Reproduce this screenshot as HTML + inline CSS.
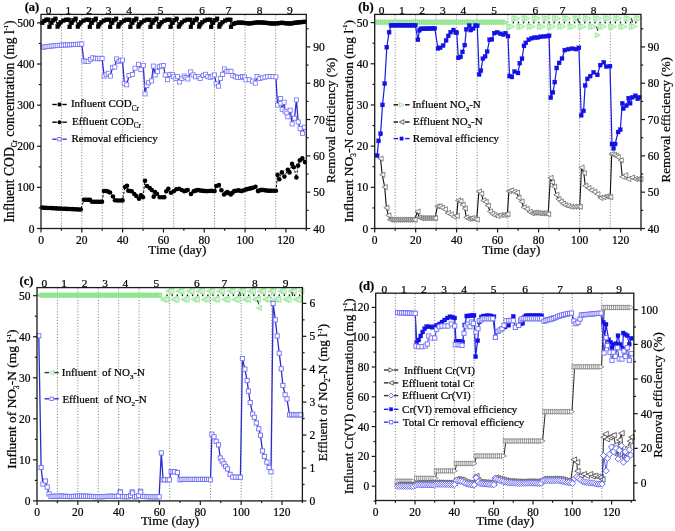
<!DOCTYPE html>
<html><head><meta charset="utf-8"><style>
html,body{margin:0;padding:0;background:#fff;}
svg{display:block;}
text{filter:grayscale(1);stroke:#000;stroke-width:0.22px;}
</style></head><body>
<svg width="675" height="531" viewBox="0 0 675 531" font-family="'Liberation Serif', serif">
<rect width="675" height="531" fill="#fff"/>
<line x1="61.41" y1="15.4" x2="61.41" y2="227.5" stroke="#6a6a6a" stroke-width="0.9" stroke-dasharray="1,1.85"/>
<line x1="81.82" y1="15.4" x2="81.82" y2="227.5" stroke="#6a6a6a" stroke-width="0.9" stroke-dasharray="1,1.85"/>
<line x1="102.22" y1="15.4" x2="102.22" y2="227.5" stroke="#6a6a6a" stroke-width="0.9" stroke-dasharray="1,1.85"/>
<line x1="122.63" y1="15.4" x2="122.63" y2="227.5" stroke="#6a6a6a" stroke-width="0.9" stroke-dasharray="1,1.85"/>
<line x1="143.04" y1="15.4" x2="143.04" y2="227.5" stroke="#6a6a6a" stroke-width="0.9" stroke-dasharray="1,1.85"/>
<line x1="173.65" y1="15.4" x2="173.65" y2="227.5" stroke="#6a6a6a" stroke-width="0.9" stroke-dasharray="1,1.85"/>
<line x1="214.47" y1="15.4" x2="214.47" y2="227.5" stroke="#6a6a6a" stroke-width="0.9" stroke-dasharray="1,1.85"/>
<line x1="245.08" y1="15.4" x2="245.08" y2="227.5" stroke="#6a6a6a" stroke-width="0.9" stroke-dasharray="1,1.85"/>
<line x1="275.69" y1="15.4" x2="275.69" y2="227.5" stroke="#6a6a6a" stroke-width="0.9" stroke-dasharray="1,1.85"/>
<polyline points="42.2,22.9 44.2,21 46.3,19.8 48.4,19.8 49.5,26.9 51.5,22.9 53.2,20.2 55.5,18.8 57.7,26.7 59,24.2 60.8,22.2 63.5,20.7 66.1,19.8 68.8,19.8 69.7,26.9 71.7,22.9 73.4,20.2 75.7,18.8 77.9,26.7 79.2,24.2 81,22.2 83.7,20.7 86.3,19.8 89,19.8 89.9,26.9 91.9,22.9 93.6,20.2 95.9,18.8 98.1,26.7 99.4,24.2 101.2,22.2 103.9,20.7 106.5,19.8 109.2,19.8 110.1,26.9 112.1,22.9 113.8,20.2 116.1,18.8 118.3,26.7 119.6,24.2 121.4,22.2 124.1,20.7 126.7,19.8 129.4,19.8 130.3,26.9 132.3,22.9 134,20.2 136.3,18.8 138.5,26.7 139.8,24.2 141.6,22.2 144.3,20.7 146.9,19.8 149.6,19.8 150.5,26.9 152.5,22.9 154.2,20.2 156.5,18.8 158.7,26.7 160,24.2 161.8,22.2 164.5,20.7 167.1,19.8 169.8,19.8 170.7,26.9 172.7,22.9 174.4,20.2 176.7,18.8 178.9,26.7 180.2,24.2 182,22.2 184.7,20.7 187.3,19.8 190,19.8 190.9,26.9 192.9,22.9 194.6,20.2 196.9,18.8 199.1,26.7 200.4,24.2 202.2,22.2 204.9,20.7 207.5,19.8 210.2,19.8 211.1,26.9 213.1,22.9 214.8,20.2 217.1,18.8 219.3,26.7 220.6,24.2 222.4,22.2 225.1,20.7 227.7,19.8 230.4,19.8 231,26.9 233.4,23.94 235.44,23.06 237.48,22.85 239.52,22.65 241.56,22.72 243.6,22.89 245.64,23.05 247.68,23.21 249.72,23.38 251.76,23.18 253.8,22.93 255.84,22.67 257.88,22.42 259.92,22.52 261.96,22.65 264,22.77 266.04,22.9 268.08,23.08 270.12,23.26 272.16,23.44 274.2,23.58 276.24,23.38 278.28,23.17 280.32,22.97 282.36,22.84 284.4,23.04 286.44,23.24 288.48,23.45 290.52,23.52 292.56,23.22 294.6,22.91 296.64,22.6 298.68,22.34 300.72,22.17 302.76,21.99 304.8,21.82" fill="none" stroke="#000" stroke-width="1.0" stroke-linejoin="round" />
<rect x="40.25" y="20.95" width="3.9" height="3.9" fill="#000" stroke="#000" stroke-width="0.3"/>
<rect x="42.25" y="19.05" width="3.9" height="3.9" fill="#000" stroke="#000" stroke-width="0.3"/>
<rect x="44.35" y="17.85" width="3.9" height="3.9" fill="#000" stroke="#000" stroke-width="0.3"/>
<rect x="46.45" y="17.85" width="3.9" height="3.9" fill="#000" stroke="#000" stroke-width="0.3"/>
<rect x="47.55" y="24.95" width="3.9" height="3.9" fill="#000" stroke="#000" stroke-width="0.3"/>
<rect x="49.55" y="20.95" width="3.9" height="3.9" fill="#000" stroke="#000" stroke-width="0.3"/>
<rect x="51.25" y="18.25" width="3.9" height="3.9" fill="#000" stroke="#000" stroke-width="0.3"/>
<rect x="53.55" y="16.85" width="3.9" height="3.9" fill="#000" stroke="#000" stroke-width="0.3"/>
<rect x="55.75" y="24.75" width="3.9" height="3.9" fill="#000" stroke="#000" stroke-width="0.3"/>
<rect x="57.05" y="22.25" width="3.9" height="3.9" fill="#000" stroke="#000" stroke-width="0.3"/>
<rect x="58.85" y="20.25" width="3.9" height="3.9" fill="#000" stroke="#000" stroke-width="0.3"/>
<rect x="61.55" y="18.75" width="3.9" height="3.9" fill="#000" stroke="#000" stroke-width="0.3"/>
<rect x="64.15" y="17.85" width="3.9" height="3.9" fill="#000" stroke="#000" stroke-width="0.3"/>
<rect x="66.85" y="17.85" width="3.9" height="3.9" fill="#000" stroke="#000" stroke-width="0.3"/>
<rect x="67.75" y="24.95" width="3.9" height="3.9" fill="#000" stroke="#000" stroke-width="0.3"/>
<rect x="69.75" y="20.95" width="3.9" height="3.9" fill="#000" stroke="#000" stroke-width="0.3"/>
<rect x="71.45" y="18.25" width="3.9" height="3.9" fill="#000" stroke="#000" stroke-width="0.3"/>
<rect x="73.75" y="16.85" width="3.9" height="3.9" fill="#000" stroke="#000" stroke-width="0.3"/>
<rect x="75.95" y="24.75" width="3.9" height="3.9" fill="#000" stroke="#000" stroke-width="0.3"/>
<rect x="77.25" y="22.25" width="3.9" height="3.9" fill="#000" stroke="#000" stroke-width="0.3"/>
<rect x="79.05" y="20.25" width="3.9" height="3.9" fill="#000" stroke="#000" stroke-width="0.3"/>
<rect x="81.75" y="18.75" width="3.9" height="3.9" fill="#000" stroke="#000" stroke-width="0.3"/>
<rect x="84.35" y="17.85" width="3.9" height="3.9" fill="#000" stroke="#000" stroke-width="0.3"/>
<rect x="87.05" y="17.85" width="3.9" height="3.9" fill="#000" stroke="#000" stroke-width="0.3"/>
<rect x="87.95" y="24.95" width="3.9" height="3.9" fill="#000" stroke="#000" stroke-width="0.3"/>
<rect x="89.95" y="20.95" width="3.9" height="3.9" fill="#000" stroke="#000" stroke-width="0.3"/>
<rect x="91.65" y="18.25" width="3.9" height="3.9" fill="#000" stroke="#000" stroke-width="0.3"/>
<rect x="93.95" y="16.85" width="3.9" height="3.9" fill="#000" stroke="#000" stroke-width="0.3"/>
<rect x="96.15" y="24.75" width="3.9" height="3.9" fill="#000" stroke="#000" stroke-width="0.3"/>
<rect x="97.45" y="22.25" width="3.9" height="3.9" fill="#000" stroke="#000" stroke-width="0.3"/>
<rect x="99.25" y="20.25" width="3.9" height="3.9" fill="#000" stroke="#000" stroke-width="0.3"/>
<rect x="101.95" y="18.75" width="3.9" height="3.9" fill="#000" stroke="#000" stroke-width="0.3"/>
<rect x="104.55" y="17.85" width="3.9" height="3.9" fill="#000" stroke="#000" stroke-width="0.3"/>
<rect x="107.25" y="17.85" width="3.9" height="3.9" fill="#000" stroke="#000" stroke-width="0.3"/>
<rect x="108.15" y="24.95" width="3.9" height="3.9" fill="#000" stroke="#000" stroke-width="0.3"/>
<rect x="110.15" y="20.95" width="3.9" height="3.9" fill="#000" stroke="#000" stroke-width="0.3"/>
<rect x="111.85" y="18.25" width="3.9" height="3.9" fill="#000" stroke="#000" stroke-width="0.3"/>
<rect x="114.15" y="16.85" width="3.9" height="3.9" fill="#000" stroke="#000" stroke-width="0.3"/>
<rect x="116.35" y="24.75" width="3.9" height="3.9" fill="#000" stroke="#000" stroke-width="0.3"/>
<rect x="117.65" y="22.25" width="3.9" height="3.9" fill="#000" stroke="#000" stroke-width="0.3"/>
<rect x="119.45" y="20.25" width="3.9" height="3.9" fill="#000" stroke="#000" stroke-width="0.3"/>
<rect x="122.15" y="18.75" width="3.9" height="3.9" fill="#000" stroke="#000" stroke-width="0.3"/>
<rect x="124.75" y="17.85" width="3.9" height="3.9" fill="#000" stroke="#000" stroke-width="0.3"/>
<rect x="127.45" y="17.85" width="3.9" height="3.9" fill="#000" stroke="#000" stroke-width="0.3"/>
<rect x="128.35" y="24.95" width="3.9" height="3.9" fill="#000" stroke="#000" stroke-width="0.3"/>
<rect x="130.35" y="20.95" width="3.9" height="3.9" fill="#000" stroke="#000" stroke-width="0.3"/>
<rect x="132.05" y="18.25" width="3.9" height="3.9" fill="#000" stroke="#000" stroke-width="0.3"/>
<rect x="134.35" y="16.85" width="3.9" height="3.9" fill="#000" stroke="#000" stroke-width="0.3"/>
<rect x="136.55" y="24.75" width="3.9" height="3.9" fill="#000" stroke="#000" stroke-width="0.3"/>
<rect x="137.85" y="22.25" width="3.9" height="3.9" fill="#000" stroke="#000" stroke-width="0.3"/>
<rect x="139.65" y="20.25" width="3.9" height="3.9" fill="#000" stroke="#000" stroke-width="0.3"/>
<rect x="142.35" y="18.75" width="3.9" height="3.9" fill="#000" stroke="#000" stroke-width="0.3"/>
<rect x="144.95" y="17.85" width="3.9" height="3.9" fill="#000" stroke="#000" stroke-width="0.3"/>
<rect x="147.65" y="17.85" width="3.9" height="3.9" fill="#000" stroke="#000" stroke-width="0.3"/>
<rect x="148.55" y="24.95" width="3.9" height="3.9" fill="#000" stroke="#000" stroke-width="0.3"/>
<rect x="150.55" y="20.95" width="3.9" height="3.9" fill="#000" stroke="#000" stroke-width="0.3"/>
<rect x="152.25" y="18.25" width="3.9" height="3.9" fill="#000" stroke="#000" stroke-width="0.3"/>
<rect x="154.55" y="16.85" width="3.9" height="3.9" fill="#000" stroke="#000" stroke-width="0.3"/>
<rect x="156.75" y="24.75" width="3.9" height="3.9" fill="#000" stroke="#000" stroke-width="0.3"/>
<rect x="158.05" y="22.25" width="3.9" height="3.9" fill="#000" stroke="#000" stroke-width="0.3"/>
<rect x="159.85" y="20.25" width="3.9" height="3.9" fill="#000" stroke="#000" stroke-width="0.3"/>
<rect x="162.55" y="18.75" width="3.9" height="3.9" fill="#000" stroke="#000" stroke-width="0.3"/>
<rect x="165.15" y="17.85" width="3.9" height="3.9" fill="#000" stroke="#000" stroke-width="0.3"/>
<rect x="167.85" y="17.85" width="3.9" height="3.9" fill="#000" stroke="#000" stroke-width="0.3"/>
<rect x="168.75" y="24.95" width="3.9" height="3.9" fill="#000" stroke="#000" stroke-width="0.3"/>
<rect x="170.75" y="20.95" width="3.9" height="3.9" fill="#000" stroke="#000" stroke-width="0.3"/>
<rect x="172.45" y="18.25" width="3.9" height="3.9" fill="#000" stroke="#000" stroke-width="0.3"/>
<rect x="174.75" y="16.85" width="3.9" height="3.9" fill="#000" stroke="#000" stroke-width="0.3"/>
<rect x="176.95" y="24.75" width="3.9" height="3.9" fill="#000" stroke="#000" stroke-width="0.3"/>
<rect x="178.25" y="22.25" width="3.9" height="3.9" fill="#000" stroke="#000" stroke-width="0.3"/>
<rect x="180.05" y="20.25" width="3.9" height="3.9" fill="#000" stroke="#000" stroke-width="0.3"/>
<rect x="182.75" y="18.75" width="3.9" height="3.9" fill="#000" stroke="#000" stroke-width="0.3"/>
<rect x="185.35" y="17.85" width="3.9" height="3.9" fill="#000" stroke="#000" stroke-width="0.3"/>
<rect x="188.05" y="17.85" width="3.9" height="3.9" fill="#000" stroke="#000" stroke-width="0.3"/>
<rect x="188.95" y="24.95" width="3.9" height="3.9" fill="#000" stroke="#000" stroke-width="0.3"/>
<rect x="190.95" y="20.95" width="3.9" height="3.9" fill="#000" stroke="#000" stroke-width="0.3"/>
<rect x="192.65" y="18.25" width="3.9" height="3.9" fill="#000" stroke="#000" stroke-width="0.3"/>
<rect x="194.95" y="16.85" width="3.9" height="3.9" fill="#000" stroke="#000" stroke-width="0.3"/>
<rect x="197.15" y="24.75" width="3.9" height="3.9" fill="#000" stroke="#000" stroke-width="0.3"/>
<rect x="198.45" y="22.25" width="3.9" height="3.9" fill="#000" stroke="#000" stroke-width="0.3"/>
<rect x="200.25" y="20.25" width="3.9" height="3.9" fill="#000" stroke="#000" stroke-width="0.3"/>
<rect x="202.95" y="18.75" width="3.9" height="3.9" fill="#000" stroke="#000" stroke-width="0.3"/>
<rect x="205.55" y="17.85" width="3.9" height="3.9" fill="#000" stroke="#000" stroke-width="0.3"/>
<rect x="208.25" y="17.85" width="3.9" height="3.9" fill="#000" stroke="#000" stroke-width="0.3"/>
<rect x="209.15" y="24.95" width="3.9" height="3.9" fill="#000" stroke="#000" stroke-width="0.3"/>
<rect x="211.15" y="20.95" width="3.9" height="3.9" fill="#000" stroke="#000" stroke-width="0.3"/>
<rect x="212.85" y="18.25" width="3.9" height="3.9" fill="#000" stroke="#000" stroke-width="0.3"/>
<rect x="215.15" y="16.85" width="3.9" height="3.9" fill="#000" stroke="#000" stroke-width="0.3"/>
<rect x="217.35" y="24.75" width="3.9" height="3.9" fill="#000" stroke="#000" stroke-width="0.3"/>
<rect x="218.65" y="22.25" width="3.9" height="3.9" fill="#000" stroke="#000" stroke-width="0.3"/>
<rect x="220.45" y="20.25" width="3.9" height="3.9" fill="#000" stroke="#000" stroke-width="0.3"/>
<rect x="223.15" y="18.75" width="3.9" height="3.9" fill="#000" stroke="#000" stroke-width="0.3"/>
<rect x="225.75" y="17.85" width="3.9" height="3.9" fill="#000" stroke="#000" stroke-width="0.3"/>
<rect x="228.45" y="17.85" width="3.9" height="3.9" fill="#000" stroke="#000" stroke-width="0.3"/>
<rect x="229.05" y="24.95" width="3.9" height="3.9" fill="#000" stroke="#000" stroke-width="0.3"/>
<rect x="231.45" y="21.99" width="3.9" height="3.9" fill="#000" stroke="#000" stroke-width="0.3"/>
<rect x="233.49" y="21.11" width="3.9" height="3.9" fill="#000" stroke="#000" stroke-width="0.3"/>
<rect x="235.53" y="20.9" width="3.9" height="3.9" fill="#000" stroke="#000" stroke-width="0.3"/>
<rect x="237.57" y="20.7" width="3.9" height="3.9" fill="#000" stroke="#000" stroke-width="0.3"/>
<rect x="239.61" y="20.77" width="3.9" height="3.9" fill="#000" stroke="#000" stroke-width="0.3"/>
<rect x="241.65" y="20.94" width="3.9" height="3.9" fill="#000" stroke="#000" stroke-width="0.3"/>
<rect x="243.69" y="21.1" width="3.9" height="3.9" fill="#000" stroke="#000" stroke-width="0.3"/>
<rect x="245.73" y="21.26" width="3.9" height="3.9" fill="#000" stroke="#000" stroke-width="0.3"/>
<rect x="247.77" y="21.43" width="3.9" height="3.9" fill="#000" stroke="#000" stroke-width="0.3"/>
<rect x="249.81" y="21.23" width="3.9" height="3.9" fill="#000" stroke="#000" stroke-width="0.3"/>
<rect x="251.85" y="20.98" width="3.9" height="3.9" fill="#000" stroke="#000" stroke-width="0.3"/>
<rect x="253.89" y="20.72" width="3.9" height="3.9" fill="#000" stroke="#000" stroke-width="0.3"/>
<rect x="255.93" y="20.47" width="3.9" height="3.9" fill="#000" stroke="#000" stroke-width="0.3"/>
<rect x="257.97" y="20.57" width="3.9" height="3.9" fill="#000" stroke="#000" stroke-width="0.3"/>
<rect x="260.01" y="20.7" width="3.9" height="3.9" fill="#000" stroke="#000" stroke-width="0.3"/>
<rect x="262.05" y="20.82" width="3.9" height="3.9" fill="#000" stroke="#000" stroke-width="0.3"/>
<rect x="264.09" y="20.95" width="3.9" height="3.9" fill="#000" stroke="#000" stroke-width="0.3"/>
<rect x="266.13" y="21.13" width="3.9" height="3.9" fill="#000" stroke="#000" stroke-width="0.3"/>
<rect x="268.17" y="21.31" width="3.9" height="3.9" fill="#000" stroke="#000" stroke-width="0.3"/>
<rect x="270.21" y="21.49" width="3.9" height="3.9" fill="#000" stroke="#000" stroke-width="0.3"/>
<rect x="272.25" y="21.63" width="3.9" height="3.9" fill="#000" stroke="#000" stroke-width="0.3"/>
<rect x="274.29" y="21.43" width="3.9" height="3.9" fill="#000" stroke="#000" stroke-width="0.3"/>
<rect x="276.33" y="21.22" width="3.9" height="3.9" fill="#000" stroke="#000" stroke-width="0.3"/>
<rect x="278.37" y="21.02" width="3.9" height="3.9" fill="#000" stroke="#000" stroke-width="0.3"/>
<rect x="280.41" y="20.89" width="3.9" height="3.9" fill="#000" stroke="#000" stroke-width="0.3"/>
<rect x="282.45" y="21.09" width="3.9" height="3.9" fill="#000" stroke="#000" stroke-width="0.3"/>
<rect x="284.49" y="21.29" width="3.9" height="3.9" fill="#000" stroke="#000" stroke-width="0.3"/>
<rect x="286.53" y="21.5" width="3.9" height="3.9" fill="#000" stroke="#000" stroke-width="0.3"/>
<rect x="288.57" y="21.57" width="3.9" height="3.9" fill="#000" stroke="#000" stroke-width="0.3"/>
<rect x="290.61" y="21.27" width="3.9" height="3.9" fill="#000" stroke="#000" stroke-width="0.3"/>
<rect x="292.65" y="20.96" width="3.9" height="3.9" fill="#000" stroke="#000" stroke-width="0.3"/>
<rect x="294.69" y="20.65" width="3.9" height="3.9" fill="#000" stroke="#000" stroke-width="0.3"/>
<rect x="296.73" y="20.39" width="3.9" height="3.9" fill="#000" stroke="#000" stroke-width="0.3"/>
<rect x="298.77" y="20.22" width="3.9" height="3.9" fill="#000" stroke="#000" stroke-width="0.3"/>
<rect x="300.81" y="20.04" width="3.9" height="3.9" fill="#000" stroke="#000" stroke-width="0.3"/>
<rect x="302.85" y="19.87" width="3.9" height="3.9" fill="#000" stroke="#000" stroke-width="0.3"/>
<polyline points="43,47.2 45.04,46.91 47.08,46.62 49.12,46.33 51.16,46.08 53.2,45.88 55.24,45.68 57.28,45.47 59.32,45.27 61.36,45.15 63.4,45.06 65.44,44.98 67.48,44.9 69.52,44.82 71.56,44.7 73.6,44.57 75.64,44.43 77.68,44.3 79.72,44.17 81.76,44.04 83.8,61 86,61.2 88.2,61.4 90.5,59.5 92.8,57.8 95.3,58.3 97.6,58.8 99.8,58.3 102.1,58.4 104.1,76.1 106.2,74.7 108.3,73.2 110.4,76.1 112.4,67.5 114.8,67 116.6,59 119,61.3 120.8,60.4 122.5,60.1 124.3,83.3 126.7,84.8 129,75.6 132.6,74.4 135,68.2 138.5,64.3 140.9,69.6 143.3,65.5 145,93.9 146.8,85.6 148.6,82.7 151.6,80.9 153.3,66.1 155.1,75 157.5,71.4 159.3,66.7 161.4,66 163.4,65.5 165.2,75 167.6,79.7 169.9,74.4 172.3,74.4 173.6,76.7 175.9,78.4 177.7,76.7 179.5,82 181.9,78.4 184.2,76.1 186,77.5 187.8,79 190.7,71.9 193.1,74.9 195.5,76.7 198.4,76.7 200.2,78.4 203.2,75.5 205.6,74.3 207.9,76.7 210.3,77.3 212.3,76.2 214.4,74.9 216.2,83.8 218.6,86.1 220.4,78.4 222.7,74.3 224.5,69 226.9,71.3 229,71.3 231,71.3 232.8,75.5 235.2,76.7 237.6,77.3 240.5,77.3 242.5,76.6 244.6,77.1 245.9,79.8 249.2,79.8 252.5,81.1 255.2,83.1 257.1,76.5 259.8,78.5 262.4,77.8 265,77.1 267.7,76.5 270.3,76.5 273,76.5 275.9,76.9 277.5,105.1 280.4,98.5 280.8,103.2 282.2,109.3 284.1,102.2 285.1,111.2 286.9,113.1 287.9,116.8 290.2,110.2 292.1,123.9 294.5,118.2 296.4,99.9 298.2,122 300.1,128.6 302.5,133.3 304.4,127.2" fill="none" stroke="#2b2bd0" stroke-width="1.3" stroke-linejoin="round" />
<rect x="40.95" y="45.15" width="4.1" height="4.1" fill="#fff" stroke="#6f6ff5" stroke-width="0.8"/>
<rect x="42.99" y="44.86" width="4.1" height="4.1" fill="#fff" stroke="#6f6ff5" stroke-width="0.8"/>
<rect x="45.03" y="44.57" width="4.1" height="4.1" fill="#fff" stroke="#6f6ff5" stroke-width="0.8"/>
<rect x="47.07" y="44.28" width="4.1" height="4.1" fill="#fff" stroke="#6f6ff5" stroke-width="0.8"/>
<rect x="49.11" y="44.03" width="4.1" height="4.1" fill="#fff" stroke="#6f6ff5" stroke-width="0.8"/>
<rect x="51.15" y="43.83" width="4.1" height="4.1" fill="#fff" stroke="#6f6ff5" stroke-width="0.8"/>
<rect x="53.19" y="43.63" width="4.1" height="4.1" fill="#fff" stroke="#6f6ff5" stroke-width="0.8"/>
<rect x="55.23" y="43.42" width="4.1" height="4.1" fill="#fff" stroke="#6f6ff5" stroke-width="0.8"/>
<rect x="57.27" y="43.22" width="4.1" height="4.1" fill="#fff" stroke="#6f6ff5" stroke-width="0.8"/>
<rect x="59.31" y="43.1" width="4.1" height="4.1" fill="#fff" stroke="#6f6ff5" stroke-width="0.8"/>
<rect x="61.35" y="43.01" width="4.1" height="4.1" fill="#fff" stroke="#6f6ff5" stroke-width="0.8"/>
<rect x="63.39" y="42.93" width="4.1" height="4.1" fill="#fff" stroke="#6f6ff5" stroke-width="0.8"/>
<rect x="65.43" y="42.85" width="4.1" height="4.1" fill="#fff" stroke="#6f6ff5" stroke-width="0.8"/>
<rect x="67.47" y="42.77" width="4.1" height="4.1" fill="#fff" stroke="#6f6ff5" stroke-width="0.8"/>
<rect x="69.51" y="42.65" width="4.1" height="4.1" fill="#fff" stroke="#6f6ff5" stroke-width="0.8"/>
<rect x="71.55" y="42.52" width="4.1" height="4.1" fill="#fff" stroke="#6f6ff5" stroke-width="0.8"/>
<rect x="73.59" y="42.38" width="4.1" height="4.1" fill="#fff" stroke="#6f6ff5" stroke-width="0.8"/>
<rect x="75.63" y="42.25" width="4.1" height="4.1" fill="#fff" stroke="#6f6ff5" stroke-width="0.8"/>
<rect x="77.67" y="42.12" width="4.1" height="4.1" fill="#fff" stroke="#6f6ff5" stroke-width="0.8"/>
<rect x="79.71" y="41.99" width="4.1" height="4.1" fill="#fff" stroke="#6f6ff5" stroke-width="0.8"/>
<rect x="81.75" y="58.95" width="4.1" height="4.1" fill="#fff" stroke="#6f6ff5" stroke-width="0.8"/>
<rect x="83.95" y="59.15" width="4.1" height="4.1" fill="#fff" stroke="#6f6ff5" stroke-width="0.8"/>
<rect x="86.15" y="59.35" width="4.1" height="4.1" fill="#fff" stroke="#6f6ff5" stroke-width="0.8"/>
<rect x="88.45" y="57.45" width="4.1" height="4.1" fill="#fff" stroke="#6f6ff5" stroke-width="0.8"/>
<rect x="90.75" y="55.75" width="4.1" height="4.1" fill="#fff" stroke="#6f6ff5" stroke-width="0.8"/>
<rect x="93.25" y="56.25" width="4.1" height="4.1" fill="#fff" stroke="#6f6ff5" stroke-width="0.8"/>
<rect x="95.55" y="56.75" width="4.1" height="4.1" fill="#fff" stroke="#6f6ff5" stroke-width="0.8"/>
<rect x="97.75" y="56.25" width="4.1" height="4.1" fill="#fff" stroke="#6f6ff5" stroke-width="0.8"/>
<rect x="100.05" y="56.35" width="4.1" height="4.1" fill="#fff" stroke="#6f6ff5" stroke-width="0.8"/>
<rect x="102.05" y="74.05" width="4.1" height="4.1" fill="#fff" stroke="#6f6ff5" stroke-width="0.8"/>
<rect x="104.15" y="72.65" width="4.1" height="4.1" fill="#fff" stroke="#6f6ff5" stroke-width="0.8"/>
<rect x="106.25" y="71.15" width="4.1" height="4.1" fill="#fff" stroke="#6f6ff5" stroke-width="0.8"/>
<rect x="108.35" y="74.05" width="4.1" height="4.1" fill="#fff" stroke="#6f6ff5" stroke-width="0.8"/>
<rect x="110.35" y="65.45" width="4.1" height="4.1" fill="#fff" stroke="#6f6ff5" stroke-width="0.8"/>
<rect x="112.75" y="64.95" width="4.1" height="4.1" fill="#fff" stroke="#6f6ff5" stroke-width="0.8"/>
<rect x="114.55" y="56.95" width="4.1" height="4.1" fill="#fff" stroke="#6f6ff5" stroke-width="0.8"/>
<rect x="116.95" y="59.25" width="4.1" height="4.1" fill="#fff" stroke="#6f6ff5" stroke-width="0.8"/>
<rect x="118.75" y="58.35" width="4.1" height="4.1" fill="#fff" stroke="#6f6ff5" stroke-width="0.8"/>
<rect x="120.45" y="58.05" width="4.1" height="4.1" fill="#fff" stroke="#6f6ff5" stroke-width="0.8"/>
<rect x="122.25" y="81.25" width="4.1" height="4.1" fill="#fff" stroke="#6f6ff5" stroke-width="0.8"/>
<rect x="124.65" y="82.75" width="4.1" height="4.1" fill="#fff" stroke="#6f6ff5" stroke-width="0.8"/>
<rect x="126.95" y="73.55" width="4.1" height="4.1" fill="#fff" stroke="#6f6ff5" stroke-width="0.8"/>
<rect x="130.55" y="72.35" width="4.1" height="4.1" fill="#fff" stroke="#6f6ff5" stroke-width="0.8"/>
<rect x="132.95" y="66.15" width="4.1" height="4.1" fill="#fff" stroke="#6f6ff5" stroke-width="0.8"/>
<rect x="136.45" y="62.25" width="4.1" height="4.1" fill="#fff" stroke="#6f6ff5" stroke-width="0.8"/>
<rect x="138.85" y="67.55" width="4.1" height="4.1" fill="#fff" stroke="#6f6ff5" stroke-width="0.8"/>
<rect x="141.25" y="63.45" width="4.1" height="4.1" fill="#fff" stroke="#6f6ff5" stroke-width="0.8"/>
<rect x="142.95" y="91.85" width="4.1" height="4.1" fill="#fff" stroke="#6f6ff5" stroke-width="0.8"/>
<rect x="144.75" y="83.55" width="4.1" height="4.1" fill="#fff" stroke="#6f6ff5" stroke-width="0.8"/>
<rect x="146.55" y="80.65" width="4.1" height="4.1" fill="#fff" stroke="#6f6ff5" stroke-width="0.8"/>
<rect x="149.55" y="78.85" width="4.1" height="4.1" fill="#fff" stroke="#6f6ff5" stroke-width="0.8"/>
<rect x="151.25" y="64.05" width="4.1" height="4.1" fill="#fff" stroke="#6f6ff5" stroke-width="0.8"/>
<rect x="153.05" y="72.95" width="4.1" height="4.1" fill="#fff" stroke="#6f6ff5" stroke-width="0.8"/>
<rect x="155.45" y="69.35" width="4.1" height="4.1" fill="#fff" stroke="#6f6ff5" stroke-width="0.8"/>
<rect x="157.25" y="64.65" width="4.1" height="4.1" fill="#fff" stroke="#6f6ff5" stroke-width="0.8"/>
<rect x="159.35" y="63.95" width="4.1" height="4.1" fill="#fff" stroke="#6f6ff5" stroke-width="0.8"/>
<rect x="161.35" y="63.45" width="4.1" height="4.1" fill="#fff" stroke="#6f6ff5" stroke-width="0.8"/>
<rect x="163.15" y="72.95" width="4.1" height="4.1" fill="#fff" stroke="#6f6ff5" stroke-width="0.8"/>
<rect x="165.55" y="77.65" width="4.1" height="4.1" fill="#fff" stroke="#6f6ff5" stroke-width="0.8"/>
<rect x="167.85" y="72.35" width="4.1" height="4.1" fill="#fff" stroke="#6f6ff5" stroke-width="0.8"/>
<rect x="170.25" y="72.35" width="4.1" height="4.1" fill="#fff" stroke="#6f6ff5" stroke-width="0.8"/>
<rect x="171.55" y="74.65" width="4.1" height="4.1" fill="#fff" stroke="#6f6ff5" stroke-width="0.8"/>
<rect x="173.85" y="76.35" width="4.1" height="4.1" fill="#fff" stroke="#6f6ff5" stroke-width="0.8"/>
<rect x="175.65" y="74.65" width="4.1" height="4.1" fill="#fff" stroke="#6f6ff5" stroke-width="0.8"/>
<rect x="177.45" y="79.95" width="4.1" height="4.1" fill="#fff" stroke="#6f6ff5" stroke-width="0.8"/>
<rect x="179.85" y="76.35" width="4.1" height="4.1" fill="#fff" stroke="#6f6ff5" stroke-width="0.8"/>
<rect x="182.15" y="74.05" width="4.1" height="4.1" fill="#fff" stroke="#6f6ff5" stroke-width="0.8"/>
<rect x="183.95" y="75.45" width="4.1" height="4.1" fill="#fff" stroke="#6f6ff5" stroke-width="0.8"/>
<rect x="185.75" y="76.95" width="4.1" height="4.1" fill="#fff" stroke="#6f6ff5" stroke-width="0.8"/>
<rect x="188.65" y="69.85" width="4.1" height="4.1" fill="#fff" stroke="#6f6ff5" stroke-width="0.8"/>
<rect x="191.05" y="72.85" width="4.1" height="4.1" fill="#fff" stroke="#6f6ff5" stroke-width="0.8"/>
<rect x="193.45" y="74.65" width="4.1" height="4.1" fill="#fff" stroke="#6f6ff5" stroke-width="0.8"/>
<rect x="196.35" y="74.65" width="4.1" height="4.1" fill="#fff" stroke="#6f6ff5" stroke-width="0.8"/>
<rect x="198.15" y="76.35" width="4.1" height="4.1" fill="#fff" stroke="#6f6ff5" stroke-width="0.8"/>
<rect x="201.15" y="73.45" width="4.1" height="4.1" fill="#fff" stroke="#6f6ff5" stroke-width="0.8"/>
<rect x="203.55" y="72.25" width="4.1" height="4.1" fill="#fff" stroke="#6f6ff5" stroke-width="0.8"/>
<rect x="205.85" y="74.65" width="4.1" height="4.1" fill="#fff" stroke="#6f6ff5" stroke-width="0.8"/>
<rect x="208.25" y="75.25" width="4.1" height="4.1" fill="#fff" stroke="#6f6ff5" stroke-width="0.8"/>
<rect x="210.25" y="74.15" width="4.1" height="4.1" fill="#fff" stroke="#6f6ff5" stroke-width="0.8"/>
<rect x="212.35" y="72.85" width="4.1" height="4.1" fill="#fff" stroke="#6f6ff5" stroke-width="0.8"/>
<rect x="214.15" y="81.75" width="4.1" height="4.1" fill="#fff" stroke="#6f6ff5" stroke-width="0.8"/>
<rect x="216.55" y="84.05" width="4.1" height="4.1" fill="#fff" stroke="#6f6ff5" stroke-width="0.8"/>
<rect x="218.35" y="76.35" width="4.1" height="4.1" fill="#fff" stroke="#6f6ff5" stroke-width="0.8"/>
<rect x="220.65" y="72.25" width="4.1" height="4.1" fill="#fff" stroke="#6f6ff5" stroke-width="0.8"/>
<rect x="222.45" y="66.95" width="4.1" height="4.1" fill="#fff" stroke="#6f6ff5" stroke-width="0.8"/>
<rect x="224.85" y="69.25" width="4.1" height="4.1" fill="#fff" stroke="#6f6ff5" stroke-width="0.8"/>
<rect x="226.95" y="69.25" width="4.1" height="4.1" fill="#fff" stroke="#6f6ff5" stroke-width="0.8"/>
<rect x="228.95" y="69.25" width="4.1" height="4.1" fill="#fff" stroke="#6f6ff5" stroke-width="0.8"/>
<rect x="230.75" y="73.45" width="4.1" height="4.1" fill="#fff" stroke="#6f6ff5" stroke-width="0.8"/>
<rect x="233.15" y="74.65" width="4.1" height="4.1" fill="#fff" stroke="#6f6ff5" stroke-width="0.8"/>
<rect x="235.55" y="75.25" width="4.1" height="4.1" fill="#fff" stroke="#6f6ff5" stroke-width="0.8"/>
<rect x="238.45" y="75.25" width="4.1" height="4.1" fill="#fff" stroke="#6f6ff5" stroke-width="0.8"/>
<rect x="240.45" y="74.55" width="4.1" height="4.1" fill="#fff" stroke="#6f6ff5" stroke-width="0.8"/>
<rect x="242.55" y="75.05" width="4.1" height="4.1" fill="#fff" stroke="#6f6ff5" stroke-width="0.8"/>
<rect x="243.85" y="77.75" width="4.1" height="4.1" fill="#fff" stroke="#6f6ff5" stroke-width="0.8"/>
<rect x="247.15" y="77.75" width="4.1" height="4.1" fill="#fff" stroke="#6f6ff5" stroke-width="0.8"/>
<rect x="250.45" y="79.05" width="4.1" height="4.1" fill="#fff" stroke="#6f6ff5" stroke-width="0.8"/>
<rect x="253.15" y="81.05" width="4.1" height="4.1" fill="#fff" stroke="#6f6ff5" stroke-width="0.8"/>
<rect x="255.05" y="74.45" width="4.1" height="4.1" fill="#fff" stroke="#6f6ff5" stroke-width="0.8"/>
<rect x="257.75" y="76.45" width="4.1" height="4.1" fill="#fff" stroke="#6f6ff5" stroke-width="0.8"/>
<rect x="260.35" y="75.75" width="4.1" height="4.1" fill="#fff" stroke="#6f6ff5" stroke-width="0.8"/>
<rect x="262.95" y="75.05" width="4.1" height="4.1" fill="#fff" stroke="#6f6ff5" stroke-width="0.8"/>
<rect x="265.65" y="74.45" width="4.1" height="4.1" fill="#fff" stroke="#6f6ff5" stroke-width="0.8"/>
<rect x="268.25" y="74.45" width="4.1" height="4.1" fill="#fff" stroke="#6f6ff5" stroke-width="0.8"/>
<rect x="270.95" y="74.45" width="4.1" height="4.1" fill="#fff" stroke="#6f6ff5" stroke-width="0.8"/>
<rect x="273.85" y="74.85" width="4.1" height="4.1" fill="#fff" stroke="#6f6ff5" stroke-width="0.8"/>
<rect x="275.45" y="103.05" width="4.1" height="4.1" fill="#fff" stroke="#6f6ff5" stroke-width="0.8"/>
<rect x="278.35" y="96.45" width="4.1" height="4.1" fill="#fff" stroke="#6f6ff5" stroke-width="0.8"/>
<rect x="278.75" y="101.15" width="4.1" height="4.1" fill="#fff" stroke="#6f6ff5" stroke-width="0.8"/>
<rect x="280.15" y="107.25" width="4.1" height="4.1" fill="#fff" stroke="#6f6ff5" stroke-width="0.8"/>
<rect x="282.05" y="100.15" width="4.1" height="4.1" fill="#fff" stroke="#6f6ff5" stroke-width="0.8"/>
<rect x="283.05" y="109.15" width="4.1" height="4.1" fill="#fff" stroke="#6f6ff5" stroke-width="0.8"/>
<rect x="284.85" y="111.05" width="4.1" height="4.1" fill="#fff" stroke="#6f6ff5" stroke-width="0.8"/>
<rect x="285.85" y="114.75" width="4.1" height="4.1" fill="#fff" stroke="#6f6ff5" stroke-width="0.8"/>
<rect x="288.15" y="108.15" width="4.1" height="4.1" fill="#fff" stroke="#6f6ff5" stroke-width="0.8"/>
<rect x="290.05" y="121.85" width="4.1" height="4.1" fill="#fff" stroke="#6f6ff5" stroke-width="0.8"/>
<rect x="292.45" y="116.15" width="4.1" height="4.1" fill="#fff" stroke="#6f6ff5" stroke-width="0.8"/>
<rect x="294.35" y="97.85" width="4.1" height="4.1" fill="#fff" stroke="#6f6ff5" stroke-width="0.8"/>
<rect x="296.15" y="119.95" width="4.1" height="4.1" fill="#fff" stroke="#6f6ff5" stroke-width="0.8"/>
<rect x="298.05" y="126.55" width="4.1" height="4.1" fill="#fff" stroke="#6f6ff5" stroke-width="0.8"/>
<rect x="300.45" y="131.25" width="4.1" height="4.1" fill="#fff" stroke="#6f6ff5" stroke-width="0.8"/>
<rect x="302.35" y="125.15" width="4.1" height="4.1" fill="#fff" stroke="#6f6ff5" stroke-width="0.8"/>
<polyline points="42,207.6 44.04,207.71 46.08,207.83 48.12,207.94 50.16,208.05 52.2,208.17 54.24,208.28 56.28,208.39 58.32,208.51 60.36,208.62 62.4,208.71 64.44,208.8 66.48,208.89 68.52,208.98 70.56,209.07 72.6,209.16 74.64,209.25 76.68,209.34 78.72,209.43 80.76,209.52 84,199.7 86,199.77 88,199.83 90,199.9 92,201.7 94,201.7 96,201.7 98,201.7 100,201.7 102,201.7 104,191 106,191 108,191.5 110,192.5 113,196.5 115,200.2 117.5,200.5 120,200.5 122.5,200.4 125,187 127,185.7 128.3,190.7 130,191 131.7,191.3 134.3,194 136.3,196 139,198.7 141,195.3 143,197.3 145,180.7 147,186 149.7,188 151.7,190 153.7,196.7 155,192 157,194 159.7,197.3 162.3,197.3 164.3,197.3 166.3,191.3 168.3,188.7 171,192.7 173.7,191.3 176.3,189.3 179,188.7 181.7,190 184.3,191.3 186,190.65 187.7,190 191,194 193.7,191.3 195.7,190.65 197.7,190 199.7,190.35 201.7,190.7 203.43,190.83 205.17,190.97 206.9,191.1 209.05,190.95 211.2,190.8 212.9,190.95 214.6,191.1 216.3,186 218.9,185.1 221.4,190.3 224,194.5 225.7,193.25 227.4,192 229.1,193.25 230.8,194.5 232.5,192.8 234.2,191.1 236.3,190.7 238.4,190.3 240.1,190.7 241.8,191.1 243.95,190.25 246.1,189.4 247.8,189 249.5,188.6 251.2,188.15 252.9,187.7 255.5,186.8 258,191.1 259.7,190.4 261.4,189.7 263.1,190 264.8,190.3 266.55,190.55 268.3,190.8 270,190.8 271.7,190.8 273.8,190.8 275.9,190.8 277.6,174.9 279.3,179.2 281.9,172.4 284.4,176.6 287.8,169.8 289.5,172.4 292.1,163.9 293.8,167.3 296.4,177.5 298.1,165.6 299.8,160.4 302.3,158.4 304.9,162.1" fill="none" stroke="#000" stroke-width="1.0" stroke-linejoin="round" stroke-dasharray="2.5,1.5"/>
<circle cx="42" cy="207.6" r="2.3" fill="#000" stroke="none" stroke-width="0"/>
<circle cx="44.04" cy="207.71" r="2.3" fill="#000" stroke="none" stroke-width="0"/>
<circle cx="46.08" cy="207.83" r="2.3" fill="#000" stroke="none" stroke-width="0"/>
<circle cx="48.12" cy="207.94" r="2.3" fill="#000" stroke="none" stroke-width="0"/>
<circle cx="50.16" cy="208.05" r="2.3" fill="#000" stroke="none" stroke-width="0"/>
<circle cx="52.2" cy="208.17" r="2.3" fill="#000" stroke="none" stroke-width="0"/>
<circle cx="54.24" cy="208.28" r="2.3" fill="#000" stroke="none" stroke-width="0"/>
<circle cx="56.28" cy="208.39" r="2.3" fill="#000" stroke="none" stroke-width="0"/>
<circle cx="58.32" cy="208.51" r="2.3" fill="#000" stroke="none" stroke-width="0"/>
<circle cx="60.36" cy="208.62" r="2.3" fill="#000" stroke="none" stroke-width="0"/>
<circle cx="62.4" cy="208.71" r="2.3" fill="#000" stroke="none" stroke-width="0"/>
<circle cx="64.44" cy="208.8" r="2.3" fill="#000" stroke="none" stroke-width="0"/>
<circle cx="66.48" cy="208.89" r="2.3" fill="#000" stroke="none" stroke-width="0"/>
<circle cx="68.52" cy="208.98" r="2.3" fill="#000" stroke="none" stroke-width="0"/>
<circle cx="70.56" cy="209.07" r="2.3" fill="#000" stroke="none" stroke-width="0"/>
<circle cx="72.6" cy="209.16" r="2.3" fill="#000" stroke="none" stroke-width="0"/>
<circle cx="74.64" cy="209.25" r="2.3" fill="#000" stroke="none" stroke-width="0"/>
<circle cx="76.68" cy="209.34" r="2.3" fill="#000" stroke="none" stroke-width="0"/>
<circle cx="78.72" cy="209.43" r="2.3" fill="#000" stroke="none" stroke-width="0"/>
<circle cx="80.76" cy="209.52" r="2.3" fill="#000" stroke="none" stroke-width="0"/>
<circle cx="84" cy="199.7" r="2.3" fill="#000" stroke="none" stroke-width="0"/>
<circle cx="86" cy="199.77" r="2.3" fill="#000" stroke="none" stroke-width="0"/>
<circle cx="88" cy="199.83" r="2.3" fill="#000" stroke="none" stroke-width="0"/>
<circle cx="90" cy="199.9" r="2.3" fill="#000" stroke="none" stroke-width="0"/>
<circle cx="92" cy="201.7" r="2.3" fill="#000" stroke="none" stroke-width="0"/>
<circle cx="94" cy="201.7" r="2.3" fill="#000" stroke="none" stroke-width="0"/>
<circle cx="96" cy="201.7" r="2.3" fill="#000" stroke="none" stroke-width="0"/>
<circle cx="98" cy="201.7" r="2.3" fill="#000" stroke="none" stroke-width="0"/>
<circle cx="100" cy="201.7" r="2.3" fill="#000" stroke="none" stroke-width="0"/>
<circle cx="102" cy="201.7" r="2.3" fill="#000" stroke="none" stroke-width="0"/>
<circle cx="104" cy="191" r="2.3" fill="#000" stroke="none" stroke-width="0"/>
<circle cx="106" cy="191" r="2.3" fill="#000" stroke="none" stroke-width="0"/>
<circle cx="108" cy="191.5" r="2.3" fill="#000" stroke="none" stroke-width="0"/>
<circle cx="110" cy="192.5" r="2.3" fill="#000" stroke="none" stroke-width="0"/>
<circle cx="113" cy="196.5" r="2.3" fill="#000" stroke="none" stroke-width="0"/>
<circle cx="115" cy="200.2" r="2.3" fill="#000" stroke="none" stroke-width="0"/>
<circle cx="117.5" cy="200.5" r="2.3" fill="#000" stroke="none" stroke-width="0"/>
<circle cx="120" cy="200.5" r="2.3" fill="#000" stroke="none" stroke-width="0"/>
<circle cx="122.5" cy="200.4" r="2.3" fill="#000" stroke="none" stroke-width="0"/>
<circle cx="125" cy="187" r="2.3" fill="#000" stroke="none" stroke-width="0"/>
<circle cx="127" cy="185.7" r="2.3" fill="#000" stroke="none" stroke-width="0"/>
<circle cx="128.3" cy="190.7" r="2.3" fill="#000" stroke="none" stroke-width="0"/>
<circle cx="130" cy="191" r="2.3" fill="#000" stroke="none" stroke-width="0"/>
<circle cx="131.7" cy="191.3" r="2.3" fill="#000" stroke="none" stroke-width="0"/>
<circle cx="134.3" cy="194" r="2.3" fill="#000" stroke="none" stroke-width="0"/>
<circle cx="136.3" cy="196" r="2.3" fill="#000" stroke="none" stroke-width="0"/>
<circle cx="139" cy="198.7" r="2.3" fill="#000" stroke="none" stroke-width="0"/>
<circle cx="141" cy="195.3" r="2.3" fill="#000" stroke="none" stroke-width="0"/>
<circle cx="143" cy="197.3" r="2.3" fill="#000" stroke="none" stroke-width="0"/>
<circle cx="145" cy="180.7" r="2.3" fill="#000" stroke="none" stroke-width="0"/>
<circle cx="147" cy="186" r="2.3" fill="#000" stroke="none" stroke-width="0"/>
<circle cx="149.7" cy="188" r="2.3" fill="#000" stroke="none" stroke-width="0"/>
<circle cx="151.7" cy="190" r="2.3" fill="#000" stroke="none" stroke-width="0"/>
<circle cx="153.7" cy="196.7" r="2.3" fill="#000" stroke="none" stroke-width="0"/>
<circle cx="155" cy="192" r="2.3" fill="#000" stroke="none" stroke-width="0"/>
<circle cx="157" cy="194" r="2.3" fill="#000" stroke="none" stroke-width="0"/>
<circle cx="159.7" cy="197.3" r="2.3" fill="#000" stroke="none" stroke-width="0"/>
<circle cx="162.3" cy="197.3" r="2.3" fill="#000" stroke="none" stroke-width="0"/>
<circle cx="164.3" cy="197.3" r="2.3" fill="#000" stroke="none" stroke-width="0"/>
<circle cx="166.3" cy="191.3" r="2.3" fill="#000" stroke="none" stroke-width="0"/>
<circle cx="168.3" cy="188.7" r="2.3" fill="#000" stroke="none" stroke-width="0"/>
<circle cx="171" cy="192.7" r="2.3" fill="#000" stroke="none" stroke-width="0"/>
<circle cx="173.7" cy="191.3" r="2.3" fill="#000" stroke="none" stroke-width="0"/>
<circle cx="176.3" cy="189.3" r="2.3" fill="#000" stroke="none" stroke-width="0"/>
<circle cx="179" cy="188.7" r="2.3" fill="#000" stroke="none" stroke-width="0"/>
<circle cx="181.7" cy="190" r="2.3" fill="#000" stroke="none" stroke-width="0"/>
<circle cx="184.3" cy="191.3" r="2.3" fill="#000" stroke="none" stroke-width="0"/>
<circle cx="186" cy="190.65" r="2.3" fill="#000" stroke="none" stroke-width="0"/>
<circle cx="187.7" cy="190" r="2.3" fill="#000" stroke="none" stroke-width="0"/>
<circle cx="191" cy="194" r="2.3" fill="#000" stroke="none" stroke-width="0"/>
<circle cx="193.7" cy="191.3" r="2.3" fill="#000" stroke="none" stroke-width="0"/>
<circle cx="195.7" cy="190.65" r="2.3" fill="#000" stroke="none" stroke-width="0"/>
<circle cx="197.7" cy="190" r="2.3" fill="#000" stroke="none" stroke-width="0"/>
<circle cx="199.7" cy="190.35" r="2.3" fill="#000" stroke="none" stroke-width="0"/>
<circle cx="201.7" cy="190.7" r="2.3" fill="#000" stroke="none" stroke-width="0"/>
<circle cx="203.43" cy="190.83" r="2.3" fill="#000" stroke="none" stroke-width="0"/>
<circle cx="205.17" cy="190.97" r="2.3" fill="#000" stroke="none" stroke-width="0"/>
<circle cx="206.9" cy="191.1" r="2.3" fill="#000" stroke="none" stroke-width="0"/>
<circle cx="209.05" cy="190.95" r="2.3" fill="#000" stroke="none" stroke-width="0"/>
<circle cx="211.2" cy="190.8" r="2.3" fill="#000" stroke="none" stroke-width="0"/>
<circle cx="212.9" cy="190.95" r="2.3" fill="#000" stroke="none" stroke-width="0"/>
<circle cx="214.6" cy="191.1" r="2.3" fill="#000" stroke="none" stroke-width="0"/>
<circle cx="216.3" cy="186" r="2.3" fill="#000" stroke="none" stroke-width="0"/>
<circle cx="218.9" cy="185.1" r="2.3" fill="#000" stroke="none" stroke-width="0"/>
<circle cx="221.4" cy="190.3" r="2.3" fill="#000" stroke="none" stroke-width="0"/>
<circle cx="224" cy="194.5" r="2.3" fill="#000" stroke="none" stroke-width="0"/>
<circle cx="225.7" cy="193.25" r="2.3" fill="#000" stroke="none" stroke-width="0"/>
<circle cx="227.4" cy="192" r="2.3" fill="#000" stroke="none" stroke-width="0"/>
<circle cx="229.1" cy="193.25" r="2.3" fill="#000" stroke="none" stroke-width="0"/>
<circle cx="230.8" cy="194.5" r="2.3" fill="#000" stroke="none" stroke-width="0"/>
<circle cx="232.5" cy="192.8" r="2.3" fill="#000" stroke="none" stroke-width="0"/>
<circle cx="234.2" cy="191.1" r="2.3" fill="#000" stroke="none" stroke-width="0"/>
<circle cx="236.3" cy="190.7" r="2.3" fill="#000" stroke="none" stroke-width="0"/>
<circle cx="238.4" cy="190.3" r="2.3" fill="#000" stroke="none" stroke-width="0"/>
<circle cx="240.1" cy="190.7" r="2.3" fill="#000" stroke="none" stroke-width="0"/>
<circle cx="241.8" cy="191.1" r="2.3" fill="#000" stroke="none" stroke-width="0"/>
<circle cx="243.95" cy="190.25" r="2.3" fill="#000" stroke="none" stroke-width="0"/>
<circle cx="246.1" cy="189.4" r="2.3" fill="#000" stroke="none" stroke-width="0"/>
<circle cx="247.8" cy="189" r="2.3" fill="#000" stroke="none" stroke-width="0"/>
<circle cx="249.5" cy="188.6" r="2.3" fill="#000" stroke="none" stroke-width="0"/>
<circle cx="251.2" cy="188.15" r="2.3" fill="#000" stroke="none" stroke-width="0"/>
<circle cx="252.9" cy="187.7" r="2.3" fill="#000" stroke="none" stroke-width="0"/>
<circle cx="255.5" cy="186.8" r="2.3" fill="#000" stroke="none" stroke-width="0"/>
<circle cx="258" cy="191.1" r="2.3" fill="#000" stroke="none" stroke-width="0"/>
<circle cx="259.7" cy="190.4" r="2.3" fill="#000" stroke="none" stroke-width="0"/>
<circle cx="261.4" cy="189.7" r="2.3" fill="#000" stroke="none" stroke-width="0"/>
<circle cx="263.1" cy="190" r="2.3" fill="#000" stroke="none" stroke-width="0"/>
<circle cx="264.8" cy="190.3" r="2.3" fill="#000" stroke="none" stroke-width="0"/>
<circle cx="266.55" cy="190.55" r="2.3" fill="#000" stroke="none" stroke-width="0"/>
<circle cx="268.3" cy="190.8" r="2.3" fill="#000" stroke="none" stroke-width="0"/>
<circle cx="270" cy="190.8" r="2.3" fill="#000" stroke="none" stroke-width="0"/>
<circle cx="271.7" cy="190.8" r="2.3" fill="#000" stroke="none" stroke-width="0"/>
<circle cx="273.8" cy="190.8" r="2.3" fill="#000" stroke="none" stroke-width="0"/>
<circle cx="275.9" cy="190.8" r="2.3" fill="#000" stroke="none" stroke-width="0"/>
<circle cx="277.6" cy="174.9" r="2.3" fill="#000" stroke="none" stroke-width="0"/>
<circle cx="279.3" cy="179.2" r="2.3" fill="#000" stroke="none" stroke-width="0"/>
<circle cx="281.9" cy="172.4" r="2.3" fill="#000" stroke="none" stroke-width="0"/>
<circle cx="284.4" cy="176.6" r="2.3" fill="#000" stroke="none" stroke-width="0"/>
<circle cx="287.8" cy="169.8" r="2.3" fill="#000" stroke="none" stroke-width="0"/>
<circle cx="289.5" cy="172.4" r="2.3" fill="#000" stroke="none" stroke-width="0"/>
<circle cx="292.1" cy="163.9" r="2.3" fill="#000" stroke="none" stroke-width="0"/>
<circle cx="293.8" cy="167.3" r="2.3" fill="#000" stroke="none" stroke-width="0"/>
<circle cx="296.4" cy="177.5" r="2.3" fill="#000" stroke="none" stroke-width="0"/>
<circle cx="298.1" cy="165.6" r="2.3" fill="#000" stroke="none" stroke-width="0"/>
<circle cx="299.8" cy="160.4" r="2.3" fill="#000" stroke="none" stroke-width="0"/>
<circle cx="302.3" cy="158.4" r="2.3" fill="#000" stroke="none" stroke-width="0"/>
<circle cx="304.9" cy="162.1" r="2.3" fill="#000" stroke="none" stroke-width="0"/>
<rect x="41" y="14.4" width="265.3" height="214.1" fill="none" stroke="#1a1a1a" stroke-width="1.3"/>
<line x1="41" y1="228.5" x2="41" y2="232.5" stroke="#1a1a1a" stroke-width="1.2" />
<text x="41" y="243.9" font-size="11.5" text-anchor="middle" font-weight="normal" >0</text>
<line x1="81.82" y1="228.5" x2="81.82" y2="232.5" stroke="#1a1a1a" stroke-width="1.2" />
<text x="81.82" y="243.9" font-size="11.5" text-anchor="middle" font-weight="normal" >20</text>
<line x1="122.63" y1="228.5" x2="122.63" y2="232.5" stroke="#1a1a1a" stroke-width="1.2" />
<text x="122.63" y="243.9" font-size="11.5" text-anchor="middle" font-weight="normal" >40</text>
<line x1="163.45" y1="228.5" x2="163.45" y2="232.5" stroke="#1a1a1a" stroke-width="1.2" />
<text x="163.45" y="243.9" font-size="11.5" text-anchor="middle" font-weight="normal" >60</text>
<line x1="204.26" y1="228.5" x2="204.26" y2="232.5" stroke="#1a1a1a" stroke-width="1.2" />
<text x="204.26" y="243.9" font-size="11.5" text-anchor="middle" font-weight="normal" >80</text>
<line x1="245.08" y1="228.5" x2="245.08" y2="232.5" stroke="#1a1a1a" stroke-width="1.2" />
<text x="245.08" y="243.9" font-size="11.5" text-anchor="middle" font-weight="normal" >100</text>
<line x1="285.89" y1="228.5" x2="285.89" y2="232.5" stroke="#1a1a1a" stroke-width="1.2" />
<text x="285.89" y="243.9" font-size="11.5" text-anchor="middle" font-weight="normal" >120</text>
<line x1="61.41" y1="228.5" x2="61.41" y2="230.7" stroke="#1a1a1a" stroke-width="1.2" />
<line x1="102.22" y1="228.5" x2="102.22" y2="230.7" stroke="#1a1a1a" stroke-width="1.2" />
<line x1="143.04" y1="228.5" x2="143.04" y2="230.7" stroke="#1a1a1a" stroke-width="1.2" />
<line x1="183.85" y1="228.5" x2="183.85" y2="230.7" stroke="#1a1a1a" stroke-width="1.2" />
<line x1="224.67" y1="228.5" x2="224.67" y2="230.7" stroke="#1a1a1a" stroke-width="1.2" />
<line x1="265.48" y1="228.5" x2="265.48" y2="230.7" stroke="#1a1a1a" stroke-width="1.2" />
<line x1="306.3" y1="228.5" x2="306.3" y2="230.7" stroke="#1a1a1a" stroke-width="1.2" />
<line x1="37" y1="228.5" x2="41" y2="228.5" stroke="#1a1a1a" stroke-width="1.2" />
<text x="34.6" y="232.5" font-size="11.5" text-anchor="end" font-weight="normal" >0</text>
<line x1="37" y1="187.38" x2="41" y2="187.38" stroke="#1a1a1a" stroke-width="1.2" />
<text x="34.6" y="191.38" font-size="11.5" text-anchor="end" font-weight="normal" >100</text>
<line x1="37" y1="146.26" x2="41" y2="146.26" stroke="#1a1a1a" stroke-width="1.2" />
<text x="34.6" y="150.26" font-size="11.5" text-anchor="end" font-weight="normal" >200</text>
<line x1="37" y1="105.14" x2="41" y2="105.14" stroke="#1a1a1a" stroke-width="1.2" />
<text x="34.6" y="109.14" font-size="11.5" text-anchor="end" font-weight="normal" >300</text>
<line x1="37" y1="64.02" x2="41" y2="64.02" stroke="#1a1a1a" stroke-width="1.2" />
<text x="34.6" y="68.02" font-size="11.5" text-anchor="end" font-weight="normal" >400</text>
<line x1="37" y1="22.9" x2="41" y2="22.9" stroke="#1a1a1a" stroke-width="1.2" />
<text x="34.6" y="26.9" font-size="11.5" text-anchor="end" font-weight="normal" >500</text>
<line x1="38.8" y1="207.94" x2="41" y2="207.94" stroke="#1a1a1a" stroke-width="1.2" />
<line x1="38.8" y1="166.82" x2="41" y2="166.82" stroke="#1a1a1a" stroke-width="1.2" />
<line x1="38.8" y1="125.7" x2="41" y2="125.7" stroke="#1a1a1a" stroke-width="1.2" />
<line x1="38.8" y1="84.58" x2="41" y2="84.58" stroke="#1a1a1a" stroke-width="1.2" />
<line x1="38.8" y1="43.46" x2="41" y2="43.46" stroke="#1a1a1a" stroke-width="1.2" />
<line x1="306.3" y1="228.5" x2="310.3" y2="228.5" stroke="#1a1a1a" stroke-width="1.2" />
<text x="313.3" y="232.5" font-size="11.5" text-anchor="start" font-weight="normal" >40</text>
<line x1="306.3" y1="192.18" x2="310.3" y2="192.18" stroke="#1a1a1a" stroke-width="1.2" />
<text x="313.3" y="196.18" font-size="11.5" text-anchor="start" font-weight="normal" >50</text>
<line x1="306.3" y1="155.86" x2="310.3" y2="155.86" stroke="#1a1a1a" stroke-width="1.2" />
<text x="313.3" y="159.86" font-size="11.5" text-anchor="start" font-weight="normal" >60</text>
<line x1="306.3" y1="119.54" x2="310.3" y2="119.54" stroke="#1a1a1a" stroke-width="1.2" />
<text x="313.3" y="123.54" font-size="11.5" text-anchor="start" font-weight="normal" >70</text>
<line x1="306.3" y1="83.22" x2="310.3" y2="83.22" stroke="#1a1a1a" stroke-width="1.2" />
<text x="313.3" y="87.22" font-size="11.5" text-anchor="start" font-weight="normal" >80</text>
<line x1="306.3" y1="46.9" x2="310.3" y2="46.9" stroke="#1a1a1a" stroke-width="1.2" />
<text x="313.3" y="50.9" font-size="11.5" text-anchor="start" font-weight="normal" >90</text>
<line x1="306.3" y1="210.34" x2="308.5" y2="210.34" stroke="#1a1a1a" stroke-width="1.2" />
<line x1="306.3" y1="174.02" x2="308.5" y2="174.02" stroke="#1a1a1a" stroke-width="1.2" />
<line x1="306.3" y1="137.7" x2="308.5" y2="137.7" stroke="#1a1a1a" stroke-width="1.2" />
<line x1="306.3" y1="101.38" x2="308.5" y2="101.38" stroke="#1a1a1a" stroke-width="1.2" />
<line x1="306.3" y1="65.06" x2="308.5" y2="65.06" stroke="#1a1a1a" stroke-width="1.2" />
<line x1="306.3" y1="28.74" x2="308.5" y2="28.74" stroke="#1a1a1a" stroke-width="1.2" />
<text x="48.7" y="14" font-size="11.4" text-anchor="middle" font-weight="normal" >0</text>
<text x="68.4" y="14" font-size="11.4" text-anchor="middle" font-weight="normal" >1</text>
<text x="89.2" y="14" font-size="11.4" text-anchor="middle" font-weight="normal" >2</text>
<text x="108.7" y="14" font-size="11.4" text-anchor="middle" font-weight="normal" >3</text>
<text x="129.2" y="14" font-size="11.4" text-anchor="middle" font-weight="normal" >4</text>
<text x="160.6" y="14" font-size="11.4" text-anchor="middle" font-weight="normal" >5</text>
<text x="202.1" y="14" font-size="11.4" text-anchor="middle" font-weight="normal" >6</text>
<text x="228.5" y="14" font-size="11.4" text-anchor="middle" font-weight="normal" >7</text>
<text x="259.6" y="14" font-size="11.4" text-anchor="middle" font-weight="normal" >8</text>
<text x="289.9" y="14" font-size="11.4" text-anchor="middle" font-weight="normal" >9</text>
<text x="32" y="11.2" font-size="12.5" text-anchor="middle" font-weight="bold" >(a)</text>
<text x="177.4" y="253.5" font-size="13.1" text-anchor="middle" font-weight="normal" >Time (day)</text>
<line x1="52.3" y1="104.5" x2="56.8" y2="104.5" stroke="#000" stroke-width="1.4" />
<line x1="62.3" y1="104.5" x2="66.8" y2="104.5" stroke="#000" stroke-width="1.4" />
<rect x="57.9" y="102.9" width="3.2" height="3.2" fill="#000" stroke="#000" stroke-width="0.3"/>
<text x="70.9" y="107.3" font-size="11" text-anchor="start" font-weight="normal" >Influent COD<tspan font-size="7.2" dy="3.4">Cr</tspan></text>
<line x1="52.3" y1="122.2" x2="56.8" y2="122.2" stroke="#000" stroke-width="1.4" />
<line x1="62.3" y1="122.2" x2="66.8" y2="122.2" stroke="#000" stroke-width="1.4" />
<circle cx="59.5" cy="122.2" r="2" fill="#000" stroke="none" stroke-width="0"/>
<text x="72" y="124.6" font-size="11" text-anchor="start" font-weight="normal" >Effluent COD<tspan font-size="7.2" dy="3.4">Cr</tspan></text>
<line x1="52.3" y1="139.2" x2="56.8" y2="139.2" stroke="#3a3ad8" stroke-width="1.4" />
<line x1="62.3" y1="139.2" x2="66.8" y2="139.2" stroke="#3a3ad8" stroke-width="1.4" />
<rect x="57.8" y="137.5" width="3.4" height="3.4" fill="#fff" stroke="#6f6ff5" stroke-width="0.9"/>
<text x="71.5" y="141.9" font-size="11" text-anchor="start" font-weight="normal" >Removal efficiency</text>
<text transform="translate(13.8,121.5) rotate(-90)" font-size="13.6" text-anchor="middle">Influent COD<tspan font-size="7.2" dy="3">Cr</tspan><tspan dy="-3"> concentration (mg l</tspan><tspan font-size="6.2" dy="-5.5">-1</tspan><tspan dy="5.5">)</tspan></text>
<text transform="translate(335.3,120.3) rotate(-90)" font-size="13.1" text-anchor="middle">Removal efficiency (%)</text>
<line x1="395.18" y1="15.4" x2="395.18" y2="227.5" stroke="#6a6a6a" stroke-width="0.9" stroke-dasharray="1,1.85"/>
<line x1="415.67" y1="15.4" x2="415.67" y2="227.5" stroke="#6a6a6a" stroke-width="0.9" stroke-dasharray="1,1.85"/>
<line x1="436.15" y1="15.4" x2="436.15" y2="227.5" stroke="#6a6a6a" stroke-width="0.9" stroke-dasharray="1,1.85"/>
<line x1="456.64" y1="15.4" x2="456.64" y2="227.5" stroke="#6a6a6a" stroke-width="0.9" stroke-dasharray="1,1.85"/>
<line x1="477.12" y1="15.4" x2="477.12" y2="227.5" stroke="#6a6a6a" stroke-width="0.9" stroke-dasharray="1,1.85"/>
<line x1="507.85" y1="15.4" x2="507.85" y2="227.5" stroke="#6a6a6a" stroke-width="0.9" stroke-dasharray="1,1.85"/>
<line x1="548.82" y1="15.4" x2="548.82" y2="227.5" stroke="#6a6a6a" stroke-width="0.9" stroke-dasharray="1,1.85"/>
<line x1="579.55" y1="15.4" x2="579.55" y2="227.5" stroke="#6a6a6a" stroke-width="0.9" stroke-dasharray="1,1.85"/>
<line x1="610.27" y1="15.4" x2="610.27" y2="227.5" stroke="#6a6a6a" stroke-width="0.9" stroke-dasharray="1,1.85"/>
<rect x="512.72" y="21.6" width="1.3" height="1.8" fill="#111"/>
<rect x="517.82" y="21.6" width="1.3" height="1.8" fill="#111"/>
<rect x="522.92" y="21.6" width="1.3" height="1.8" fill="#111"/>
<rect x="528.02" y="21.6" width="1.3" height="1.8" fill="#111"/>
<rect x="533.12" y="21.6" width="1.3" height="1.8" fill="#111"/>
<rect x="538.22" y="21.6" width="1.3" height="1.8" fill="#111"/>
<rect x="543.32" y="21.6" width="1.3" height="1.8" fill="#111"/>
<rect x="548.42" y="21.6" width="1.3" height="1.8" fill="#111"/>
<rect x="553.52" y="21.6" width="1.3" height="1.8" fill="#111"/>
<rect x="558.62" y="21.6" width="1.3" height="1.8" fill="#111"/>
<rect x="563.72" y="21.6" width="1.3" height="1.8" fill="#111"/>
<rect x="568.82" y="21.6" width="1.3" height="1.8" fill="#111"/>
<rect x="573.92" y="21.6" width="1.3" height="1.8" fill="#111"/>
<rect x="579.02" y="21.6" width="1.3" height="1.8" fill="#111"/>
<rect x="584.12" y="21.6" width="1.3" height="1.8" fill="#111"/>
<rect x="589.22" y="21.6" width="1.3" height="1.8" fill="#111"/>
<rect x="594.32" y="21.6" width="1.3" height="1.8" fill="#111"/>
<rect x="599.42" y="21.6" width="1.3" height="1.8" fill="#111"/>
<rect x="604.52" y="21.6" width="1.3" height="1.8" fill="#111"/>
<rect x="609.62" y="21.6" width="1.3" height="1.8" fill="#111"/>
<rect x="614.72" y="21.6" width="1.3" height="1.8" fill="#111"/>
<rect x="619.82" y="21.6" width="1.3" height="1.8" fill="#111"/>
<rect x="624.92" y="21.6" width="1.3" height="1.8" fill="#111"/>
<rect x="630.02" y="21.6" width="1.3" height="1.8" fill="#111"/>
<rect x="635.12" y="21.6" width="1.3" height="1.8" fill="#111"/>
<polygon points="374.5,19.7 379.5,22.2 374.5,24.7" fill="#aeefae" stroke="#84e084" stroke-width="0.8" stroke-linejoin="miter"/>
<polygon points="376.55,19.7 381.55,22.2 376.55,24.7" fill="#aeefae" stroke="#84e084" stroke-width="0.8" stroke-linejoin="miter"/>
<polygon points="378.59,19.7 383.59,22.2 378.59,24.7" fill="#aeefae" stroke="#84e084" stroke-width="0.8" stroke-linejoin="miter"/>
<polygon points="380.64,19.7 385.64,22.2 380.64,24.7" fill="#aeefae" stroke="#84e084" stroke-width="0.8" stroke-linejoin="miter"/>
<polygon points="382.68,19.7 387.68,22.2 382.68,24.7" fill="#aeefae" stroke="#84e084" stroke-width="0.8" stroke-linejoin="miter"/>
<polygon points="384.73,19.7 389.73,22.2 384.73,24.7" fill="#aeefae" stroke="#84e084" stroke-width="0.8" stroke-linejoin="miter"/>
<polygon points="386.77,19.7 391.77,22.2 386.77,24.7" fill="#aeefae" stroke="#84e084" stroke-width="0.8" stroke-linejoin="miter"/>
<polygon points="388.82,19.7 393.82,22.2 388.82,24.7" fill="#aeefae" stroke="#84e084" stroke-width="0.8" stroke-linejoin="miter"/>
<polygon points="390.86,19.7 395.86,22.2 390.86,24.7" fill="#aeefae" stroke="#84e084" stroke-width="0.8" stroke-linejoin="miter"/>
<polygon points="392.91,19.7 397.91,22.2 392.91,24.7" fill="#aeefae" stroke="#84e084" stroke-width="0.8" stroke-linejoin="miter"/>
<polygon points="394.95,19.7 399.95,22.2 394.95,24.7" fill="#aeefae" stroke="#84e084" stroke-width="0.8" stroke-linejoin="miter"/>
<polygon points="397,19.7 402,22.2 397,24.7" fill="#aeefae" stroke="#84e084" stroke-width="0.8" stroke-linejoin="miter"/>
<polygon points="399.04,19.7 404.04,22.2 399.04,24.7" fill="#aeefae" stroke="#84e084" stroke-width="0.8" stroke-linejoin="miter"/>
<polygon points="401.09,19.7 406.09,22.2 401.09,24.7" fill="#aeefae" stroke="#84e084" stroke-width="0.8" stroke-linejoin="miter"/>
<polygon points="403.13,19.7 408.13,22.2 403.13,24.7" fill="#aeefae" stroke="#84e084" stroke-width="0.8" stroke-linejoin="miter"/>
<polygon points="405.18,19.7 410.18,22.2 405.18,24.7" fill="#aeefae" stroke="#84e084" stroke-width="0.8" stroke-linejoin="miter"/>
<polygon points="407.22,19.7 412.22,22.2 407.22,24.7" fill="#aeefae" stroke="#84e084" stroke-width="0.8" stroke-linejoin="miter"/>
<polygon points="409.27,19.7 414.27,22.2 409.27,24.7" fill="#aeefae" stroke="#84e084" stroke-width="0.8" stroke-linejoin="miter"/>
<polygon points="411.31,19.7 416.31,22.2 411.31,24.7" fill="#aeefae" stroke="#84e084" stroke-width="0.8" stroke-linejoin="miter"/>
<polygon points="413.36,19.7 418.36,22.2 413.36,24.7" fill="#aeefae" stroke="#84e084" stroke-width="0.8" stroke-linejoin="miter"/>
<polygon points="415.4,19.7 420.4,22.2 415.4,24.7" fill="#aeefae" stroke="#84e084" stroke-width="0.8" stroke-linejoin="miter"/>
<polygon points="417.45,19.7 422.45,22.2 417.45,24.7" fill="#aeefae" stroke="#84e084" stroke-width="0.8" stroke-linejoin="miter"/>
<polygon points="419.49,19.7 424.49,22.2 419.49,24.7" fill="#aeefae" stroke="#84e084" stroke-width="0.8" stroke-linejoin="miter"/>
<polygon points="421.54,19.7 426.54,22.2 421.54,24.7" fill="#aeefae" stroke="#84e084" stroke-width="0.8" stroke-linejoin="miter"/>
<polygon points="423.58,19.7 428.58,22.2 423.58,24.7" fill="#aeefae" stroke="#84e084" stroke-width="0.8" stroke-linejoin="miter"/>
<polygon points="425.63,19.7 430.63,22.2 425.63,24.7" fill="#aeefae" stroke="#84e084" stroke-width="0.8" stroke-linejoin="miter"/>
<polygon points="427.67,19.7 432.67,22.2 427.67,24.7" fill="#aeefae" stroke="#84e084" stroke-width="0.8" stroke-linejoin="miter"/>
<polygon points="429.72,19.7 434.72,22.2 429.72,24.7" fill="#aeefae" stroke="#84e084" stroke-width="0.8" stroke-linejoin="miter"/>
<polygon points="431.76,19.7 436.76,22.2 431.76,24.7" fill="#aeefae" stroke="#84e084" stroke-width="0.8" stroke-linejoin="miter"/>
<polygon points="433.81,19.7 438.81,22.2 433.81,24.7" fill="#aeefae" stroke="#84e084" stroke-width="0.8" stroke-linejoin="miter"/>
<polygon points="435.85,19.7 440.85,22.2 435.85,24.7" fill="#aeefae" stroke="#84e084" stroke-width="0.8" stroke-linejoin="miter"/>
<polygon points="437.9,19.7 442.9,22.2 437.9,24.7" fill="#aeefae" stroke="#84e084" stroke-width="0.8" stroke-linejoin="miter"/>
<polygon points="439.94,19.7 444.94,22.2 439.94,24.7" fill="#aeefae" stroke="#84e084" stroke-width="0.8" stroke-linejoin="miter"/>
<polygon points="441.99,19.7 446.99,22.2 441.99,24.7" fill="#aeefae" stroke="#84e084" stroke-width="0.8" stroke-linejoin="miter"/>
<polygon points="444.03,19.7 449.03,22.2 444.03,24.7" fill="#aeefae" stroke="#84e084" stroke-width="0.8" stroke-linejoin="miter"/>
<polygon points="446.08,19.7 451.08,22.2 446.08,24.7" fill="#aeefae" stroke="#84e084" stroke-width="0.8" stroke-linejoin="miter"/>
<polygon points="448.12,19.7 453.12,22.2 448.12,24.7" fill="#aeefae" stroke="#84e084" stroke-width="0.8" stroke-linejoin="miter"/>
<polygon points="450.17,19.7 455.17,22.2 450.17,24.7" fill="#aeefae" stroke="#84e084" stroke-width="0.8" stroke-linejoin="miter"/>
<polygon points="452.21,19.7 457.21,22.2 452.21,24.7" fill="#aeefae" stroke="#84e084" stroke-width="0.8" stroke-linejoin="miter"/>
<polygon points="454.26,19.7 459.26,22.2 454.26,24.7" fill="#aeefae" stroke="#84e084" stroke-width="0.8" stroke-linejoin="miter"/>
<polygon points="456.3,19.7 461.3,22.2 456.3,24.7" fill="#aeefae" stroke="#84e084" stroke-width="0.8" stroke-linejoin="miter"/>
<polygon points="458.35,19.7 463.35,22.2 458.35,24.7" fill="#aeefae" stroke="#84e084" stroke-width="0.8" stroke-linejoin="miter"/>
<polygon points="460.39,19.7 465.39,22.2 460.39,24.7" fill="#aeefae" stroke="#84e084" stroke-width="0.8" stroke-linejoin="miter"/>
<polygon points="462.44,19.7 467.44,22.2 462.44,24.7" fill="#aeefae" stroke="#84e084" stroke-width="0.8" stroke-linejoin="miter"/>
<polygon points="464.48,19.7 469.48,22.2 464.48,24.7" fill="#aeefae" stroke="#84e084" stroke-width="0.8" stroke-linejoin="miter"/>
<polygon points="466.53,19.7 471.53,22.2 466.53,24.7" fill="#aeefae" stroke="#84e084" stroke-width="0.8" stroke-linejoin="miter"/>
<polygon points="468.57,19.7 473.57,22.2 468.57,24.7" fill="#aeefae" stroke="#84e084" stroke-width="0.8" stroke-linejoin="miter"/>
<polygon points="470.62,19.7 475.62,22.2 470.62,24.7" fill="#aeefae" stroke="#84e084" stroke-width="0.8" stroke-linejoin="miter"/>
<polygon points="472.66,19.7 477.66,22.2 472.66,24.7" fill="#aeefae" stroke="#84e084" stroke-width="0.8" stroke-linejoin="miter"/>
<polygon points="474.71,19.7 479.71,22.2 474.71,24.7" fill="#aeefae" stroke="#84e084" stroke-width="0.8" stroke-linejoin="miter"/>
<polygon points="476.75,19.7 481.75,22.2 476.75,24.7" fill="#aeefae" stroke="#84e084" stroke-width="0.8" stroke-linejoin="miter"/>
<polygon points="478.8,19.7 483.8,22.2 478.8,24.7" fill="#aeefae" stroke="#84e084" stroke-width="0.8" stroke-linejoin="miter"/>
<polygon points="480.84,19.7 485.84,22.2 480.84,24.7" fill="#aeefae" stroke="#84e084" stroke-width="0.8" stroke-linejoin="miter"/>
<polygon points="482.89,19.7 487.89,22.2 482.89,24.7" fill="#aeefae" stroke="#84e084" stroke-width="0.8" stroke-linejoin="miter"/>
<polygon points="484.93,19.7 489.93,22.2 484.93,24.7" fill="#aeefae" stroke="#84e084" stroke-width="0.8" stroke-linejoin="miter"/>
<polygon points="486.98,19.7 491.98,22.2 486.98,24.7" fill="#aeefae" stroke="#84e084" stroke-width="0.8" stroke-linejoin="miter"/>
<polygon points="489.02,19.7 494.02,22.2 489.02,24.7" fill="#aeefae" stroke="#84e084" stroke-width="0.8" stroke-linejoin="miter"/>
<polygon points="491.07,19.7 496.07,22.2 491.07,24.7" fill="#aeefae" stroke="#84e084" stroke-width="0.8" stroke-linejoin="miter"/>
<polygon points="493.11,19.7 498.11,22.2 493.11,24.7" fill="#aeefae" stroke="#84e084" stroke-width="0.8" stroke-linejoin="miter"/>
<polygon points="495.16,19.7 500.16,22.2 495.16,24.7" fill="#aeefae" stroke="#84e084" stroke-width="0.8" stroke-linejoin="miter"/>
<polygon points="497.2,19.7 502.2,22.2 497.2,24.7" fill="#aeefae" stroke="#84e084" stroke-width="0.8" stroke-linejoin="miter"/>
<polygon points="499.25,19.7 504.25,22.2 499.25,24.7" fill="#aeefae" stroke="#84e084" stroke-width="0.8" stroke-linejoin="miter"/>
<polygon points="501.29,19.7 506.29,22.2 501.29,24.7" fill="#aeefae" stroke="#84e084" stroke-width="0.8" stroke-linejoin="miter"/>
<polygon points="503.34,19.7 508.34,22.2 503.34,24.7" fill="#aeefae" stroke="#84e084" stroke-width="0.8" stroke-linejoin="miter"/>
<polygon points="506.7,23.8 512.3,26.6 506.7,29.4" fill="#d2f7d2" stroke="#92e492" stroke-width="0.8" stroke-linejoin="miter"/>
<polygon points="509.25,23.8 514.85,26.6 509.25,29.4" fill="#d2f7d2" stroke="#92e492" stroke-width="0.8" stroke-linejoin="miter"/>
<polygon points="511.8,15.6 517.4,18.4 511.8,21.2" fill="#d2f7d2" stroke="#92e492" stroke-width="0.8" stroke-linejoin="miter"/>
<polygon points="514.35,15.6 519.95,18.4 514.35,21.2" fill="#d2f7d2" stroke="#92e492" stroke-width="0.8" stroke-linejoin="miter"/>
<polygon points="516.9,23.8 522.5,26.6 516.9,29.4" fill="#d2f7d2" stroke="#92e492" stroke-width="0.8" stroke-linejoin="miter"/>
<polygon points="519.45,23.8 525.05,26.6 519.45,29.4" fill="#d2f7d2" stroke="#92e492" stroke-width="0.8" stroke-linejoin="miter"/>
<polygon points="522,15.6 527.6,18.4 522,21.2" fill="#d2f7d2" stroke="#92e492" stroke-width="0.8" stroke-linejoin="miter"/>
<polygon points="524.55,15.6 530.15,18.4 524.55,21.2" fill="#d2f7d2" stroke="#92e492" stroke-width="0.8" stroke-linejoin="miter"/>
<polygon points="527.1,23.8 532.7,26.6 527.1,29.4" fill="#d2f7d2" stroke="#92e492" stroke-width="0.8" stroke-linejoin="miter"/>
<polygon points="529.65,23.8 535.25,26.6 529.65,29.4" fill="#d2f7d2" stroke="#92e492" stroke-width="0.8" stroke-linejoin="miter"/>
<polygon points="532.2,15.6 537.8,18.4 532.2,21.2" fill="#d2f7d2" stroke="#92e492" stroke-width="0.8" stroke-linejoin="miter"/>
<polygon points="534.75,15.6 540.35,18.4 534.75,21.2" fill="#d2f7d2" stroke="#92e492" stroke-width="0.8" stroke-linejoin="miter"/>
<polygon points="537.3,23.8 542.9,26.6 537.3,29.4" fill="#d2f7d2" stroke="#92e492" stroke-width="0.8" stroke-linejoin="miter"/>
<polygon points="539.85,23.8 545.45,26.6 539.85,29.4" fill="#d2f7d2" stroke="#92e492" stroke-width="0.8" stroke-linejoin="miter"/>
<polygon points="542.4,15.6 548,18.4 542.4,21.2" fill="#d2f7d2" stroke="#92e492" stroke-width="0.8" stroke-linejoin="miter"/>
<polygon points="544.95,15.6 550.55,18.4 544.95,21.2" fill="#d2f7d2" stroke="#92e492" stroke-width="0.8" stroke-linejoin="miter"/>
<polygon points="547.5,23.8 553.1,26.6 547.5,29.4" fill="#d2f7d2" stroke="#92e492" stroke-width="0.8" stroke-linejoin="miter"/>
<polygon points="550.05,23.8 555.65,26.6 550.05,29.4" fill="#d2f7d2" stroke="#92e492" stroke-width="0.8" stroke-linejoin="miter"/>
<polygon points="552.6,15.6 558.2,18.4 552.6,21.2" fill="#d2f7d2" stroke="#92e492" stroke-width="0.8" stroke-linejoin="miter"/>
<polygon points="555.15,15.6 560.75,18.4 555.15,21.2" fill="#d2f7d2" stroke="#92e492" stroke-width="0.8" stroke-linejoin="miter"/>
<polygon points="557.7,23.8 563.3,26.6 557.7,29.4" fill="#d2f7d2" stroke="#92e492" stroke-width="0.8" stroke-linejoin="miter"/>
<polygon points="560.25,23.8 565.85,26.6 560.25,29.4" fill="#d2f7d2" stroke="#92e492" stroke-width="0.8" stroke-linejoin="miter"/>
<polygon points="562.8,15.6 568.4,18.4 562.8,21.2" fill="#d2f7d2" stroke="#92e492" stroke-width="0.8" stroke-linejoin="miter"/>
<polygon points="565.35,15.6 570.95,18.4 565.35,21.2" fill="#d2f7d2" stroke="#92e492" stroke-width="0.8" stroke-linejoin="miter"/>
<polygon points="567.9,23.8 573.5,26.6 567.9,29.4" fill="#d2f7d2" stroke="#92e492" stroke-width="0.8" stroke-linejoin="miter"/>
<polygon points="570.45,23.8 576.05,26.6 570.45,29.4" fill="#d2f7d2" stroke="#92e492" stroke-width="0.8" stroke-linejoin="miter"/>
<polygon points="573,15.6 578.6,18.4 573,21.2" fill="#d2f7d2" stroke="#92e492" stroke-width="0.8" stroke-linejoin="miter"/>
<polygon points="575.55,15.6 581.15,18.4 575.55,21.2" fill="#d2f7d2" stroke="#92e492" stroke-width="0.8" stroke-linejoin="miter"/>
<polygon points="578.1,23.8 583.7,26.6 578.1,29.4" fill="#d2f7d2" stroke="#92e492" stroke-width="0.8" stroke-linejoin="miter"/>
<polygon points="580.65,23.8 586.25,26.6 580.65,29.4" fill="#d2f7d2" stroke="#92e492" stroke-width="0.8" stroke-linejoin="miter"/>
<polygon points="583.2,15.6 588.8,18.4 583.2,21.2" fill="#d2f7d2" stroke="#92e492" stroke-width="0.8" stroke-linejoin="miter"/>
<polygon points="585.75,15.6 591.35,18.4 585.75,21.2" fill="#d2f7d2" stroke="#92e492" stroke-width="0.8" stroke-linejoin="miter"/>
<polygon points="588.3,23.8 593.9,26.6 588.3,29.4" fill="#d2f7d2" stroke="#92e492" stroke-width="0.8" stroke-linejoin="miter"/>
<polygon points="590.85,23.8 596.45,26.6 590.85,29.4" fill="#d2f7d2" stroke="#92e492" stroke-width="0.8" stroke-linejoin="miter"/>
<polygon points="593.4,15.6 599,18.4 593.4,21.2" fill="#d2f7d2" stroke="#92e492" stroke-width="0.8" stroke-linejoin="miter"/>
<polygon points="595.95,15.6 601.55,18.4 595.95,21.2" fill="#d2f7d2" stroke="#92e492" stroke-width="0.8" stroke-linejoin="miter"/>
<polygon points="598.5,23.8 604.1,26.6 598.5,29.4" fill="#d2f7d2" stroke="#92e492" stroke-width="0.8" stroke-linejoin="miter"/>
<polygon points="601.05,23.8 606.65,26.6 601.05,29.4" fill="#d2f7d2" stroke="#92e492" stroke-width="0.8" stroke-linejoin="miter"/>
<polygon points="603.6,15.6 609.2,18.4 603.6,21.2" fill="#d2f7d2" stroke="#92e492" stroke-width="0.8" stroke-linejoin="miter"/>
<polygon points="606.15,15.6 611.75,18.4 606.15,21.2" fill="#d2f7d2" stroke="#92e492" stroke-width="0.8" stroke-linejoin="miter"/>
<polygon points="608.7,23.8 614.3,26.6 608.7,29.4" fill="#d2f7d2" stroke="#92e492" stroke-width="0.8" stroke-linejoin="miter"/>
<polygon points="611.25,23.8 616.85,26.6 611.25,29.4" fill="#d2f7d2" stroke="#92e492" stroke-width="0.8" stroke-linejoin="miter"/>
<polygon points="613.8,15.6 619.4,18.4 613.8,21.2" fill="#d2f7d2" stroke="#92e492" stroke-width="0.8" stroke-linejoin="miter"/>
<polygon points="616.35,15.6 621.95,18.4 616.35,21.2" fill="#d2f7d2" stroke="#92e492" stroke-width="0.8" stroke-linejoin="miter"/>
<polygon points="618.9,23.8 624.5,26.6 618.9,29.4" fill="#d2f7d2" stroke="#92e492" stroke-width="0.8" stroke-linejoin="miter"/>
<polygon points="621.45,23.8 627.05,26.6 621.45,29.4" fill="#d2f7d2" stroke="#92e492" stroke-width="0.8" stroke-linejoin="miter"/>
<polygon points="624,15.6 629.6,18.4 624,21.2" fill="#d2f7d2" stroke="#92e492" stroke-width="0.8" stroke-linejoin="miter"/>
<polygon points="626.55,15.6 632.15,18.4 626.55,21.2" fill="#d2f7d2" stroke="#92e492" stroke-width="0.8" stroke-linejoin="miter"/>
<polygon points="629.1,23.8 634.7,26.6 629.1,29.4" fill="#d2f7d2" stroke="#92e492" stroke-width="0.8" stroke-linejoin="miter"/>
<polygon points="631.65,23.8 637.25,26.6 631.65,29.4" fill="#d2f7d2" stroke="#92e492" stroke-width="0.8" stroke-linejoin="miter"/>
<polygon points="634.2,15.6 639.8,18.4 634.2,21.2" fill="#d2f7d2" stroke="#92e492" stroke-width="0.8" stroke-linejoin="miter"/>
<polygon points="636.75,15.6 642.35,18.4 636.75,21.2" fill="#d2f7d2" stroke="#92e492" stroke-width="0.8" stroke-linejoin="miter"/>
<line x1="577.6" y1="18.5" x2="578.6" y2="22.5" stroke="#111" stroke-width="1.0" />
<line x1="631.5" y1="18.5" x2="632.5" y2="22.5" stroke="#111" stroke-width="1.0" />
<line x1="596.5" y1="26.5" x2="597.8" y2="31" stroke="#111" stroke-width="0.9" />
<polygon points="595.3,32.7 600.3,35.2 595.3,37.7" fill="#d2f7d2" stroke="#92e492" stroke-width="0.8" stroke-linejoin="miter"/>
<polyline points="380.5,158.6 382.2,174.7 384.7,187.1 386.4,207.8 388.4,215.4 390,219.7 392.05,219.7 394.09,219.7 396.14,219.7 398.18,219.7 400.23,219.7 402.27,219.7 404.32,219.7 406.36,219.7 408.41,219.7 410.45,219.7 412.5,219.7 414.54,219.7 417.5,211.5 419.2,217.5 421,218.1 423,218.1 425,218.1 427,218.1 429,218.1 431,218.1 433,218.1 435,218.1 437.4,206.3 439.6,206.3 441.9,207.8 444.8,209.3 447.8,213 450.7,214.4 453.7,216.7 456.7,215.9 458.1,200.4 460.4,201.1 462.6,204.8 464.8,208.5 466.3,217.4 468.5,218.9 470.5,218.5 472.2,218.1 474.5,219 476.7,219.6 478.9,191.5 481.1,193.7 483.3,200.4 485.6,201.9 487.8,205.6 490,211.5 492.2,213.7 494.4,215.2 497.4,215.9 500.4,215 503.5,215 505.5,214.5 507.4,214.1 508.9,191.1 511.1,190.4 514.1,191.9 517,192.6 518.5,197.8 521.5,201.5 523.7,207.4 526.7,208.9 529.6,211.9 531.9,213.3 533.8,212.8 535.6,212.6 537.8,213 540,213.3 542.2,213.3 544.4,213.3 546.2,213.7 548.1,214.1 550.4,177.8 551.9,182.2 554.1,186.7 556.3,194.8 558.5,199.3 560.7,201.5 563,203.7 565.2,205.2 568.1,205.9 571.1,206.7 574.1,206.7 577,206.7 579.7,206.7 581.5,167.5 583.8,173 585.3,185.8 588.3,188.1 591.3,190.3 594.3,191.8 597.3,194.1 600.4,197.9 603.4,197.1 606.4,196.4 608.3,196.8 610.2,197.1 611.7,154.1 613.9,154.9 615.8,156 617.7,157.1 620.7,160.2 622.2,176.8 625.2,175.2 628.3,179 632,177.5 635.1,179 638.1,179 640.3,179" fill="none" stroke="#111" stroke-width="1.1" stroke-linejoin="round" />
<polygon points="383.1,156 377.9,158.6 383.1,161.2" fill="#fff" stroke="#6a6a6a" stroke-width="0.8" stroke-linejoin="miter"/>
<polygon points="384.8,172.1 379.6,174.7 384.8,177.3" fill="#fff" stroke="#6a6a6a" stroke-width="0.8" stroke-linejoin="miter"/>
<polygon points="387.3,184.5 382.1,187.1 387.3,189.7" fill="#fff" stroke="#6a6a6a" stroke-width="0.8" stroke-linejoin="miter"/>
<polygon points="389,205.2 383.8,207.8 389,210.4" fill="#fff" stroke="#6a6a6a" stroke-width="0.8" stroke-linejoin="miter"/>
<polygon points="391,212.8 385.8,215.4 391,218" fill="#fff" stroke="#6a6a6a" stroke-width="0.8" stroke-linejoin="miter"/>
<polygon points="392.6,217.1 387.4,219.7 392.6,222.3" fill="#fff" stroke="#6a6a6a" stroke-width="0.8" stroke-linejoin="miter"/>
<polygon points="394.65,217.1 389.44,219.7 394.65,222.3" fill="#fff" stroke="#6a6a6a" stroke-width="0.8" stroke-linejoin="miter"/>
<polygon points="396.69,217.1 391.49,219.7 396.69,222.3" fill="#fff" stroke="#6a6a6a" stroke-width="0.8" stroke-linejoin="miter"/>
<polygon points="398.74,217.1 393.54,219.7 398.74,222.3" fill="#fff" stroke="#6a6a6a" stroke-width="0.8" stroke-linejoin="miter"/>
<polygon points="400.78,217.1 395.58,219.7 400.78,222.3" fill="#fff" stroke="#6a6a6a" stroke-width="0.8" stroke-linejoin="miter"/>
<polygon points="402.83,217.1 397.63,219.7 402.83,222.3" fill="#fff" stroke="#6a6a6a" stroke-width="0.8" stroke-linejoin="miter"/>
<polygon points="404.87,217.1 399.67,219.7 404.87,222.3" fill="#fff" stroke="#6a6a6a" stroke-width="0.8" stroke-linejoin="miter"/>
<polygon points="406.92,217.1 401.72,219.7 406.92,222.3" fill="#fff" stroke="#6a6a6a" stroke-width="0.8" stroke-linejoin="miter"/>
<polygon points="408.96,217.1 403.76,219.7 408.96,222.3" fill="#fff" stroke="#6a6a6a" stroke-width="0.8" stroke-linejoin="miter"/>
<polygon points="411.01,217.1 405.81,219.7 411.01,222.3" fill="#fff" stroke="#6a6a6a" stroke-width="0.8" stroke-linejoin="miter"/>
<polygon points="413.05,217.1 407.85,219.7 413.05,222.3" fill="#fff" stroke="#6a6a6a" stroke-width="0.8" stroke-linejoin="miter"/>
<polygon points="415.1,217.1 409.9,219.7 415.1,222.3" fill="#fff" stroke="#6a6a6a" stroke-width="0.8" stroke-linejoin="miter"/>
<polygon points="417.14,217.1 411.94,219.7 417.14,222.3" fill="#fff" stroke="#6a6a6a" stroke-width="0.8" stroke-linejoin="miter"/>
<polygon points="420.1,208.9 414.9,211.5 420.1,214.1" fill="#fff" stroke="#6a6a6a" stroke-width="0.8" stroke-linejoin="miter"/>
<polygon points="421.8,214.9 416.6,217.5 421.8,220.1" fill="#fff" stroke="#6a6a6a" stroke-width="0.8" stroke-linejoin="miter"/>
<polygon points="423.6,215.5 418.4,218.1 423.6,220.7" fill="#fff" stroke="#6a6a6a" stroke-width="0.8" stroke-linejoin="miter"/>
<polygon points="425.6,215.5 420.4,218.1 425.6,220.7" fill="#fff" stroke="#6a6a6a" stroke-width="0.8" stroke-linejoin="miter"/>
<polygon points="427.6,215.5 422.4,218.1 427.6,220.7" fill="#fff" stroke="#6a6a6a" stroke-width="0.8" stroke-linejoin="miter"/>
<polygon points="429.6,215.5 424.4,218.1 429.6,220.7" fill="#fff" stroke="#6a6a6a" stroke-width="0.8" stroke-linejoin="miter"/>
<polygon points="431.6,215.5 426.4,218.1 431.6,220.7" fill="#fff" stroke="#6a6a6a" stroke-width="0.8" stroke-linejoin="miter"/>
<polygon points="433.6,215.5 428.4,218.1 433.6,220.7" fill="#fff" stroke="#6a6a6a" stroke-width="0.8" stroke-linejoin="miter"/>
<polygon points="435.6,215.5 430.4,218.1 435.6,220.7" fill="#fff" stroke="#6a6a6a" stroke-width="0.8" stroke-linejoin="miter"/>
<polygon points="437.6,215.5 432.4,218.1 437.6,220.7" fill="#fff" stroke="#6a6a6a" stroke-width="0.8" stroke-linejoin="miter"/>
<polygon points="440,203.7 434.8,206.3 440,208.9" fill="#fff" stroke="#6a6a6a" stroke-width="0.8" stroke-linejoin="miter"/>
<polygon points="442.2,203.7 437,206.3 442.2,208.9" fill="#fff" stroke="#6a6a6a" stroke-width="0.8" stroke-linejoin="miter"/>
<polygon points="444.5,205.2 439.3,207.8 444.5,210.4" fill="#fff" stroke="#6a6a6a" stroke-width="0.8" stroke-linejoin="miter"/>
<polygon points="447.4,206.7 442.2,209.3 447.4,211.9" fill="#fff" stroke="#6a6a6a" stroke-width="0.8" stroke-linejoin="miter"/>
<polygon points="450.4,210.4 445.2,213 450.4,215.6" fill="#fff" stroke="#6a6a6a" stroke-width="0.8" stroke-linejoin="miter"/>
<polygon points="453.3,211.8 448.1,214.4 453.3,217" fill="#fff" stroke="#6a6a6a" stroke-width="0.8" stroke-linejoin="miter"/>
<polygon points="456.3,214.1 451.1,216.7 456.3,219.3" fill="#fff" stroke="#6a6a6a" stroke-width="0.8" stroke-linejoin="miter"/>
<polygon points="459.3,213.3 454.1,215.9 459.3,218.5" fill="#fff" stroke="#6a6a6a" stroke-width="0.8" stroke-linejoin="miter"/>
<polygon points="460.7,197.8 455.5,200.4 460.7,203" fill="#fff" stroke="#6a6a6a" stroke-width="0.8" stroke-linejoin="miter"/>
<polygon points="463,198.5 457.8,201.1 463,203.7" fill="#fff" stroke="#6a6a6a" stroke-width="0.8" stroke-linejoin="miter"/>
<polygon points="465.2,202.2 460,204.8 465.2,207.4" fill="#fff" stroke="#6a6a6a" stroke-width="0.8" stroke-linejoin="miter"/>
<polygon points="467.4,205.9 462.2,208.5 467.4,211.1" fill="#fff" stroke="#6a6a6a" stroke-width="0.8" stroke-linejoin="miter"/>
<polygon points="468.9,214.8 463.7,217.4 468.9,220" fill="#fff" stroke="#6a6a6a" stroke-width="0.8" stroke-linejoin="miter"/>
<polygon points="471.1,216.3 465.9,218.9 471.1,221.5" fill="#fff" stroke="#6a6a6a" stroke-width="0.8" stroke-linejoin="miter"/>
<polygon points="473.1,215.9 467.9,218.5 473.1,221.1" fill="#fff" stroke="#6a6a6a" stroke-width="0.8" stroke-linejoin="miter"/>
<polygon points="474.8,215.5 469.6,218.1 474.8,220.7" fill="#fff" stroke="#6a6a6a" stroke-width="0.8" stroke-linejoin="miter"/>
<polygon points="477.1,216.4 471.9,219 477.1,221.6" fill="#fff" stroke="#6a6a6a" stroke-width="0.8" stroke-linejoin="miter"/>
<polygon points="479.3,217 474.1,219.6 479.3,222.2" fill="#fff" stroke="#6a6a6a" stroke-width="0.8" stroke-linejoin="miter"/>
<polygon points="481.5,188.9 476.3,191.5 481.5,194.1" fill="#fff" stroke="#6a6a6a" stroke-width="0.8" stroke-linejoin="miter"/>
<polygon points="483.7,191.1 478.5,193.7 483.7,196.3" fill="#fff" stroke="#6a6a6a" stroke-width="0.8" stroke-linejoin="miter"/>
<polygon points="485.9,197.8 480.7,200.4 485.9,203" fill="#fff" stroke="#6a6a6a" stroke-width="0.8" stroke-linejoin="miter"/>
<polygon points="488.2,199.3 483,201.9 488.2,204.5" fill="#fff" stroke="#6a6a6a" stroke-width="0.8" stroke-linejoin="miter"/>
<polygon points="490.4,203 485.2,205.6 490.4,208.2" fill="#fff" stroke="#6a6a6a" stroke-width="0.8" stroke-linejoin="miter"/>
<polygon points="492.6,208.9 487.4,211.5 492.6,214.1" fill="#fff" stroke="#6a6a6a" stroke-width="0.8" stroke-linejoin="miter"/>
<polygon points="494.8,211.1 489.6,213.7 494.8,216.3" fill="#fff" stroke="#6a6a6a" stroke-width="0.8" stroke-linejoin="miter"/>
<polygon points="497,212.6 491.8,215.2 497,217.8" fill="#fff" stroke="#6a6a6a" stroke-width="0.8" stroke-linejoin="miter"/>
<polygon points="500,213.3 494.8,215.9 500,218.5" fill="#fff" stroke="#6a6a6a" stroke-width="0.8" stroke-linejoin="miter"/>
<polygon points="503,212.4 497.8,215 503,217.6" fill="#fff" stroke="#6a6a6a" stroke-width="0.8" stroke-linejoin="miter"/>
<polygon points="506.1,212.4 500.9,215 506.1,217.6" fill="#fff" stroke="#6a6a6a" stroke-width="0.8" stroke-linejoin="miter"/>
<polygon points="508.1,211.9 502.9,214.5 508.1,217.1" fill="#fff" stroke="#6a6a6a" stroke-width="0.8" stroke-linejoin="miter"/>
<polygon points="510,211.5 504.8,214.1 510,216.7" fill="#fff" stroke="#6a6a6a" stroke-width="0.8" stroke-linejoin="miter"/>
<polygon points="511.5,188.5 506.3,191.1 511.5,193.7" fill="#fff" stroke="#6a6a6a" stroke-width="0.8" stroke-linejoin="miter"/>
<polygon points="513.7,187.8 508.5,190.4 513.7,193" fill="#fff" stroke="#6a6a6a" stroke-width="0.8" stroke-linejoin="miter"/>
<polygon points="516.7,189.3 511.5,191.9 516.7,194.5" fill="#fff" stroke="#6a6a6a" stroke-width="0.8" stroke-linejoin="miter"/>
<polygon points="519.6,190 514.4,192.6 519.6,195.2" fill="#fff" stroke="#6a6a6a" stroke-width="0.8" stroke-linejoin="miter"/>
<polygon points="521.1,195.2 515.9,197.8 521.1,200.4" fill="#fff" stroke="#6a6a6a" stroke-width="0.8" stroke-linejoin="miter"/>
<polygon points="524.1,198.9 518.9,201.5 524.1,204.1" fill="#fff" stroke="#6a6a6a" stroke-width="0.8" stroke-linejoin="miter"/>
<polygon points="526.3,204.8 521.1,207.4 526.3,210" fill="#fff" stroke="#6a6a6a" stroke-width="0.8" stroke-linejoin="miter"/>
<polygon points="529.3,206.3 524.1,208.9 529.3,211.5" fill="#fff" stroke="#6a6a6a" stroke-width="0.8" stroke-linejoin="miter"/>
<polygon points="532.2,209.3 527,211.9 532.2,214.5" fill="#fff" stroke="#6a6a6a" stroke-width="0.8" stroke-linejoin="miter"/>
<polygon points="534.5,210.7 529.3,213.3 534.5,215.9" fill="#fff" stroke="#6a6a6a" stroke-width="0.8" stroke-linejoin="miter"/>
<polygon points="536.4,210.2 531.2,212.8 536.4,215.4" fill="#fff" stroke="#6a6a6a" stroke-width="0.8" stroke-linejoin="miter"/>
<polygon points="538.2,210 533,212.6 538.2,215.2" fill="#fff" stroke="#6a6a6a" stroke-width="0.8" stroke-linejoin="miter"/>
<polygon points="540.4,210.4 535.2,213 540.4,215.6" fill="#fff" stroke="#6a6a6a" stroke-width="0.8" stroke-linejoin="miter"/>
<polygon points="542.6,210.7 537.4,213.3 542.6,215.9" fill="#fff" stroke="#6a6a6a" stroke-width="0.8" stroke-linejoin="miter"/>
<polygon points="544.8,210.7 539.6,213.3 544.8,215.9" fill="#fff" stroke="#6a6a6a" stroke-width="0.8" stroke-linejoin="miter"/>
<polygon points="547,210.7 541.8,213.3 547,215.9" fill="#fff" stroke="#6a6a6a" stroke-width="0.8" stroke-linejoin="miter"/>
<polygon points="548.8,211.1 543.6,213.7 548.8,216.3" fill="#fff" stroke="#6a6a6a" stroke-width="0.8" stroke-linejoin="miter"/>
<polygon points="550.7,211.5 545.5,214.1 550.7,216.7" fill="#fff" stroke="#6a6a6a" stroke-width="0.8" stroke-linejoin="miter"/>
<polygon points="553,175.2 547.8,177.8 553,180.4" fill="#fff" stroke="#6a6a6a" stroke-width="0.8" stroke-linejoin="miter"/>
<polygon points="554.5,179.6 549.3,182.2 554.5,184.8" fill="#fff" stroke="#6a6a6a" stroke-width="0.8" stroke-linejoin="miter"/>
<polygon points="556.7,184.1 551.5,186.7 556.7,189.3" fill="#fff" stroke="#6a6a6a" stroke-width="0.8" stroke-linejoin="miter"/>
<polygon points="558.9,192.2 553.7,194.8 558.9,197.4" fill="#fff" stroke="#6a6a6a" stroke-width="0.8" stroke-linejoin="miter"/>
<polygon points="561.1,196.7 555.9,199.3 561.1,201.9" fill="#fff" stroke="#6a6a6a" stroke-width="0.8" stroke-linejoin="miter"/>
<polygon points="563.3,198.9 558.1,201.5 563.3,204.1" fill="#fff" stroke="#6a6a6a" stroke-width="0.8" stroke-linejoin="miter"/>
<polygon points="565.6,201.1 560.4,203.7 565.6,206.3" fill="#fff" stroke="#6a6a6a" stroke-width="0.8" stroke-linejoin="miter"/>
<polygon points="567.8,202.6 562.6,205.2 567.8,207.8" fill="#fff" stroke="#6a6a6a" stroke-width="0.8" stroke-linejoin="miter"/>
<polygon points="570.7,203.3 565.5,205.9 570.7,208.5" fill="#fff" stroke="#6a6a6a" stroke-width="0.8" stroke-linejoin="miter"/>
<polygon points="573.7,204.1 568.5,206.7 573.7,209.3" fill="#fff" stroke="#6a6a6a" stroke-width="0.8" stroke-linejoin="miter"/>
<polygon points="576.7,204.1 571.5,206.7 576.7,209.3" fill="#fff" stroke="#6a6a6a" stroke-width="0.8" stroke-linejoin="miter"/>
<polygon points="579.6,204.1 574.4,206.7 579.6,209.3" fill="#fff" stroke="#6a6a6a" stroke-width="0.8" stroke-linejoin="miter"/>
<polygon points="582.3,204.1 577.1,206.7 582.3,209.3" fill="#fff" stroke="#6a6a6a" stroke-width="0.8" stroke-linejoin="miter"/>
<polygon points="584.1,164.9 578.9,167.5 584.1,170.1" fill="#fff" stroke="#6a6a6a" stroke-width="0.8" stroke-linejoin="miter"/>
<polygon points="586.4,170.4 581.2,173 586.4,175.6" fill="#fff" stroke="#6a6a6a" stroke-width="0.8" stroke-linejoin="miter"/>
<polygon points="587.9,183.2 582.7,185.8 587.9,188.4" fill="#fff" stroke="#6a6a6a" stroke-width="0.8" stroke-linejoin="miter"/>
<polygon points="590.9,185.5 585.7,188.1 590.9,190.7" fill="#fff" stroke="#6a6a6a" stroke-width="0.8" stroke-linejoin="miter"/>
<polygon points="593.9,187.7 588.7,190.3 593.9,192.9" fill="#fff" stroke="#6a6a6a" stroke-width="0.8" stroke-linejoin="miter"/>
<polygon points="596.9,189.2 591.7,191.8 596.9,194.4" fill="#fff" stroke="#6a6a6a" stroke-width="0.8" stroke-linejoin="miter"/>
<polygon points="599.9,191.5 594.7,194.1 599.9,196.7" fill="#fff" stroke="#6a6a6a" stroke-width="0.8" stroke-linejoin="miter"/>
<polygon points="603,195.3 597.8,197.9 603,200.5" fill="#fff" stroke="#6a6a6a" stroke-width="0.8" stroke-linejoin="miter"/>
<polygon points="606,194.5 600.8,197.1 606,199.7" fill="#fff" stroke="#6a6a6a" stroke-width="0.8" stroke-linejoin="miter"/>
<polygon points="609,193.8 603.8,196.4 609,199" fill="#fff" stroke="#6a6a6a" stroke-width="0.8" stroke-linejoin="miter"/>
<polygon points="610.9,194.2 605.7,196.8 610.9,199.4" fill="#fff" stroke="#6a6a6a" stroke-width="0.8" stroke-linejoin="miter"/>
<polygon points="612.8,194.5 607.6,197.1 612.8,199.7" fill="#fff" stroke="#6a6a6a" stroke-width="0.8" stroke-linejoin="miter"/>
<polygon points="614.3,151.5 609.1,154.1 614.3,156.7" fill="#fff" stroke="#6a6a6a" stroke-width="0.8" stroke-linejoin="miter"/>
<polygon points="616.5,152.3 611.3,154.9 616.5,157.5" fill="#fff" stroke="#6a6a6a" stroke-width="0.8" stroke-linejoin="miter"/>
<polygon points="618.4,153.4 613.2,156 618.4,158.6" fill="#fff" stroke="#6a6a6a" stroke-width="0.8" stroke-linejoin="miter"/>
<polygon points="620.3,154.5 615.1,157.1 620.3,159.7" fill="#fff" stroke="#6a6a6a" stroke-width="0.8" stroke-linejoin="miter"/>
<polygon points="623.3,157.6 618.1,160.2 623.3,162.8" fill="#fff" stroke="#6a6a6a" stroke-width="0.8" stroke-linejoin="miter"/>
<polygon points="624.8,174.2 619.6,176.8 624.8,179.4" fill="#fff" stroke="#6a6a6a" stroke-width="0.8" stroke-linejoin="miter"/>
<polygon points="627.8,172.6 622.6,175.2 627.8,177.8" fill="#fff" stroke="#6a6a6a" stroke-width="0.8" stroke-linejoin="miter"/>
<polygon points="630.9,176.4 625.7,179 630.9,181.6" fill="#fff" stroke="#6a6a6a" stroke-width="0.8" stroke-linejoin="miter"/>
<polygon points="634.6,174.9 629.4,177.5 634.6,180.1" fill="#fff" stroke="#6a6a6a" stroke-width="0.8" stroke-linejoin="miter"/>
<polygon points="637.7,176.4 632.5,179 637.7,181.6" fill="#fff" stroke="#6a6a6a" stroke-width="0.8" stroke-linejoin="miter"/>
<polygon points="640.7,176.4 635.5,179 640.7,181.6" fill="#fff" stroke="#6a6a6a" stroke-width="0.8" stroke-linejoin="miter"/>
<polygon points="642.9,176.4 637.7,179 642.9,181.6" fill="#fff" stroke="#6a6a6a" stroke-width="0.8" stroke-linejoin="miter"/>
<polyline points="377.1,155.6 378.6,140.9 380.6,133.8 382.5,104.9 384.7,83.6 386.8,47.2 389.1,32.2 391,25.3 393.03,25.3 395.06,25.3 397.09,25.3 399.12,25.3 401.15,25.3 403.18,25.3 405.21,25.3 407.24,25.3 409.27,25.3 411.3,25.3 413.33,25.3 415.36,25.3 417.9,39.8 419.4,30.4 420.8,28.9 422.8,28.82 424.8,28.74 426.8,28.66 428.8,28.58 430.8,28.5 432.8,28.42 434.8,28.34 438,48.5 440.2,47.8 443.1,45.6 446.1,40.4 448.3,35.9 450.6,32.2 453.5,30 455.7,32.2 456.8,32.8 458.3,57.9 460.7,56.9 462.5,51.9 464.8,45.1 466.3,29.3 469.3,25.5 470.8,30.1 473.1,28.6 475.3,25.5 477.3,25.8 479.1,74.5 480.9,70.7 482.9,58.7 485.1,56.4 487.1,51.6 489.6,39.8 491.9,39.4 494.2,33.1 497.2,32.3 500.2,33.8 503.2,34.6 505.5,33.1 508,36.1 509.5,76 511.9,77 514.5,71.5 518,73 519.8,63.2 522,58.7 524,45.9 525.8,42.9 528.8,39.8 531.8,38.3 534.8,37.6 537.8,37.6 540.8,36.8 543.9,36.4 546.9,36.1 549.1,35.8 550.8,97.7 552.9,92.4 554.8,82.1 556.7,68 559.1,62.9 562,58.5 564.8,50.1 568.5,49.1 572.3,48.6 576.1,49.1 578.9,47.8 581.2,115.4 583.6,110.9 585.1,85.5 587.4,78.9 590.2,76.1 593.6,72.3 597.4,74.9 600.2,65.1 603.8,62.3 606.2,66.6 610,66.1 612,144 613.6,148.5 615.1,144 618.1,132 620.3,129.7 622.3,103.3 623.3,108.6 626.4,105.6 628.6,98.1 630.1,103.3 632.4,97.3 635.4,95.8 637.7,98.8 639.2,97.3" fill="none" stroke="#1a1ae0" stroke-width="1.2" stroke-linejoin="round" />
<rect x="375.1" y="153.6" width="4" height="4" fill="#1212e6" stroke="#1212e6" stroke-width="0.3"/>
<rect x="376.6" y="138.9" width="4" height="4" fill="#1212e6" stroke="#1212e6" stroke-width="0.3"/>
<rect x="378.6" y="131.8" width="4" height="4" fill="#1212e6" stroke="#1212e6" stroke-width="0.3"/>
<rect x="380.5" y="102.9" width="4" height="4" fill="#1212e6" stroke="#1212e6" stroke-width="0.3"/>
<rect x="382.7" y="81.6" width="4" height="4" fill="#1212e6" stroke="#1212e6" stroke-width="0.3"/>
<rect x="384.8" y="45.2" width="4" height="4" fill="#1212e6" stroke="#1212e6" stroke-width="0.3"/>
<rect x="387.1" y="30.2" width="4" height="4" fill="#1212e6" stroke="#1212e6" stroke-width="0.3"/>
<rect x="389" y="23.3" width="4" height="4" fill="#1212e6" stroke="#1212e6" stroke-width="0.3"/>
<rect x="391.03" y="23.3" width="4" height="4" fill="#1212e6" stroke="#1212e6" stroke-width="0.3"/>
<rect x="393.06" y="23.3" width="4" height="4" fill="#1212e6" stroke="#1212e6" stroke-width="0.3"/>
<rect x="395.09" y="23.3" width="4" height="4" fill="#1212e6" stroke="#1212e6" stroke-width="0.3"/>
<rect x="397.12" y="23.3" width="4" height="4" fill="#1212e6" stroke="#1212e6" stroke-width="0.3"/>
<rect x="399.15" y="23.3" width="4" height="4" fill="#1212e6" stroke="#1212e6" stroke-width="0.3"/>
<rect x="401.18" y="23.3" width="4" height="4" fill="#1212e6" stroke="#1212e6" stroke-width="0.3"/>
<rect x="403.21" y="23.3" width="4" height="4" fill="#1212e6" stroke="#1212e6" stroke-width="0.3"/>
<rect x="405.24" y="23.3" width="4" height="4" fill="#1212e6" stroke="#1212e6" stroke-width="0.3"/>
<rect x="407.27" y="23.3" width="4" height="4" fill="#1212e6" stroke="#1212e6" stroke-width="0.3"/>
<rect x="409.3" y="23.3" width="4" height="4" fill="#1212e6" stroke="#1212e6" stroke-width="0.3"/>
<rect x="411.33" y="23.3" width="4" height="4" fill="#1212e6" stroke="#1212e6" stroke-width="0.3"/>
<rect x="413.36" y="23.3" width="4" height="4" fill="#1212e6" stroke="#1212e6" stroke-width="0.3"/>
<rect x="415.9" y="37.8" width="4" height="4" fill="#1212e6" stroke="#1212e6" stroke-width="0.3"/>
<rect x="417.4" y="28.4" width="4" height="4" fill="#1212e6" stroke="#1212e6" stroke-width="0.3"/>
<rect x="418.8" y="26.9" width="4" height="4" fill="#1212e6" stroke="#1212e6" stroke-width="0.3"/>
<rect x="420.8" y="26.82" width="4" height="4" fill="#1212e6" stroke="#1212e6" stroke-width="0.3"/>
<rect x="422.8" y="26.74" width="4" height="4" fill="#1212e6" stroke="#1212e6" stroke-width="0.3"/>
<rect x="424.8" y="26.66" width="4" height="4" fill="#1212e6" stroke="#1212e6" stroke-width="0.3"/>
<rect x="426.8" y="26.58" width="4" height="4" fill="#1212e6" stroke="#1212e6" stroke-width="0.3"/>
<rect x="428.8" y="26.5" width="4" height="4" fill="#1212e6" stroke="#1212e6" stroke-width="0.3"/>
<rect x="430.8" y="26.42" width="4" height="4" fill="#1212e6" stroke="#1212e6" stroke-width="0.3"/>
<rect x="432.8" y="26.34" width="4" height="4" fill="#1212e6" stroke="#1212e6" stroke-width="0.3"/>
<rect x="436" y="46.5" width="4" height="4" fill="#1212e6" stroke="#1212e6" stroke-width="0.3"/>
<rect x="438.2" y="45.8" width="4" height="4" fill="#1212e6" stroke="#1212e6" stroke-width="0.3"/>
<rect x="441.1" y="43.6" width="4" height="4" fill="#1212e6" stroke="#1212e6" stroke-width="0.3"/>
<rect x="444.1" y="38.4" width="4" height="4" fill="#1212e6" stroke="#1212e6" stroke-width="0.3"/>
<rect x="446.3" y="33.9" width="4" height="4" fill="#1212e6" stroke="#1212e6" stroke-width="0.3"/>
<rect x="448.6" y="30.2" width="4" height="4" fill="#1212e6" stroke="#1212e6" stroke-width="0.3"/>
<rect x="451.5" y="28" width="4" height="4" fill="#1212e6" stroke="#1212e6" stroke-width="0.3"/>
<rect x="453.7" y="30.2" width="4" height="4" fill="#1212e6" stroke="#1212e6" stroke-width="0.3"/>
<rect x="454.8" y="30.8" width="4" height="4" fill="#1212e6" stroke="#1212e6" stroke-width="0.3"/>
<rect x="456.3" y="55.9" width="4" height="4" fill="#1212e6" stroke="#1212e6" stroke-width="0.3"/>
<rect x="458.7" y="54.9" width="4" height="4" fill="#1212e6" stroke="#1212e6" stroke-width="0.3"/>
<rect x="460.5" y="49.9" width="4" height="4" fill="#1212e6" stroke="#1212e6" stroke-width="0.3"/>
<rect x="462.8" y="43.1" width="4" height="4" fill="#1212e6" stroke="#1212e6" stroke-width="0.3"/>
<rect x="464.3" y="27.3" width="4" height="4" fill="#1212e6" stroke="#1212e6" stroke-width="0.3"/>
<rect x="467.3" y="23.5" width="4" height="4" fill="#1212e6" stroke="#1212e6" stroke-width="0.3"/>
<rect x="468.8" y="28.1" width="4" height="4" fill="#1212e6" stroke="#1212e6" stroke-width="0.3"/>
<rect x="471.1" y="26.6" width="4" height="4" fill="#1212e6" stroke="#1212e6" stroke-width="0.3"/>
<rect x="473.3" y="23.5" width="4" height="4" fill="#1212e6" stroke="#1212e6" stroke-width="0.3"/>
<rect x="475.3" y="23.8" width="4" height="4" fill="#1212e6" stroke="#1212e6" stroke-width="0.3"/>
<rect x="477.1" y="72.5" width="4" height="4" fill="#1212e6" stroke="#1212e6" stroke-width="0.3"/>
<rect x="478.9" y="68.7" width="4" height="4" fill="#1212e6" stroke="#1212e6" stroke-width="0.3"/>
<rect x="480.9" y="56.7" width="4" height="4" fill="#1212e6" stroke="#1212e6" stroke-width="0.3"/>
<rect x="483.1" y="54.4" width="4" height="4" fill="#1212e6" stroke="#1212e6" stroke-width="0.3"/>
<rect x="485.1" y="49.6" width="4" height="4" fill="#1212e6" stroke="#1212e6" stroke-width="0.3"/>
<rect x="487.6" y="37.8" width="4" height="4" fill="#1212e6" stroke="#1212e6" stroke-width="0.3"/>
<rect x="489.9" y="37.4" width="4" height="4" fill="#1212e6" stroke="#1212e6" stroke-width="0.3"/>
<rect x="492.2" y="31.1" width="4" height="4" fill="#1212e6" stroke="#1212e6" stroke-width="0.3"/>
<rect x="495.2" y="30.3" width="4" height="4" fill="#1212e6" stroke="#1212e6" stroke-width="0.3"/>
<rect x="498.2" y="31.8" width="4" height="4" fill="#1212e6" stroke="#1212e6" stroke-width="0.3"/>
<rect x="501.2" y="32.6" width="4" height="4" fill="#1212e6" stroke="#1212e6" stroke-width="0.3"/>
<rect x="503.5" y="31.1" width="4" height="4" fill="#1212e6" stroke="#1212e6" stroke-width="0.3"/>
<rect x="506" y="34.1" width="4" height="4" fill="#1212e6" stroke="#1212e6" stroke-width="0.3"/>
<rect x="507.5" y="74" width="4" height="4" fill="#1212e6" stroke="#1212e6" stroke-width="0.3"/>
<rect x="509.9" y="75" width="4" height="4" fill="#1212e6" stroke="#1212e6" stroke-width="0.3"/>
<rect x="512.5" y="69.5" width="4" height="4" fill="#1212e6" stroke="#1212e6" stroke-width="0.3"/>
<rect x="516" y="71" width="4" height="4" fill="#1212e6" stroke="#1212e6" stroke-width="0.3"/>
<rect x="517.8" y="61.2" width="4" height="4" fill="#1212e6" stroke="#1212e6" stroke-width="0.3"/>
<rect x="520" y="56.7" width="4" height="4" fill="#1212e6" stroke="#1212e6" stroke-width="0.3"/>
<rect x="522" y="43.9" width="4" height="4" fill="#1212e6" stroke="#1212e6" stroke-width="0.3"/>
<rect x="523.8" y="40.9" width="4" height="4" fill="#1212e6" stroke="#1212e6" stroke-width="0.3"/>
<rect x="526.8" y="37.8" width="4" height="4" fill="#1212e6" stroke="#1212e6" stroke-width="0.3"/>
<rect x="529.8" y="36.3" width="4" height="4" fill="#1212e6" stroke="#1212e6" stroke-width="0.3"/>
<rect x="532.8" y="35.6" width="4" height="4" fill="#1212e6" stroke="#1212e6" stroke-width="0.3"/>
<rect x="535.8" y="35.6" width="4" height="4" fill="#1212e6" stroke="#1212e6" stroke-width="0.3"/>
<rect x="538.8" y="34.8" width="4" height="4" fill="#1212e6" stroke="#1212e6" stroke-width="0.3"/>
<rect x="541.9" y="34.4" width="4" height="4" fill="#1212e6" stroke="#1212e6" stroke-width="0.3"/>
<rect x="544.9" y="34.1" width="4" height="4" fill="#1212e6" stroke="#1212e6" stroke-width="0.3"/>
<rect x="547.1" y="33.8" width="4" height="4" fill="#1212e6" stroke="#1212e6" stroke-width="0.3"/>
<rect x="548.8" y="95.7" width="4" height="4" fill="#1212e6" stroke="#1212e6" stroke-width="0.3"/>
<rect x="550.9" y="90.4" width="4" height="4" fill="#1212e6" stroke="#1212e6" stroke-width="0.3"/>
<rect x="552.8" y="80.1" width="4" height="4" fill="#1212e6" stroke="#1212e6" stroke-width="0.3"/>
<rect x="554.7" y="66" width="4" height="4" fill="#1212e6" stroke="#1212e6" stroke-width="0.3"/>
<rect x="557.1" y="60.9" width="4" height="4" fill="#1212e6" stroke="#1212e6" stroke-width="0.3"/>
<rect x="560" y="56.5" width="4" height="4" fill="#1212e6" stroke="#1212e6" stroke-width="0.3"/>
<rect x="562.8" y="48.1" width="4" height="4" fill="#1212e6" stroke="#1212e6" stroke-width="0.3"/>
<rect x="566.5" y="47.1" width="4" height="4" fill="#1212e6" stroke="#1212e6" stroke-width="0.3"/>
<rect x="570.3" y="46.6" width="4" height="4" fill="#1212e6" stroke="#1212e6" stroke-width="0.3"/>
<rect x="574.1" y="47.1" width="4" height="4" fill="#1212e6" stroke="#1212e6" stroke-width="0.3"/>
<rect x="576.9" y="45.8" width="4" height="4" fill="#1212e6" stroke="#1212e6" stroke-width="0.3"/>
<rect x="579.2" y="113.4" width="4" height="4" fill="#1212e6" stroke="#1212e6" stroke-width="0.3"/>
<rect x="581.6" y="108.9" width="4" height="4" fill="#1212e6" stroke="#1212e6" stroke-width="0.3"/>
<rect x="583.1" y="83.5" width="4" height="4" fill="#1212e6" stroke="#1212e6" stroke-width="0.3"/>
<rect x="585.4" y="76.9" width="4" height="4" fill="#1212e6" stroke="#1212e6" stroke-width="0.3"/>
<rect x="588.2" y="74.1" width="4" height="4" fill="#1212e6" stroke="#1212e6" stroke-width="0.3"/>
<rect x="591.6" y="70.3" width="4" height="4" fill="#1212e6" stroke="#1212e6" stroke-width="0.3"/>
<rect x="595.4" y="72.9" width="4" height="4" fill="#1212e6" stroke="#1212e6" stroke-width="0.3"/>
<rect x="598.2" y="63.1" width="4" height="4" fill="#1212e6" stroke="#1212e6" stroke-width="0.3"/>
<rect x="601.8" y="60.3" width="4" height="4" fill="#1212e6" stroke="#1212e6" stroke-width="0.3"/>
<rect x="604.2" y="64.6" width="4" height="4" fill="#1212e6" stroke="#1212e6" stroke-width="0.3"/>
<rect x="608" y="64.1" width="4" height="4" fill="#1212e6" stroke="#1212e6" stroke-width="0.3"/>
<rect x="610" y="142" width="4" height="4" fill="#1212e6" stroke="#1212e6" stroke-width="0.3"/>
<rect x="611.6" y="146.5" width="4" height="4" fill="#1212e6" stroke="#1212e6" stroke-width="0.3"/>
<rect x="613.1" y="142" width="4" height="4" fill="#1212e6" stroke="#1212e6" stroke-width="0.3"/>
<rect x="616.1" y="130" width="4" height="4" fill="#1212e6" stroke="#1212e6" stroke-width="0.3"/>
<rect x="618.3" y="127.7" width="4" height="4" fill="#1212e6" stroke="#1212e6" stroke-width="0.3"/>
<rect x="620.3" y="101.3" width="4" height="4" fill="#1212e6" stroke="#1212e6" stroke-width="0.3"/>
<rect x="621.3" y="106.6" width="4" height="4" fill="#1212e6" stroke="#1212e6" stroke-width="0.3"/>
<rect x="624.4" y="103.6" width="4" height="4" fill="#1212e6" stroke="#1212e6" stroke-width="0.3"/>
<rect x="626.6" y="96.1" width="4" height="4" fill="#1212e6" stroke="#1212e6" stroke-width="0.3"/>
<rect x="628.1" y="101.3" width="4" height="4" fill="#1212e6" stroke="#1212e6" stroke-width="0.3"/>
<rect x="630.4" y="95.3" width="4" height="4" fill="#1212e6" stroke="#1212e6" stroke-width="0.3"/>
<rect x="633.4" y="93.8" width="4" height="4" fill="#1212e6" stroke="#1212e6" stroke-width="0.3"/>
<rect x="635.7" y="96.8" width="4" height="4" fill="#1212e6" stroke="#1212e6" stroke-width="0.3"/>
<rect x="637.2" y="95.3" width="4" height="4" fill="#1212e6" stroke="#1212e6" stroke-width="0.3"/>
<rect x="374.7" y="14.4" width="266.3" height="214.1" fill="none" stroke="#1a1a1a" stroke-width="1.3"/>
<line x1="374.7" y1="228.5" x2="374.7" y2="232.5" stroke="#1a1a1a" stroke-width="1.2" />
<text x="374.7" y="243.9" font-size="11.5" text-anchor="middle" font-weight="normal" >0</text>
<line x1="415.67" y1="228.5" x2="415.67" y2="232.5" stroke="#1a1a1a" stroke-width="1.2" />
<text x="415.67" y="243.9" font-size="11.5" text-anchor="middle" font-weight="normal" >20</text>
<line x1="456.64" y1="228.5" x2="456.64" y2="232.5" stroke="#1a1a1a" stroke-width="1.2" />
<text x="456.64" y="243.9" font-size="11.5" text-anchor="middle" font-weight="normal" >40</text>
<line x1="497.61" y1="228.5" x2="497.61" y2="232.5" stroke="#1a1a1a" stroke-width="1.2" />
<text x="497.61" y="243.9" font-size="11.5" text-anchor="middle" font-weight="normal" >60</text>
<line x1="538.58" y1="228.5" x2="538.58" y2="232.5" stroke="#1a1a1a" stroke-width="1.2" />
<text x="538.58" y="243.9" font-size="11.5" text-anchor="middle" font-weight="normal" >80</text>
<line x1="579.55" y1="228.5" x2="579.55" y2="232.5" stroke="#1a1a1a" stroke-width="1.2" />
<text x="579.55" y="243.9" font-size="11.5" text-anchor="middle" font-weight="normal" >100</text>
<line x1="620.52" y1="228.5" x2="620.52" y2="232.5" stroke="#1a1a1a" stroke-width="1.2" />
<text x="620.52" y="243.9" font-size="11.5" text-anchor="middle" font-weight="normal" >120</text>
<line x1="395.18" y1="228.5" x2="395.18" y2="230.7" stroke="#1a1a1a" stroke-width="1.2" />
<line x1="436.15" y1="228.5" x2="436.15" y2="230.7" stroke="#1a1a1a" stroke-width="1.2" />
<line x1="477.12" y1="228.5" x2="477.12" y2="230.7" stroke="#1a1a1a" stroke-width="1.2" />
<line x1="518.09" y1="228.5" x2="518.09" y2="230.7" stroke="#1a1a1a" stroke-width="1.2" />
<line x1="559.06" y1="228.5" x2="559.06" y2="230.7" stroke="#1a1a1a" stroke-width="1.2" />
<line x1="600.03" y1="228.5" x2="600.03" y2="230.7" stroke="#1a1a1a" stroke-width="1.2" />
<line x1="641" y1="228.5" x2="641" y2="230.7" stroke="#1a1a1a" stroke-width="1.2" />
<line x1="370.7" y1="228.5" x2="374.7" y2="228.5" stroke="#1a1a1a" stroke-width="1.2" />
<text x="368.2" y="232.5" font-size="11.5" text-anchor="end" font-weight="normal" >0</text>
<line x1="370.7" y1="187.32" x2="374.7" y2="187.32" stroke="#1a1a1a" stroke-width="1.2" />
<text x="368.2" y="191.32" font-size="11.5" text-anchor="end" font-weight="normal" >10</text>
<line x1="370.7" y1="146.14" x2="374.7" y2="146.14" stroke="#1a1a1a" stroke-width="1.2" />
<text x="368.2" y="150.14" font-size="11.5" text-anchor="end" font-weight="normal" >20</text>
<line x1="370.7" y1="104.96" x2="374.7" y2="104.96" stroke="#1a1a1a" stroke-width="1.2" />
<text x="368.2" y="108.96" font-size="11.5" text-anchor="end" font-weight="normal" >30</text>
<line x1="370.7" y1="63.78" x2="374.7" y2="63.78" stroke="#1a1a1a" stroke-width="1.2" />
<text x="368.2" y="67.78" font-size="11.5" text-anchor="end" font-weight="normal" >40</text>
<line x1="370.7" y1="22.6" x2="374.7" y2="22.6" stroke="#1a1a1a" stroke-width="1.2" />
<text x="368.2" y="26.6" font-size="11.5" text-anchor="end" font-weight="normal" >50</text>
<line x1="372.5" y1="207.91" x2="374.7" y2="207.91" stroke="#1a1a1a" stroke-width="1.2" />
<line x1="372.5" y1="166.73" x2="374.7" y2="166.73" stroke="#1a1a1a" stroke-width="1.2" />
<line x1="372.5" y1="125.55" x2="374.7" y2="125.55" stroke="#1a1a1a" stroke-width="1.2" />
<line x1="372.5" y1="84.37" x2="374.7" y2="84.37" stroke="#1a1a1a" stroke-width="1.2" />
<line x1="372.5" y1="43.19" x2="374.7" y2="43.19" stroke="#1a1a1a" stroke-width="1.2" />
<line x1="641" y1="228.5" x2="645" y2="228.5" stroke="#1a1a1a" stroke-width="1.2" />
<text x="647.8" y="232.5" font-size="11.5" text-anchor="start" font-weight="normal" >40</text>
<line x1="641" y1="192.18" x2="645" y2="192.18" stroke="#1a1a1a" stroke-width="1.2" />
<text x="647.8" y="196.18" font-size="11.5" text-anchor="start" font-weight="normal" >50</text>
<line x1="641" y1="155.86" x2="645" y2="155.86" stroke="#1a1a1a" stroke-width="1.2" />
<text x="647.8" y="159.86" font-size="11.5" text-anchor="start" font-weight="normal" >60</text>
<line x1="641" y1="119.54" x2="645" y2="119.54" stroke="#1a1a1a" stroke-width="1.2" />
<text x="647.8" y="123.54" font-size="11.5" text-anchor="start" font-weight="normal" >70</text>
<line x1="641" y1="83.22" x2="645" y2="83.22" stroke="#1a1a1a" stroke-width="1.2" />
<text x="647.8" y="87.22" font-size="11.5" text-anchor="start" font-weight="normal" >80</text>
<line x1="641" y1="46.9" x2="645" y2="46.9" stroke="#1a1a1a" stroke-width="1.2" />
<text x="647.8" y="50.9" font-size="11.5" text-anchor="start" font-weight="normal" >90</text>
<line x1="641" y1="210.34" x2="643.2" y2="210.34" stroke="#1a1a1a" stroke-width="1.2" />
<line x1="641" y1="174.02" x2="643.2" y2="174.02" stroke="#1a1a1a" stroke-width="1.2" />
<line x1="641" y1="137.7" x2="643.2" y2="137.7" stroke="#1a1a1a" stroke-width="1.2" />
<line x1="641" y1="101.38" x2="643.2" y2="101.38" stroke="#1a1a1a" stroke-width="1.2" />
<line x1="641" y1="65.06" x2="643.2" y2="65.06" stroke="#1a1a1a" stroke-width="1.2" />
<line x1="641" y1="28.74" x2="643.2" y2="28.74" stroke="#1a1a1a" stroke-width="1.2" />
<text x="381.6" y="14" font-size="11.4" text-anchor="middle" font-weight="normal" >0</text>
<text x="401.9" y="14" font-size="11.4" text-anchor="middle" font-weight="normal" >1</text>
<text x="422.2" y="14" font-size="11.4" text-anchor="middle" font-weight="normal" >2</text>
<text x="442.8" y="14" font-size="11.4" text-anchor="middle" font-weight="normal" >3</text>
<text x="463.3" y="14" font-size="11.4" text-anchor="middle" font-weight="normal" >4</text>
<text x="494.1" y="14" font-size="11.4" text-anchor="middle" font-weight="normal" >5</text>
<text x="535.3" y="14" font-size="11.4" text-anchor="middle" font-weight="normal" >6</text>
<text x="562.6" y="14" font-size="11.4" text-anchor="middle" font-weight="normal" >7</text>
<text x="593.7" y="14" font-size="11.4" text-anchor="middle" font-weight="normal" >8</text>
<text x="624.3" y="14" font-size="11.4" text-anchor="middle" font-weight="normal" >9</text>
<text x="366" y="11.2" font-size="12.5" text-anchor="middle" font-weight="bold" >(b)</text>
<text x="511.3" y="253.5" font-size="13.1" text-anchor="middle" font-weight="normal" >Time (day)</text>
<line x1="393.6" y1="104.8" x2="398.1" y2="104.8" stroke="#111" stroke-width="1.4" />
<line x1="405.1" y1="104.8" x2="409.6" y2="104.8" stroke="#111" stroke-width="1.4" />
<polygon points="399.3,102.5 403.9,104.8 399.3,107.1" fill="#fff" stroke="#92e492" stroke-width="0.9" stroke-linejoin="miter"/>
<text x="412.2" y="107.8" font-size="11" text-anchor="start" font-weight="normal" >Influent NO<tspan font-size="7" dy="3">3</tspan><tspan dy="-3">-N</tspan></text>
<line x1="393.6" y1="122" x2="398.1" y2="122" stroke="#111" stroke-width="1.4" />
<line x1="405.1" y1="122" x2="409.6" y2="122" stroke="#111" stroke-width="1.4" />
<polygon points="403.9,119.7 399.3,122 403.9,124.3" fill="#fff" stroke="#505050" stroke-width="0.9" stroke-linejoin="miter"/>
<text x="413.1" y="125.1" font-size="11" text-anchor="start" font-weight="normal" >Effluent NO<tspan font-size="7" dy="3">3</tspan><tspan dy="-3">-N</tspan></text>
<line x1="393.6" y1="138.6" x2="398.1" y2="138.6" stroke="#1a1ae0" stroke-width="1.4" />
<line x1="405.1" y1="138.6" x2="409.6" y2="138.6" stroke="#1a1ae0" stroke-width="1.4" />
<rect x="399.9" y="136.9" width="3.4" height="3.4" fill="#1212e6" stroke="#1212e6" stroke-width="0.3"/>
<text x="412.8" y="141.7" font-size="11" text-anchor="start" font-weight="normal" >Removal efficiency</text>
<text transform="translate(352.6,121.2) rotate(-90)" font-size="13.5" text-anchor="middle">Influent NO<tspan font-size="7.2" dy="3">3</tspan><tspan dy="-3">-N concentration (mg l</tspan><tspan font-size="6.2" dy="-5.5">-1</tspan><tspan dy="5.5">)</tspan></text>
<text transform="translate(670,119.8) rotate(-90)" font-size="13.1" text-anchor="middle">Removal efficiency (%)</text>
<line x1="57.42" y1="288.6" x2="57.42" y2="499.9" stroke="#6a6a6a" stroke-width="0.9" stroke-dasharray="1,1.85"/>
<line x1="77.83" y1="288.6" x2="77.83" y2="499.9" stroke="#6a6a6a" stroke-width="0.9" stroke-dasharray="1,1.85"/>
<line x1="98.25" y1="288.6" x2="98.25" y2="499.9" stroke="#6a6a6a" stroke-width="0.9" stroke-dasharray="1,1.85"/>
<line x1="118.66" y1="288.6" x2="118.66" y2="499.9" stroke="#6a6a6a" stroke-width="0.9" stroke-dasharray="1,1.85"/>
<line x1="139.08" y1="288.6" x2="139.08" y2="499.9" stroke="#6a6a6a" stroke-width="0.9" stroke-dasharray="1,1.85"/>
<line x1="169.7" y1="288.6" x2="169.7" y2="499.9" stroke="#6a6a6a" stroke-width="0.9" stroke-dasharray="1,1.85"/>
<line x1="210.53" y1="288.6" x2="210.53" y2="499.9" stroke="#6a6a6a" stroke-width="0.9" stroke-dasharray="1,1.85"/>
<line x1="241.15" y1="288.6" x2="241.15" y2="499.9" stroke="#6a6a6a" stroke-width="0.9" stroke-dasharray="1,1.85"/>
<line x1="271.78" y1="288.6" x2="271.78" y2="499.9" stroke="#6a6a6a" stroke-width="0.9" stroke-dasharray="1,1.85"/>
<rect x="166.43" y="294.4" width="1.3" height="1.8" fill="#111"/>
<rect x="171.53" y="294.4" width="1.3" height="1.8" fill="#111"/>
<rect x="176.63" y="294.4" width="1.3" height="1.8" fill="#111"/>
<rect x="181.73" y="294.4" width="1.3" height="1.8" fill="#111"/>
<rect x="186.83" y="294.4" width="1.3" height="1.8" fill="#111"/>
<rect x="191.93" y="294.4" width="1.3" height="1.8" fill="#111"/>
<rect x="197.03" y="294.4" width="1.3" height="1.8" fill="#111"/>
<rect x="202.13" y="294.4" width="1.3" height="1.8" fill="#111"/>
<rect x="207.23" y="294.4" width="1.3" height="1.8" fill="#111"/>
<rect x="212.33" y="294.4" width="1.3" height="1.8" fill="#111"/>
<rect x="217.43" y="294.4" width="1.3" height="1.8" fill="#111"/>
<rect x="222.53" y="294.4" width="1.3" height="1.8" fill="#111"/>
<rect x="227.63" y="294.4" width="1.3" height="1.8" fill="#111"/>
<rect x="232.73" y="294.4" width="1.3" height="1.8" fill="#111"/>
<rect x="237.83" y="294.4" width="1.3" height="1.8" fill="#111"/>
<rect x="242.93" y="294.4" width="1.3" height="1.8" fill="#111"/>
<rect x="248.03" y="294.4" width="1.3" height="1.8" fill="#111"/>
<rect x="253.13" y="294.4" width="1.3" height="1.8" fill="#111"/>
<rect x="258.23" y="294.4" width="1.3" height="1.8" fill="#111"/>
<rect x="263.33" y="294.4" width="1.3" height="1.8" fill="#111"/>
<rect x="268.43" y="294.4" width="1.3" height="1.8" fill="#111"/>
<rect x="273.53" y="294.4" width="1.3" height="1.8" fill="#111"/>
<rect x="278.63" y="294.4" width="1.3" height="1.8" fill="#111"/>
<rect x="283.73" y="294.4" width="1.3" height="1.8" fill="#111"/>
<rect x="288.83" y="294.4" width="1.3" height="1.8" fill="#111"/>
<rect x="293.93" y="294.4" width="1.3" height="1.8" fill="#111"/>
<rect x="299.03" y="294.4" width="1.3" height="1.8" fill="#111"/>
<polygon points="41.5,292.7 36.5,295.2 41.5,297.7" fill="#aeefae" stroke="#84e084" stroke-width="0.8" stroke-linejoin="miter"/>
<polygon points="43.54,292.7 38.54,295.2 43.54,297.7" fill="#aeefae" stroke="#84e084" stroke-width="0.8" stroke-linejoin="miter"/>
<polygon points="45.58,292.7 40.58,295.2 45.58,297.7" fill="#aeefae" stroke="#84e084" stroke-width="0.8" stroke-linejoin="miter"/>
<polygon points="47.62,292.7 42.62,295.2 47.62,297.7" fill="#aeefae" stroke="#84e084" stroke-width="0.8" stroke-linejoin="miter"/>
<polygon points="49.66,292.7 44.66,295.2 49.66,297.7" fill="#aeefae" stroke="#84e084" stroke-width="0.8" stroke-linejoin="miter"/>
<polygon points="51.7,292.7 46.7,295.2 51.7,297.7" fill="#aeefae" stroke="#84e084" stroke-width="0.8" stroke-linejoin="miter"/>
<polygon points="53.74,292.7 48.74,295.2 53.74,297.7" fill="#aeefae" stroke="#84e084" stroke-width="0.8" stroke-linejoin="miter"/>
<polygon points="55.78,292.7 50.78,295.2 55.78,297.7" fill="#aeefae" stroke="#84e084" stroke-width="0.8" stroke-linejoin="miter"/>
<polygon points="57.82,292.7 52.82,295.2 57.82,297.7" fill="#aeefae" stroke="#84e084" stroke-width="0.8" stroke-linejoin="miter"/>
<polygon points="59.86,292.7 54.86,295.2 59.86,297.7" fill="#aeefae" stroke="#84e084" stroke-width="0.8" stroke-linejoin="miter"/>
<polygon points="61.9,292.7 56.9,295.2 61.9,297.7" fill="#aeefae" stroke="#84e084" stroke-width="0.8" stroke-linejoin="miter"/>
<polygon points="63.94,292.7 58.94,295.2 63.94,297.7" fill="#aeefae" stroke="#84e084" stroke-width="0.8" stroke-linejoin="miter"/>
<polygon points="65.98,292.7 60.98,295.2 65.98,297.7" fill="#aeefae" stroke="#84e084" stroke-width="0.8" stroke-linejoin="miter"/>
<polygon points="68.02,292.7 63.02,295.2 68.02,297.7" fill="#aeefae" stroke="#84e084" stroke-width="0.8" stroke-linejoin="miter"/>
<polygon points="70.06,292.7 65.06,295.2 70.06,297.7" fill="#aeefae" stroke="#84e084" stroke-width="0.8" stroke-linejoin="miter"/>
<polygon points="72.1,292.7 67.1,295.2 72.1,297.7" fill="#aeefae" stroke="#84e084" stroke-width="0.8" stroke-linejoin="miter"/>
<polygon points="74.14,292.7 69.14,295.2 74.14,297.7" fill="#aeefae" stroke="#84e084" stroke-width="0.8" stroke-linejoin="miter"/>
<polygon points="76.18,292.7 71.18,295.2 76.18,297.7" fill="#aeefae" stroke="#84e084" stroke-width="0.8" stroke-linejoin="miter"/>
<polygon points="78.22,292.7 73.22,295.2 78.22,297.7" fill="#aeefae" stroke="#84e084" stroke-width="0.8" stroke-linejoin="miter"/>
<polygon points="80.26,292.7 75.26,295.2 80.26,297.7" fill="#aeefae" stroke="#84e084" stroke-width="0.8" stroke-linejoin="miter"/>
<polygon points="82.3,292.7 77.3,295.2 82.3,297.7" fill="#aeefae" stroke="#84e084" stroke-width="0.8" stroke-linejoin="miter"/>
<polygon points="84.34,292.7 79.34,295.2 84.34,297.7" fill="#aeefae" stroke="#84e084" stroke-width="0.8" stroke-linejoin="miter"/>
<polygon points="86.38,292.7 81.38,295.2 86.38,297.7" fill="#aeefae" stroke="#84e084" stroke-width="0.8" stroke-linejoin="miter"/>
<polygon points="88.42,292.7 83.42,295.2 88.42,297.7" fill="#aeefae" stroke="#84e084" stroke-width="0.8" stroke-linejoin="miter"/>
<polygon points="90.46,292.7 85.46,295.2 90.46,297.7" fill="#aeefae" stroke="#84e084" stroke-width="0.8" stroke-linejoin="miter"/>
<polygon points="92.5,292.7 87.5,295.2 92.5,297.7" fill="#aeefae" stroke="#84e084" stroke-width="0.8" stroke-linejoin="miter"/>
<polygon points="94.54,292.7 89.54,295.2 94.54,297.7" fill="#aeefae" stroke="#84e084" stroke-width="0.8" stroke-linejoin="miter"/>
<polygon points="96.58,292.7 91.58,295.2 96.58,297.7" fill="#aeefae" stroke="#84e084" stroke-width="0.8" stroke-linejoin="miter"/>
<polygon points="98.62,292.7 93.62,295.2 98.62,297.7" fill="#aeefae" stroke="#84e084" stroke-width="0.8" stroke-linejoin="miter"/>
<polygon points="100.66,292.7 95.66,295.2 100.66,297.7" fill="#aeefae" stroke="#84e084" stroke-width="0.8" stroke-linejoin="miter"/>
<polygon points="102.7,292.7 97.7,295.2 102.7,297.7" fill="#aeefae" stroke="#84e084" stroke-width="0.8" stroke-linejoin="miter"/>
<polygon points="104.74,292.7 99.74,295.2 104.74,297.7" fill="#aeefae" stroke="#84e084" stroke-width="0.8" stroke-linejoin="miter"/>
<polygon points="106.78,292.7 101.78,295.2 106.78,297.7" fill="#aeefae" stroke="#84e084" stroke-width="0.8" stroke-linejoin="miter"/>
<polygon points="108.82,292.7 103.82,295.2 108.82,297.7" fill="#aeefae" stroke="#84e084" stroke-width="0.8" stroke-linejoin="miter"/>
<polygon points="110.86,292.7 105.86,295.2 110.86,297.7" fill="#aeefae" stroke="#84e084" stroke-width="0.8" stroke-linejoin="miter"/>
<polygon points="112.9,292.7 107.9,295.2 112.9,297.7" fill="#aeefae" stroke="#84e084" stroke-width="0.8" stroke-linejoin="miter"/>
<polygon points="114.94,292.7 109.94,295.2 114.94,297.7" fill="#aeefae" stroke="#84e084" stroke-width="0.8" stroke-linejoin="miter"/>
<polygon points="116.98,292.7 111.98,295.2 116.98,297.7" fill="#aeefae" stroke="#84e084" stroke-width="0.8" stroke-linejoin="miter"/>
<polygon points="119.02,292.7 114.02,295.2 119.02,297.7" fill="#aeefae" stroke="#84e084" stroke-width="0.8" stroke-linejoin="miter"/>
<polygon points="121.06,292.7 116.06,295.2 121.06,297.7" fill="#aeefae" stroke="#84e084" stroke-width="0.8" stroke-linejoin="miter"/>
<polygon points="123.1,292.7 118.1,295.2 123.1,297.7" fill="#aeefae" stroke="#84e084" stroke-width="0.8" stroke-linejoin="miter"/>
<polygon points="125.14,292.7 120.14,295.2 125.14,297.7" fill="#aeefae" stroke="#84e084" stroke-width="0.8" stroke-linejoin="miter"/>
<polygon points="127.18,292.7 122.18,295.2 127.18,297.7" fill="#aeefae" stroke="#84e084" stroke-width="0.8" stroke-linejoin="miter"/>
<polygon points="129.22,292.7 124.22,295.2 129.22,297.7" fill="#aeefae" stroke="#84e084" stroke-width="0.8" stroke-linejoin="miter"/>
<polygon points="131.26,292.7 126.26,295.2 131.26,297.7" fill="#aeefae" stroke="#84e084" stroke-width="0.8" stroke-linejoin="miter"/>
<polygon points="133.3,292.7 128.3,295.2 133.3,297.7" fill="#aeefae" stroke="#84e084" stroke-width="0.8" stroke-linejoin="miter"/>
<polygon points="135.34,292.7 130.34,295.2 135.34,297.7" fill="#aeefae" stroke="#84e084" stroke-width="0.8" stroke-linejoin="miter"/>
<polygon points="137.38,292.7 132.38,295.2 137.38,297.7" fill="#aeefae" stroke="#84e084" stroke-width="0.8" stroke-linejoin="miter"/>
<polygon points="139.42,292.7 134.42,295.2 139.42,297.7" fill="#aeefae" stroke="#84e084" stroke-width="0.8" stroke-linejoin="miter"/>
<polygon points="141.46,292.7 136.46,295.2 141.46,297.7" fill="#aeefae" stroke="#84e084" stroke-width="0.8" stroke-linejoin="miter"/>
<polygon points="143.5,292.7 138.5,295.2 143.5,297.7" fill="#aeefae" stroke="#84e084" stroke-width="0.8" stroke-linejoin="miter"/>
<polygon points="145.54,292.7 140.54,295.2 145.54,297.7" fill="#aeefae" stroke="#84e084" stroke-width="0.8" stroke-linejoin="miter"/>
<polygon points="147.58,292.7 142.58,295.2 147.58,297.7" fill="#aeefae" stroke="#84e084" stroke-width="0.8" stroke-linejoin="miter"/>
<polygon points="149.62,292.7 144.62,295.2 149.62,297.7" fill="#aeefae" stroke="#84e084" stroke-width="0.8" stroke-linejoin="miter"/>
<polygon points="151.66,292.7 146.66,295.2 151.66,297.7" fill="#aeefae" stroke="#84e084" stroke-width="0.8" stroke-linejoin="miter"/>
<polygon points="153.7,292.7 148.7,295.2 153.7,297.7" fill="#aeefae" stroke="#84e084" stroke-width="0.8" stroke-linejoin="miter"/>
<polygon points="155.74,292.7 150.74,295.2 155.74,297.7" fill="#aeefae" stroke="#84e084" stroke-width="0.8" stroke-linejoin="miter"/>
<polygon points="157.78,292.7 152.78,295.2 157.78,297.7" fill="#aeefae" stroke="#84e084" stroke-width="0.8" stroke-linejoin="miter"/>
<polygon points="159.82,292.7 154.82,295.2 159.82,297.7" fill="#aeefae" stroke="#84e084" stroke-width="0.8" stroke-linejoin="miter"/>
<polygon points="161.86,292.7 156.86,295.2 161.86,297.7" fill="#aeefae" stroke="#84e084" stroke-width="0.8" stroke-linejoin="miter"/>
<polygon points="166.2,296.4 160.2,299.4 166.2,302.4" fill="#d2f7d2" stroke="#92e492" stroke-width="0.8" stroke-linejoin="miter"/>
<polygon points="168.75,296.4 162.75,299.4 168.75,302.4" fill="#d2f7d2" stroke="#92e492" stroke-width="0.8" stroke-linejoin="miter"/>
<polygon points="171.3,288.2 165.3,291.2 171.3,294.2" fill="#d2f7d2" stroke="#92e492" stroke-width="0.8" stroke-linejoin="miter"/>
<polygon points="173.85,288.2 167.85,291.2 173.85,294.2" fill="#d2f7d2" stroke="#92e492" stroke-width="0.8" stroke-linejoin="miter"/>
<polygon points="176.4,296.4 170.4,299.4 176.4,302.4" fill="#d2f7d2" stroke="#92e492" stroke-width="0.8" stroke-linejoin="miter"/>
<polygon points="178.95,296.4 172.95,299.4 178.95,302.4" fill="#d2f7d2" stroke="#92e492" stroke-width="0.8" stroke-linejoin="miter"/>
<polygon points="181.5,288.2 175.5,291.2 181.5,294.2" fill="#d2f7d2" stroke="#92e492" stroke-width="0.8" stroke-linejoin="miter"/>
<polygon points="184.05,288.2 178.05,291.2 184.05,294.2" fill="#d2f7d2" stroke="#92e492" stroke-width="0.8" stroke-linejoin="miter"/>
<polygon points="186.6,296.4 180.6,299.4 186.6,302.4" fill="#d2f7d2" stroke="#92e492" stroke-width="0.8" stroke-linejoin="miter"/>
<polygon points="189.15,296.4 183.15,299.4 189.15,302.4" fill="#d2f7d2" stroke="#92e492" stroke-width="0.8" stroke-linejoin="miter"/>
<polygon points="191.7,288.2 185.7,291.2 191.7,294.2" fill="#d2f7d2" stroke="#92e492" stroke-width="0.8" stroke-linejoin="miter"/>
<polygon points="194.25,288.2 188.25,291.2 194.25,294.2" fill="#d2f7d2" stroke="#92e492" stroke-width="0.8" stroke-linejoin="miter"/>
<polygon points="196.8,296.4 190.8,299.4 196.8,302.4" fill="#d2f7d2" stroke="#92e492" stroke-width="0.8" stroke-linejoin="miter"/>
<polygon points="199.35,296.4 193.35,299.4 199.35,302.4" fill="#d2f7d2" stroke="#92e492" stroke-width="0.8" stroke-linejoin="miter"/>
<polygon points="201.9,288.2 195.9,291.2 201.9,294.2" fill="#d2f7d2" stroke="#92e492" stroke-width="0.8" stroke-linejoin="miter"/>
<polygon points="204.45,288.2 198.45,291.2 204.45,294.2" fill="#d2f7d2" stroke="#92e492" stroke-width="0.8" stroke-linejoin="miter"/>
<polygon points="207,296.4 201,299.4 207,302.4" fill="#d2f7d2" stroke="#92e492" stroke-width="0.8" stroke-linejoin="miter"/>
<polygon points="209.55,296.4 203.55,299.4 209.55,302.4" fill="#d2f7d2" stroke="#92e492" stroke-width="0.8" stroke-linejoin="miter"/>
<polygon points="212.1,288.2 206.1,291.2 212.1,294.2" fill="#d2f7d2" stroke="#92e492" stroke-width="0.8" stroke-linejoin="miter"/>
<polygon points="214.65,288.2 208.65,291.2 214.65,294.2" fill="#d2f7d2" stroke="#92e492" stroke-width="0.8" stroke-linejoin="miter"/>
<polygon points="217.2,296.4 211.2,299.4 217.2,302.4" fill="#d2f7d2" stroke="#92e492" stroke-width="0.8" stroke-linejoin="miter"/>
<polygon points="219.75,296.4 213.75,299.4 219.75,302.4" fill="#d2f7d2" stroke="#92e492" stroke-width="0.8" stroke-linejoin="miter"/>
<polygon points="222.3,288.2 216.3,291.2 222.3,294.2" fill="#d2f7d2" stroke="#92e492" stroke-width="0.8" stroke-linejoin="miter"/>
<polygon points="224.85,288.2 218.85,291.2 224.85,294.2" fill="#d2f7d2" stroke="#92e492" stroke-width="0.8" stroke-linejoin="miter"/>
<polygon points="227.4,296.4 221.4,299.4 227.4,302.4" fill="#d2f7d2" stroke="#92e492" stroke-width="0.8" stroke-linejoin="miter"/>
<polygon points="229.95,296.4 223.95,299.4 229.95,302.4" fill="#d2f7d2" stroke="#92e492" stroke-width="0.8" stroke-linejoin="miter"/>
<polygon points="232.5,288.2 226.5,291.2 232.5,294.2" fill="#d2f7d2" stroke="#92e492" stroke-width="0.8" stroke-linejoin="miter"/>
<polygon points="235.05,288.2 229.05,291.2 235.05,294.2" fill="#d2f7d2" stroke="#92e492" stroke-width="0.8" stroke-linejoin="miter"/>
<polygon points="237.6,296.4 231.6,299.4 237.6,302.4" fill="#d2f7d2" stroke="#92e492" stroke-width="0.8" stroke-linejoin="miter"/>
<polygon points="240.15,296.4 234.15,299.4 240.15,302.4" fill="#d2f7d2" stroke="#92e492" stroke-width="0.8" stroke-linejoin="miter"/>
<polygon points="242.7,288.2 236.7,291.2 242.7,294.2" fill="#d2f7d2" stroke="#92e492" stroke-width="0.8" stroke-linejoin="miter"/>
<polygon points="245.25,288.2 239.25,291.2 245.25,294.2" fill="#d2f7d2" stroke="#92e492" stroke-width="0.8" stroke-linejoin="miter"/>
<polygon points="247.8,296.4 241.8,299.4 247.8,302.4" fill="#d2f7d2" stroke="#92e492" stroke-width="0.8" stroke-linejoin="miter"/>
<polygon points="250.35,296.4 244.35,299.4 250.35,302.4" fill="#d2f7d2" stroke="#92e492" stroke-width="0.8" stroke-linejoin="miter"/>
<polygon points="252.9,288.2 246.9,291.2 252.9,294.2" fill="#d2f7d2" stroke="#92e492" stroke-width="0.8" stroke-linejoin="miter"/>
<polygon points="255.45,288.2 249.45,291.2 255.45,294.2" fill="#d2f7d2" stroke="#92e492" stroke-width="0.8" stroke-linejoin="miter"/>
<polygon points="258,296.4 252,299.4 258,302.4" fill="#d2f7d2" stroke="#92e492" stroke-width="0.8" stroke-linejoin="miter"/>
<polygon points="260.55,296.4 254.55,299.4 260.55,302.4" fill="#d2f7d2" stroke="#92e492" stroke-width="0.8" stroke-linejoin="miter"/>
<polygon points="263.1,288.2 257.1,291.2 263.1,294.2" fill="#d2f7d2" stroke="#92e492" stroke-width="0.8" stroke-linejoin="miter"/>
<polygon points="265.65,288.2 259.65,291.2 265.65,294.2" fill="#d2f7d2" stroke="#92e492" stroke-width="0.8" stroke-linejoin="miter"/>
<polygon points="268.2,296.4 262.2,299.4 268.2,302.4" fill="#d2f7d2" stroke="#92e492" stroke-width="0.8" stroke-linejoin="miter"/>
<polygon points="270.75,296.4 264.75,299.4 270.75,302.4" fill="#d2f7d2" stroke="#92e492" stroke-width="0.8" stroke-linejoin="miter"/>
<polygon points="273.3,288.2 267.3,291.2 273.3,294.2" fill="#d2f7d2" stroke="#92e492" stroke-width="0.8" stroke-linejoin="miter"/>
<polygon points="275.85,288.2 269.85,291.2 275.85,294.2" fill="#d2f7d2" stroke="#92e492" stroke-width="0.8" stroke-linejoin="miter"/>
<polygon points="278.4,296.4 272.4,299.4 278.4,302.4" fill="#d2f7d2" stroke="#92e492" stroke-width="0.8" stroke-linejoin="miter"/>
<polygon points="280.95,296.4 274.95,299.4 280.95,302.4" fill="#d2f7d2" stroke="#92e492" stroke-width="0.8" stroke-linejoin="miter"/>
<polygon points="283.5,288.2 277.5,291.2 283.5,294.2" fill="#d2f7d2" stroke="#92e492" stroke-width="0.8" stroke-linejoin="miter"/>
<polygon points="286.05,288.2 280.05,291.2 286.05,294.2" fill="#d2f7d2" stroke="#92e492" stroke-width="0.8" stroke-linejoin="miter"/>
<polygon points="288.6,296.4 282.6,299.4 288.6,302.4" fill="#d2f7d2" stroke="#92e492" stroke-width="0.8" stroke-linejoin="miter"/>
<polygon points="291.15,296.4 285.15,299.4 291.15,302.4" fill="#d2f7d2" stroke="#92e492" stroke-width="0.8" stroke-linejoin="miter"/>
<polygon points="293.7,288.2 287.7,291.2 293.7,294.2" fill="#d2f7d2" stroke="#92e492" stroke-width="0.8" stroke-linejoin="miter"/>
<polygon points="296.25,288.2 290.25,291.2 296.25,294.2" fill="#d2f7d2" stroke="#92e492" stroke-width="0.8" stroke-linejoin="miter"/>
<polygon points="298.8,296.4 292.8,299.4 298.8,302.4" fill="#d2f7d2" stroke="#92e492" stroke-width="0.8" stroke-linejoin="miter"/>
<polygon points="301.35,296.4 295.35,299.4 301.35,302.4" fill="#d2f7d2" stroke="#92e492" stroke-width="0.8" stroke-linejoin="miter"/>
<polygon points="303.9,288.2 297.9,291.2 303.9,294.2" fill="#d2f7d2" stroke="#92e492" stroke-width="0.8" stroke-linejoin="miter"/>
<line x1="239.6" y1="292" x2="240.4" y2="296" stroke="#111" stroke-width="1.0" />
<line x1="291.8" y1="292" x2="292.6" y2="296" stroke="#111" stroke-width="1.0" />
<line x1="257.5" y1="300" x2="258.9" y2="304.5" stroke="#111" stroke-width="0.9" />
<polygon points="261.4,305.5 256.4,308 261.4,310.5" fill="#d2f7d2" stroke="#92e492" stroke-width="0.8" stroke-linejoin="miter"/>
<polyline points="38.8,335.8 41.1,467.5 43,484.1 45.4,481 47.2,487.1 49.1,493.9 51,496.5 53.04,496.39 55.08,496.27 57.12,496.16 59.16,496.05 61.2,496.07 63.24,496.19 65.28,496.32 67.32,496.44 69.36,496.56 71.4,496.52 73.44,496.39 75.48,496.27 77.52,496.15 79.56,496.03 81.6,496.06 83.64,496.15 85.68,496.23 87.72,496.31 89.76,496.39 91.8,496.47 93.84,496.55 95.88,496.64 97.92,496.72 99.96,496.8 102,496.68 104.04,496.56 106.08,496.44 108.12,496.31 110.16,496.21 112.2,496.31 114.24,496.41 116.28,496.51 118.32,495.92 120.2,491.9 120.36,492.26 122.4,496.6 124.44,496.66 126.48,496.71 128.52,496.76 130.56,495.49 132.1,491.9 132.6,493.07 134.64,496.78 136.68,496.68 138.72,495.54 140.4,491.3 140.76,492.17 142.8,496.42 144.84,496.52 146.88,496.63 148.92,496.74 150.96,496.8 153,496.8 155.04,496.8 157.08,496.8 159.12,496.8 161.3,452.9 163.1,479.8 164.8,479.8 167.5,479.8 169.3,479.8 171.1,471.7 172.9,471.7 174.7,471.7 177.4,472.6 180,479.8 182,479.4 184.05,479.4 186.1,479.4 188.15,479.4 190.2,479.4 192.25,479.4 194.3,479.4 196.35,479.4 198.4,479.4 200.45,479.4 202.5,479.4 204.55,479.4 206.6,479.4 208.65,479.4 210.5,479.8 211.9,434.2 214,436.8 216.2,441.3 218.5,444.9 220.3,458 222.1,461 223.9,463.7 225.7,466.4 227.5,469 230.1,474.4 232.8,477.1 235.5,477.1 238.2,477.1 240.4,477.3 242.4,358.6 244.9,369.1 247.1,380.6 248.5,391.1 250.2,402.6 252.7,414.1 254.4,417.3 256.4,423 258.8,428.8 260.5,435.2 262.5,450.9 264.4,456.5 266.9,462.1 269.1,467.5 271,471.9 273.1,303.5 275.3,319.9 277.2,336 279.2,353.2 281.2,368.8 282.9,385.5 285.1,394.8 287,398.9 289.5,414.8 291.5,414.8 293.4,414.8 295.3,414.8 297.2,414.8 299.1,414.8 301,414.8" fill="none" stroke="#2b2bd0" stroke-width="1.3" stroke-linejoin="round" />
<rect x="36.7" y="333.7" width="4.2" height="4.2" fill="#fff" stroke="#6f6ff5" stroke-width="0.9"/>
<rect x="39" y="465.4" width="4.2" height="4.2" fill="#fff" stroke="#6f6ff5" stroke-width="0.9"/>
<rect x="40.9" y="482" width="4.2" height="4.2" fill="#fff" stroke="#6f6ff5" stroke-width="0.9"/>
<rect x="43.3" y="478.9" width="4.2" height="4.2" fill="#fff" stroke="#6f6ff5" stroke-width="0.9"/>
<rect x="45.1" y="485" width="4.2" height="4.2" fill="#fff" stroke="#6f6ff5" stroke-width="0.9"/>
<rect x="47" y="491.8" width="4.2" height="4.2" fill="#fff" stroke="#6f6ff5" stroke-width="0.9"/>
<rect x="48.9" y="494.4" width="4.2" height="4.2" fill="#fff" stroke="#6f6ff5" stroke-width="0.9"/>
<rect x="50.94" y="494.29" width="4.2" height="4.2" fill="#fff" stroke="#6f6ff5" stroke-width="0.9"/>
<rect x="52.98" y="494.17" width="4.2" height="4.2" fill="#fff" stroke="#6f6ff5" stroke-width="0.9"/>
<rect x="55.02" y="494.06" width="4.2" height="4.2" fill="#fff" stroke="#6f6ff5" stroke-width="0.9"/>
<rect x="57.06" y="493.95" width="4.2" height="4.2" fill="#fff" stroke="#6f6ff5" stroke-width="0.9"/>
<rect x="59.1" y="493.97" width="4.2" height="4.2" fill="#fff" stroke="#6f6ff5" stroke-width="0.9"/>
<rect x="61.14" y="494.09" width="4.2" height="4.2" fill="#fff" stroke="#6f6ff5" stroke-width="0.9"/>
<rect x="63.18" y="494.22" width="4.2" height="4.2" fill="#fff" stroke="#6f6ff5" stroke-width="0.9"/>
<rect x="65.22" y="494.34" width="4.2" height="4.2" fill="#fff" stroke="#6f6ff5" stroke-width="0.9"/>
<rect x="67.26" y="494.46" width="4.2" height="4.2" fill="#fff" stroke="#6f6ff5" stroke-width="0.9"/>
<rect x="69.3" y="494.42" width="4.2" height="4.2" fill="#fff" stroke="#6f6ff5" stroke-width="0.9"/>
<rect x="71.34" y="494.29" width="4.2" height="4.2" fill="#fff" stroke="#6f6ff5" stroke-width="0.9"/>
<rect x="73.38" y="494.17" width="4.2" height="4.2" fill="#fff" stroke="#6f6ff5" stroke-width="0.9"/>
<rect x="75.42" y="494.05" width="4.2" height="4.2" fill="#fff" stroke="#6f6ff5" stroke-width="0.9"/>
<rect x="77.46" y="493.93" width="4.2" height="4.2" fill="#fff" stroke="#6f6ff5" stroke-width="0.9"/>
<rect x="79.5" y="493.96" width="4.2" height="4.2" fill="#fff" stroke="#6f6ff5" stroke-width="0.9"/>
<rect x="81.54" y="494.05" width="4.2" height="4.2" fill="#fff" stroke="#6f6ff5" stroke-width="0.9"/>
<rect x="83.58" y="494.13" width="4.2" height="4.2" fill="#fff" stroke="#6f6ff5" stroke-width="0.9"/>
<rect x="85.62" y="494.21" width="4.2" height="4.2" fill="#fff" stroke="#6f6ff5" stroke-width="0.9"/>
<rect x="87.66" y="494.29" width="4.2" height="4.2" fill="#fff" stroke="#6f6ff5" stroke-width="0.9"/>
<rect x="89.7" y="494.37" width="4.2" height="4.2" fill="#fff" stroke="#6f6ff5" stroke-width="0.9"/>
<rect x="91.74" y="494.45" width="4.2" height="4.2" fill="#fff" stroke="#6f6ff5" stroke-width="0.9"/>
<rect x="93.78" y="494.54" width="4.2" height="4.2" fill="#fff" stroke="#6f6ff5" stroke-width="0.9"/>
<rect x="95.82" y="494.62" width="4.2" height="4.2" fill="#fff" stroke="#6f6ff5" stroke-width="0.9"/>
<rect x="97.86" y="494.7" width="4.2" height="4.2" fill="#fff" stroke="#6f6ff5" stroke-width="0.9"/>
<rect x="99.9" y="494.58" width="4.2" height="4.2" fill="#fff" stroke="#6f6ff5" stroke-width="0.9"/>
<rect x="101.94" y="494.46" width="4.2" height="4.2" fill="#fff" stroke="#6f6ff5" stroke-width="0.9"/>
<rect x="103.98" y="494.34" width="4.2" height="4.2" fill="#fff" stroke="#6f6ff5" stroke-width="0.9"/>
<rect x="106.02" y="494.21" width="4.2" height="4.2" fill="#fff" stroke="#6f6ff5" stroke-width="0.9"/>
<rect x="108.06" y="494.11" width="4.2" height="4.2" fill="#fff" stroke="#6f6ff5" stroke-width="0.9"/>
<rect x="110.1" y="494.21" width="4.2" height="4.2" fill="#fff" stroke="#6f6ff5" stroke-width="0.9"/>
<rect x="112.14" y="494.31" width="4.2" height="4.2" fill="#fff" stroke="#6f6ff5" stroke-width="0.9"/>
<rect x="114.18" y="494.41" width="4.2" height="4.2" fill="#fff" stroke="#6f6ff5" stroke-width="0.9"/>
<rect x="116.22" y="493.82" width="4.2" height="4.2" fill="#fff" stroke="#6f6ff5" stroke-width="0.9"/>
<rect x="118.1" y="489.8" width="4.2" height="4.2" fill="#fff" stroke="#6f6ff5" stroke-width="0.9"/>
<rect x="118.26" y="490.16" width="4.2" height="4.2" fill="#fff" stroke="#6f6ff5" stroke-width="0.9"/>
<rect x="120.3" y="494.5" width="4.2" height="4.2" fill="#fff" stroke="#6f6ff5" stroke-width="0.9"/>
<rect x="122.34" y="494.56" width="4.2" height="4.2" fill="#fff" stroke="#6f6ff5" stroke-width="0.9"/>
<rect x="124.38" y="494.61" width="4.2" height="4.2" fill="#fff" stroke="#6f6ff5" stroke-width="0.9"/>
<rect x="126.42" y="494.66" width="4.2" height="4.2" fill="#fff" stroke="#6f6ff5" stroke-width="0.9"/>
<rect x="128.46" y="493.39" width="4.2" height="4.2" fill="#fff" stroke="#6f6ff5" stroke-width="0.9"/>
<rect x="130" y="489.8" width="4.2" height="4.2" fill="#fff" stroke="#6f6ff5" stroke-width="0.9"/>
<rect x="130.5" y="490.97" width="4.2" height="4.2" fill="#fff" stroke="#6f6ff5" stroke-width="0.9"/>
<rect x="132.54" y="494.68" width="4.2" height="4.2" fill="#fff" stroke="#6f6ff5" stroke-width="0.9"/>
<rect x="134.58" y="494.58" width="4.2" height="4.2" fill="#fff" stroke="#6f6ff5" stroke-width="0.9"/>
<rect x="136.62" y="493.44" width="4.2" height="4.2" fill="#fff" stroke="#6f6ff5" stroke-width="0.9"/>
<rect x="138.3" y="489.2" width="4.2" height="4.2" fill="#fff" stroke="#6f6ff5" stroke-width="0.9"/>
<rect x="138.66" y="490.07" width="4.2" height="4.2" fill="#fff" stroke="#6f6ff5" stroke-width="0.9"/>
<rect x="140.7" y="494.32" width="4.2" height="4.2" fill="#fff" stroke="#6f6ff5" stroke-width="0.9"/>
<rect x="142.74" y="494.42" width="4.2" height="4.2" fill="#fff" stroke="#6f6ff5" stroke-width="0.9"/>
<rect x="144.78" y="494.53" width="4.2" height="4.2" fill="#fff" stroke="#6f6ff5" stroke-width="0.9"/>
<rect x="146.82" y="494.64" width="4.2" height="4.2" fill="#fff" stroke="#6f6ff5" stroke-width="0.9"/>
<rect x="148.86" y="494.7" width="4.2" height="4.2" fill="#fff" stroke="#6f6ff5" stroke-width="0.9"/>
<rect x="150.9" y="494.7" width="4.2" height="4.2" fill="#fff" stroke="#6f6ff5" stroke-width="0.9"/>
<rect x="152.94" y="494.7" width="4.2" height="4.2" fill="#fff" stroke="#6f6ff5" stroke-width="0.9"/>
<rect x="154.98" y="494.7" width="4.2" height="4.2" fill="#fff" stroke="#6f6ff5" stroke-width="0.9"/>
<rect x="157.02" y="494.7" width="4.2" height="4.2" fill="#fff" stroke="#6f6ff5" stroke-width="0.9"/>
<rect x="159.2" y="450.8" width="4.2" height="4.2" fill="#fff" stroke="#6f6ff5" stroke-width="0.9"/>
<rect x="161" y="477.7" width="4.2" height="4.2" fill="#fff" stroke="#6f6ff5" stroke-width="0.9"/>
<rect x="162.7" y="477.7" width="4.2" height="4.2" fill="#fff" stroke="#6f6ff5" stroke-width="0.9"/>
<rect x="165.4" y="477.7" width="4.2" height="4.2" fill="#fff" stroke="#6f6ff5" stroke-width="0.9"/>
<rect x="167.2" y="477.7" width="4.2" height="4.2" fill="#fff" stroke="#6f6ff5" stroke-width="0.9"/>
<rect x="169" y="469.6" width="4.2" height="4.2" fill="#fff" stroke="#6f6ff5" stroke-width="0.9"/>
<rect x="170.8" y="469.6" width="4.2" height="4.2" fill="#fff" stroke="#6f6ff5" stroke-width="0.9"/>
<rect x="172.6" y="469.6" width="4.2" height="4.2" fill="#fff" stroke="#6f6ff5" stroke-width="0.9"/>
<rect x="175.3" y="470.5" width="4.2" height="4.2" fill="#fff" stroke="#6f6ff5" stroke-width="0.9"/>
<rect x="177.9" y="477.7" width="4.2" height="4.2" fill="#fff" stroke="#6f6ff5" stroke-width="0.9"/>
<rect x="179.9" y="477.3" width="4.2" height="4.2" fill="#fff" stroke="#6f6ff5" stroke-width="0.9"/>
<rect x="181.95" y="477.3" width="4.2" height="4.2" fill="#fff" stroke="#6f6ff5" stroke-width="0.9"/>
<rect x="184" y="477.3" width="4.2" height="4.2" fill="#fff" stroke="#6f6ff5" stroke-width="0.9"/>
<rect x="186.05" y="477.3" width="4.2" height="4.2" fill="#fff" stroke="#6f6ff5" stroke-width="0.9"/>
<rect x="188.1" y="477.3" width="4.2" height="4.2" fill="#fff" stroke="#6f6ff5" stroke-width="0.9"/>
<rect x="190.15" y="477.3" width="4.2" height="4.2" fill="#fff" stroke="#6f6ff5" stroke-width="0.9"/>
<rect x="192.2" y="477.3" width="4.2" height="4.2" fill="#fff" stroke="#6f6ff5" stroke-width="0.9"/>
<rect x="194.25" y="477.3" width="4.2" height="4.2" fill="#fff" stroke="#6f6ff5" stroke-width="0.9"/>
<rect x="196.3" y="477.3" width="4.2" height="4.2" fill="#fff" stroke="#6f6ff5" stroke-width="0.9"/>
<rect x="198.35" y="477.3" width="4.2" height="4.2" fill="#fff" stroke="#6f6ff5" stroke-width="0.9"/>
<rect x="200.4" y="477.3" width="4.2" height="4.2" fill="#fff" stroke="#6f6ff5" stroke-width="0.9"/>
<rect x="202.45" y="477.3" width="4.2" height="4.2" fill="#fff" stroke="#6f6ff5" stroke-width="0.9"/>
<rect x="204.5" y="477.3" width="4.2" height="4.2" fill="#fff" stroke="#6f6ff5" stroke-width="0.9"/>
<rect x="206.55" y="477.3" width="4.2" height="4.2" fill="#fff" stroke="#6f6ff5" stroke-width="0.9"/>
<rect x="208.4" y="477.7" width="4.2" height="4.2" fill="#fff" stroke="#6f6ff5" stroke-width="0.9"/>
<rect x="209.8" y="432.1" width="4.2" height="4.2" fill="#fff" stroke="#6f6ff5" stroke-width="0.9"/>
<rect x="211.9" y="434.7" width="4.2" height="4.2" fill="#fff" stroke="#6f6ff5" stroke-width="0.9"/>
<rect x="214.1" y="439.2" width="4.2" height="4.2" fill="#fff" stroke="#6f6ff5" stroke-width="0.9"/>
<rect x="216.4" y="442.8" width="4.2" height="4.2" fill="#fff" stroke="#6f6ff5" stroke-width="0.9"/>
<rect x="218.2" y="455.9" width="4.2" height="4.2" fill="#fff" stroke="#6f6ff5" stroke-width="0.9"/>
<rect x="220" y="458.9" width="4.2" height="4.2" fill="#fff" stroke="#6f6ff5" stroke-width="0.9"/>
<rect x="221.8" y="461.6" width="4.2" height="4.2" fill="#fff" stroke="#6f6ff5" stroke-width="0.9"/>
<rect x="223.6" y="464.3" width="4.2" height="4.2" fill="#fff" stroke="#6f6ff5" stroke-width="0.9"/>
<rect x="225.4" y="466.9" width="4.2" height="4.2" fill="#fff" stroke="#6f6ff5" stroke-width="0.9"/>
<rect x="228" y="472.3" width="4.2" height="4.2" fill="#fff" stroke="#6f6ff5" stroke-width="0.9"/>
<rect x="230.7" y="475" width="4.2" height="4.2" fill="#fff" stroke="#6f6ff5" stroke-width="0.9"/>
<rect x="233.4" y="475" width="4.2" height="4.2" fill="#fff" stroke="#6f6ff5" stroke-width="0.9"/>
<rect x="236.1" y="475" width="4.2" height="4.2" fill="#fff" stroke="#6f6ff5" stroke-width="0.9"/>
<rect x="238.3" y="475.2" width="4.2" height="4.2" fill="#fff" stroke="#6f6ff5" stroke-width="0.9"/>
<rect x="240.3" y="356.5" width="4.2" height="4.2" fill="#fff" stroke="#6f6ff5" stroke-width="0.9"/>
<rect x="242.8" y="367" width="4.2" height="4.2" fill="#fff" stroke="#6f6ff5" stroke-width="0.9"/>
<rect x="245" y="378.5" width="4.2" height="4.2" fill="#fff" stroke="#6f6ff5" stroke-width="0.9"/>
<rect x="246.4" y="389" width="4.2" height="4.2" fill="#fff" stroke="#6f6ff5" stroke-width="0.9"/>
<rect x="248.1" y="400.5" width="4.2" height="4.2" fill="#fff" stroke="#6f6ff5" stroke-width="0.9"/>
<rect x="250.6" y="412" width="4.2" height="4.2" fill="#fff" stroke="#6f6ff5" stroke-width="0.9"/>
<rect x="252.3" y="415.2" width="4.2" height="4.2" fill="#fff" stroke="#6f6ff5" stroke-width="0.9"/>
<rect x="254.3" y="420.9" width="4.2" height="4.2" fill="#fff" stroke="#6f6ff5" stroke-width="0.9"/>
<rect x="256.7" y="426.7" width="4.2" height="4.2" fill="#fff" stroke="#6f6ff5" stroke-width="0.9"/>
<rect x="258.4" y="433.1" width="4.2" height="4.2" fill="#fff" stroke="#6f6ff5" stroke-width="0.9"/>
<rect x="260.4" y="448.8" width="4.2" height="4.2" fill="#fff" stroke="#6f6ff5" stroke-width="0.9"/>
<rect x="262.3" y="454.4" width="4.2" height="4.2" fill="#fff" stroke="#6f6ff5" stroke-width="0.9"/>
<rect x="264.8" y="460" width="4.2" height="4.2" fill="#fff" stroke="#6f6ff5" stroke-width="0.9"/>
<rect x="267" y="465.4" width="4.2" height="4.2" fill="#fff" stroke="#6f6ff5" stroke-width="0.9"/>
<rect x="268.9" y="469.8" width="4.2" height="4.2" fill="#fff" stroke="#6f6ff5" stroke-width="0.9"/>
<rect x="271" y="301.4" width="4.2" height="4.2" fill="#fff" stroke="#6f6ff5" stroke-width="0.9"/>
<rect x="273.2" y="317.8" width="4.2" height="4.2" fill="#fff" stroke="#6f6ff5" stroke-width="0.9"/>
<rect x="275.1" y="333.9" width="4.2" height="4.2" fill="#fff" stroke="#6f6ff5" stroke-width="0.9"/>
<rect x="277.1" y="351.1" width="4.2" height="4.2" fill="#fff" stroke="#6f6ff5" stroke-width="0.9"/>
<rect x="279.1" y="366.7" width="4.2" height="4.2" fill="#fff" stroke="#6f6ff5" stroke-width="0.9"/>
<rect x="280.8" y="383.4" width="4.2" height="4.2" fill="#fff" stroke="#6f6ff5" stroke-width="0.9"/>
<rect x="283" y="392.7" width="4.2" height="4.2" fill="#fff" stroke="#6f6ff5" stroke-width="0.9"/>
<rect x="284.9" y="396.8" width="4.2" height="4.2" fill="#fff" stroke="#6f6ff5" stroke-width="0.9"/>
<rect x="287.4" y="412.7" width="4.2" height="4.2" fill="#fff" stroke="#6f6ff5" stroke-width="0.9"/>
<rect x="289.4" y="412.7" width="4.2" height="4.2" fill="#fff" stroke="#6f6ff5" stroke-width="0.9"/>
<rect x="291.3" y="412.7" width="4.2" height="4.2" fill="#fff" stroke="#6f6ff5" stroke-width="0.9"/>
<rect x="293.2" y="412.7" width="4.2" height="4.2" fill="#fff" stroke="#6f6ff5" stroke-width="0.9"/>
<rect x="295.1" y="412.7" width="4.2" height="4.2" fill="#fff" stroke="#6f6ff5" stroke-width="0.9"/>
<rect x="297" y="412.7" width="4.2" height="4.2" fill="#fff" stroke="#6f6ff5" stroke-width="0.9"/>
<rect x="298.9" y="412.7" width="4.2" height="4.2" fill="#fff" stroke="#6f6ff5" stroke-width="0.9"/>
<rect x="37" y="287.6" width="265.4" height="213.3" fill="none" stroke="#1a1a1a" stroke-width="1.3"/>
<line x1="37" y1="500.9" x2="37" y2="504.9" stroke="#1a1a1a" stroke-width="1.2" />
<text x="37" y="516.3" font-size="11.5" text-anchor="middle" font-weight="normal" >0</text>
<line x1="77.83" y1="500.9" x2="77.83" y2="504.9" stroke="#1a1a1a" stroke-width="1.2" />
<text x="77.83" y="516.3" font-size="11.5" text-anchor="middle" font-weight="normal" >20</text>
<line x1="118.66" y1="500.9" x2="118.66" y2="504.9" stroke="#1a1a1a" stroke-width="1.2" />
<text x="118.66" y="516.3" font-size="11.5" text-anchor="middle" font-weight="normal" >40</text>
<line x1="159.49" y1="500.9" x2="159.49" y2="504.9" stroke="#1a1a1a" stroke-width="1.2" />
<text x="159.49" y="516.3" font-size="11.5" text-anchor="middle" font-weight="normal" >60</text>
<line x1="200.32" y1="500.9" x2="200.32" y2="504.9" stroke="#1a1a1a" stroke-width="1.2" />
<text x="200.32" y="516.3" font-size="11.5" text-anchor="middle" font-weight="normal" >80</text>
<line x1="241.15" y1="500.9" x2="241.15" y2="504.9" stroke="#1a1a1a" stroke-width="1.2" />
<text x="241.15" y="516.3" font-size="11.5" text-anchor="middle" font-weight="normal" >100</text>
<line x1="281.98" y1="500.9" x2="281.98" y2="504.9" stroke="#1a1a1a" stroke-width="1.2" />
<text x="281.98" y="516.3" font-size="11.5" text-anchor="middle" font-weight="normal" >120</text>
<line x1="57.42" y1="500.9" x2="57.42" y2="503.1" stroke="#1a1a1a" stroke-width="1.2" />
<line x1="98.25" y1="500.9" x2="98.25" y2="503.1" stroke="#1a1a1a" stroke-width="1.2" />
<line x1="139.08" y1="500.9" x2="139.08" y2="503.1" stroke="#1a1a1a" stroke-width="1.2" />
<line x1="179.91" y1="500.9" x2="179.91" y2="503.1" stroke="#1a1a1a" stroke-width="1.2" />
<line x1="220.74" y1="500.9" x2="220.74" y2="503.1" stroke="#1a1a1a" stroke-width="1.2" />
<line x1="261.57" y1="500.9" x2="261.57" y2="503.1" stroke="#1a1a1a" stroke-width="1.2" />
<line x1="302.4" y1="500.9" x2="302.4" y2="503.1" stroke="#1a1a1a" stroke-width="1.2" />
<line x1="33" y1="500.9" x2="37" y2="500.9" stroke="#1a1a1a" stroke-width="1.2" />
<text x="30.6" y="504.9" font-size="11.5" text-anchor="end" font-weight="normal" >0</text>
<line x1="33" y1="459.86" x2="37" y2="459.86" stroke="#1a1a1a" stroke-width="1.2" />
<text x="30.6" y="463.86" font-size="11.5" text-anchor="end" font-weight="normal" >10</text>
<line x1="33" y1="418.82" x2="37" y2="418.82" stroke="#1a1a1a" stroke-width="1.2" />
<text x="30.6" y="422.82" font-size="11.5" text-anchor="end" font-weight="normal" >20</text>
<line x1="33" y1="377.78" x2="37" y2="377.78" stroke="#1a1a1a" stroke-width="1.2" />
<text x="30.6" y="381.78" font-size="11.5" text-anchor="end" font-weight="normal" >30</text>
<line x1="33" y1="336.74" x2="37" y2="336.74" stroke="#1a1a1a" stroke-width="1.2" />
<text x="30.6" y="340.74" font-size="11.5" text-anchor="end" font-weight="normal" >40</text>
<line x1="33" y1="295.7" x2="37" y2="295.7" stroke="#1a1a1a" stroke-width="1.2" />
<text x="30.6" y="299.7" font-size="11.5" text-anchor="end" font-weight="normal" >50</text>
<line x1="34.8" y1="480.38" x2="37" y2="480.38" stroke="#1a1a1a" stroke-width="1.2" />
<line x1="34.8" y1="439.34" x2="37" y2="439.34" stroke="#1a1a1a" stroke-width="1.2" />
<line x1="34.8" y1="398.3" x2="37" y2="398.3" stroke="#1a1a1a" stroke-width="1.2" />
<line x1="34.8" y1="357.26" x2="37" y2="357.26" stroke="#1a1a1a" stroke-width="1.2" />
<line x1="34.8" y1="316.22" x2="37" y2="316.22" stroke="#1a1a1a" stroke-width="1.2" />
<line x1="302.4" y1="500.9" x2="306.4" y2="500.9" stroke="#1a1a1a" stroke-width="1.2" />
<text x="309.4" y="504.9" font-size="11.5" text-anchor="start" font-weight="normal" >0</text>
<line x1="302.4" y1="467.98" x2="306.4" y2="467.98" stroke="#1a1a1a" stroke-width="1.2" />
<text x="309.4" y="471.98" font-size="11.5" text-anchor="start" font-weight="normal" >1</text>
<line x1="302.4" y1="435.06" x2="306.4" y2="435.06" stroke="#1a1a1a" stroke-width="1.2" />
<text x="309.4" y="439.06" font-size="11.5" text-anchor="start" font-weight="normal" >2</text>
<line x1="302.4" y1="402.14" x2="306.4" y2="402.14" stroke="#1a1a1a" stroke-width="1.2" />
<text x="309.4" y="406.14" font-size="11.5" text-anchor="start" font-weight="normal" >3</text>
<line x1="302.4" y1="369.22" x2="306.4" y2="369.22" stroke="#1a1a1a" stroke-width="1.2" />
<text x="309.4" y="373.22" font-size="11.5" text-anchor="start" font-weight="normal" >4</text>
<line x1="302.4" y1="336.3" x2="306.4" y2="336.3" stroke="#1a1a1a" stroke-width="1.2" />
<text x="309.4" y="340.3" font-size="11.5" text-anchor="start" font-weight="normal" >5</text>
<line x1="302.4" y1="303.38" x2="306.4" y2="303.38" stroke="#1a1a1a" stroke-width="1.2" />
<text x="309.4" y="307.38" font-size="11.5" text-anchor="start" font-weight="normal" >6</text>
<line x1="302.4" y1="484.44" x2="304.6" y2="484.44" stroke="#1a1a1a" stroke-width="1.2" />
<line x1="302.4" y1="451.52" x2="304.6" y2="451.52" stroke="#1a1a1a" stroke-width="1.2" />
<line x1="302.4" y1="418.6" x2="304.6" y2="418.6" stroke="#1a1a1a" stroke-width="1.2" />
<line x1="302.4" y1="385.68" x2="304.6" y2="385.68" stroke="#1a1a1a" stroke-width="1.2" />
<line x1="302.4" y1="352.76" x2="304.6" y2="352.76" stroke="#1a1a1a" stroke-width="1.2" />
<line x1="302.4" y1="319.84" x2="304.6" y2="319.84" stroke="#1a1a1a" stroke-width="1.2" />
<text x="44.4" y="287.4" font-size="11.4" text-anchor="middle" font-weight="normal" >0</text>
<text x="64.1" y="287.4" font-size="11.4" text-anchor="middle" font-weight="normal" >1</text>
<text x="84.7" y="287.4" font-size="11.4" text-anchor="middle" font-weight="normal" >2</text>
<text x="105" y="287.4" font-size="11.4" text-anchor="middle" font-weight="normal" >3</text>
<text x="125.3" y="287.4" font-size="11.4" text-anchor="middle" font-weight="normal" >4</text>
<text x="156.4" y="287.4" font-size="11.4" text-anchor="middle" font-weight="normal" >5</text>
<text x="196.8" y="287.4" font-size="11.4" text-anchor="middle" font-weight="normal" >6</text>
<text x="224.4" y="287.4" font-size="11.4" text-anchor="middle" font-weight="normal" >7</text>
<text x="254.9" y="287.4" font-size="11.4" text-anchor="middle" font-weight="normal" >8</text>
<text x="285.6" y="287.4" font-size="11.4" text-anchor="middle" font-weight="normal" >9</text>
<text x="26.5" y="284.6" font-size="12.5" text-anchor="middle" font-weight="bold" >(c)</text>
<text x="170.1" y="525.4" font-size="13.1" text-anchor="middle" font-weight="normal" >Time (day)</text>
<line x1="44.6" y1="372.6" x2="49.1" y2="372.6" stroke="#333" stroke-width="1.4" />
<line x1="54.2" y1="372.6" x2="58.7" y2="372.6" stroke="#333" stroke-width="1.4" />
<polygon points="53.9,370.3 49.3,372.6 53.9,374.9" fill="#fff" stroke="#92e492" stroke-width="0.9" stroke-linejoin="miter"/>
<text x="61.8" y="376.4" font-size="11" text-anchor="start" font-weight="normal" >Influent&#160; of NO<tspan font-size="7" dy="3">3</tspan><tspan dy="-3">-N</tspan></text>
<line x1="44.6" y1="398.8" x2="49.1" y2="398.8" stroke="#2b2bd0" stroke-width="1.4" />
<line x1="54.2" y1="398.8" x2="58.7" y2="398.8" stroke="#2b2bd0" stroke-width="1.4" />
<rect x="49.9" y="397.1" width="3.4" height="3.4" fill="#fff" stroke="#6f6ff5" stroke-width="0.9"/>
<text x="62.4" y="402.6" font-size="11" text-anchor="start" font-weight="normal" >Effluent&#160; of NO<tspan font-size="7" dy="3">2</tspan><tspan dy="-3">-N</tspan></text>
<text transform="translate(16.4,399.1) rotate(-90)" font-size="13.45" text-anchor="middle">Influent of NO<tspan font-size="7.2" dy="3">3</tspan><tspan dy="-3">-N (mg l</tspan><tspan font-size="6.2" dy="-5.5">-1</tspan><tspan dy="5.5">)</tspan></text>
<text transform="translate(327.4,392.5) rotate(-90)" font-size="13.1" text-anchor="middle">Effluent of NO<tspan font-size="7.2" dy="3">2</tspan><tspan dy="-3">-N (mg l</tspan><tspan font-size="6.2" dy="-5.5">-1</tspan><tspan dy="5.5">)</tspan></text>
<line x1="395.36" y1="294.2" x2="395.36" y2="499.5" stroke="#6a6a6a" stroke-width="0.9" stroke-dasharray="1,1.85"/>
<line x1="415.01" y1="294.2" x2="415.01" y2="499.5" stroke="#6a6a6a" stroke-width="0.9" stroke-dasharray="1,1.85"/>
<line x1="434.67" y1="294.2" x2="434.67" y2="499.5" stroke="#6a6a6a" stroke-width="0.9" stroke-dasharray="1,1.85"/>
<line x1="454.33" y1="294.2" x2="454.33" y2="499.5" stroke="#6a6a6a" stroke-width="0.9" stroke-dasharray="1,1.85"/>
<line x1="473.99" y1="294.2" x2="473.99" y2="499.5" stroke="#6a6a6a" stroke-width="0.9" stroke-dasharray="1,1.85"/>
<line x1="503.47" y1="294.2" x2="503.47" y2="499.5" stroke="#6a6a6a" stroke-width="0.9" stroke-dasharray="1,1.85"/>
<line x1="542.79" y1="294.2" x2="542.79" y2="499.5" stroke="#6a6a6a" stroke-width="0.9" stroke-dasharray="1,1.85"/>
<line x1="572.27" y1="294.2" x2="572.27" y2="499.5" stroke="#6a6a6a" stroke-width="0.9" stroke-dasharray="1,1.85"/>
<line x1="601.76" y1="294.2" x2="601.76" y2="499.5" stroke="#6a6a6a" stroke-width="0.9" stroke-dasharray="1,1.85"/>
<polyline points="397.6,481.2 399.59,481.2 401.58,481.2 403.56,481.2 405.55,481.2 407.54,481.2 409.52,481.2 411.51,481.2 413.5,481.2 417,478.3 419.07,478.3 421.13,478.3 423.2,478.3 425.27,478.3 427.33,478.3 429.4,478.3 431.47,478.3 433.53,478.3 435.6,478.3 436.8,470.9 438.82,470.9 440.84,470.9 442.87,470.9 444.89,470.9 446.91,470.9 448.93,470.9 450.96,470.9 452.98,470.9 455,470.9 456.8,463.5 458.78,463.5 460.76,463.5 462.73,463.5 464.71,463.5 466.69,463.5 468.67,463.5 470.64,463.5 472.62,463.5 474.6,463.5 476.5,456 478.46,456 480.43,456 482.39,456 484.36,456 486.32,456 488.29,456 490.25,456 492.21,456 494.18,456 496.14,456 498.11,456 500.07,456 502.04,456 504,456 505.8,441 507.74,441 509.67,441 511.61,441 513.55,441 515.48,441 517.42,441 519.36,441 521.29,441 523.23,441 525.17,441 527.11,441 529.04,441 530.98,441 532.92,441 534.85,441 536.79,441 538.73,441 540.66,441 542.6,441 545.3,411.7 547.21,411.7 549.11,411.7 551.02,411.7 552.93,411.7 554.84,411.7 556.74,411.7 558.65,411.7 560.56,411.7 562.46,411.7 564.37,411.7 566.28,411.7 568.19,411.7 570.09,411.7 572,411.7 574.6,366.8 576.52,366.8 578.44,366.8 580.36,366.8 582.29,366.8 584.21,366.8 586.13,366.8 588.05,366.8 589.97,366.8 591.89,366.8 593.81,366.8 595.74,366.8 597.66,366.8 599.58,366.8 601.5,366.8 604.3,307.5 606.24,307.5 608.19,307.5 610.13,307.5 612.07,307.5 614.01,307.5 615.96,307.5 617.9,307.5 619.84,307.5 621.79,307.5 623.73,307.5 625.67,307.5 627.61,307.5 629.56,307.5 631.5,307.5" fill="none" stroke="#111" stroke-width="0.9" stroke-linejoin="round" />
<polygon points="395.1,478.7 400.1,481.2 395.1,483.7" fill="#fff" stroke="#777" stroke-width="0.75" stroke-linejoin="miter"/>
<polygon points="397.09,478.7 402.09,481.2 397.09,483.7" fill="#fff" stroke="#777" stroke-width="0.75" stroke-linejoin="miter"/>
<polygon points="399.08,478.7 404.08,481.2 399.08,483.7" fill="#fff" stroke="#777" stroke-width="0.75" stroke-linejoin="miter"/>
<polygon points="401.06,478.7 406.06,481.2 401.06,483.7" fill="#fff" stroke="#777" stroke-width="0.75" stroke-linejoin="miter"/>
<polygon points="403.05,478.7 408.05,481.2 403.05,483.7" fill="#fff" stroke="#777" stroke-width="0.75" stroke-linejoin="miter"/>
<polygon points="405.04,478.7 410.04,481.2 405.04,483.7" fill="#fff" stroke="#777" stroke-width="0.75" stroke-linejoin="miter"/>
<polygon points="407.02,478.7 412.02,481.2 407.02,483.7" fill="#fff" stroke="#777" stroke-width="0.75" stroke-linejoin="miter"/>
<polygon points="409.01,478.7 414.01,481.2 409.01,483.7" fill="#fff" stroke="#777" stroke-width="0.75" stroke-linejoin="miter"/>
<polygon points="411,478.7 416,481.2 411,483.7" fill="#fff" stroke="#777" stroke-width="0.75" stroke-linejoin="miter"/>
<polygon points="414.5,475.8 419.5,478.3 414.5,480.8" fill="#fff" stroke="#777" stroke-width="0.75" stroke-linejoin="miter"/>
<polygon points="416.57,475.8 421.57,478.3 416.57,480.8" fill="#fff" stroke="#777" stroke-width="0.75" stroke-linejoin="miter"/>
<polygon points="418.63,475.8 423.63,478.3 418.63,480.8" fill="#fff" stroke="#777" stroke-width="0.75" stroke-linejoin="miter"/>
<polygon points="420.7,475.8 425.7,478.3 420.7,480.8" fill="#fff" stroke="#777" stroke-width="0.75" stroke-linejoin="miter"/>
<polygon points="422.77,475.8 427.77,478.3 422.77,480.8" fill="#fff" stroke="#777" stroke-width="0.75" stroke-linejoin="miter"/>
<polygon points="424.83,475.8 429.83,478.3 424.83,480.8" fill="#fff" stroke="#777" stroke-width="0.75" stroke-linejoin="miter"/>
<polygon points="426.9,475.8 431.9,478.3 426.9,480.8" fill="#fff" stroke="#777" stroke-width="0.75" stroke-linejoin="miter"/>
<polygon points="428.97,475.8 433.97,478.3 428.97,480.8" fill="#fff" stroke="#777" stroke-width="0.75" stroke-linejoin="miter"/>
<polygon points="431.03,475.8 436.03,478.3 431.03,480.8" fill="#fff" stroke="#777" stroke-width="0.75" stroke-linejoin="miter"/>
<polygon points="433.1,475.8 438.1,478.3 433.1,480.8" fill="#fff" stroke="#777" stroke-width="0.75" stroke-linejoin="miter"/>
<polygon points="434.3,468.4 439.3,470.9 434.3,473.4" fill="#fff" stroke="#777" stroke-width="0.75" stroke-linejoin="miter"/>
<polygon points="436.32,468.4 441.32,470.9 436.32,473.4" fill="#fff" stroke="#777" stroke-width="0.75" stroke-linejoin="miter"/>
<polygon points="438.34,468.4 443.34,470.9 438.34,473.4" fill="#fff" stroke="#777" stroke-width="0.75" stroke-linejoin="miter"/>
<polygon points="440.37,468.4 445.37,470.9 440.37,473.4" fill="#fff" stroke="#777" stroke-width="0.75" stroke-linejoin="miter"/>
<polygon points="442.39,468.4 447.39,470.9 442.39,473.4" fill="#fff" stroke="#777" stroke-width="0.75" stroke-linejoin="miter"/>
<polygon points="444.41,468.4 449.41,470.9 444.41,473.4" fill="#fff" stroke="#777" stroke-width="0.75" stroke-linejoin="miter"/>
<polygon points="446.43,468.4 451.43,470.9 446.43,473.4" fill="#fff" stroke="#777" stroke-width="0.75" stroke-linejoin="miter"/>
<polygon points="448.46,468.4 453.46,470.9 448.46,473.4" fill="#fff" stroke="#777" stroke-width="0.75" stroke-linejoin="miter"/>
<polygon points="450.48,468.4 455.48,470.9 450.48,473.4" fill="#fff" stroke="#777" stroke-width="0.75" stroke-linejoin="miter"/>
<polygon points="452.5,468.4 457.5,470.9 452.5,473.4" fill="#fff" stroke="#777" stroke-width="0.75" stroke-linejoin="miter"/>
<polygon points="454.3,461 459.3,463.5 454.3,466" fill="#fff" stroke="#777" stroke-width="0.75" stroke-linejoin="miter"/>
<polygon points="456.28,461 461.28,463.5 456.28,466" fill="#fff" stroke="#777" stroke-width="0.75" stroke-linejoin="miter"/>
<polygon points="458.26,461 463.26,463.5 458.26,466" fill="#fff" stroke="#777" stroke-width="0.75" stroke-linejoin="miter"/>
<polygon points="460.23,461 465.23,463.5 460.23,466" fill="#fff" stroke="#777" stroke-width="0.75" stroke-linejoin="miter"/>
<polygon points="462.21,461 467.21,463.5 462.21,466" fill="#fff" stroke="#777" stroke-width="0.75" stroke-linejoin="miter"/>
<polygon points="464.19,461 469.19,463.5 464.19,466" fill="#fff" stroke="#777" stroke-width="0.75" stroke-linejoin="miter"/>
<polygon points="466.17,461 471.17,463.5 466.17,466" fill="#fff" stroke="#777" stroke-width="0.75" stroke-linejoin="miter"/>
<polygon points="468.14,461 473.14,463.5 468.14,466" fill="#fff" stroke="#777" stroke-width="0.75" stroke-linejoin="miter"/>
<polygon points="470.12,461 475.12,463.5 470.12,466" fill="#fff" stroke="#777" stroke-width="0.75" stroke-linejoin="miter"/>
<polygon points="472.1,461 477.1,463.5 472.1,466" fill="#fff" stroke="#777" stroke-width="0.75" stroke-linejoin="miter"/>
<polygon points="474,453.5 479,456 474,458.5" fill="#fff" stroke="#777" stroke-width="0.75" stroke-linejoin="miter"/>
<polygon points="475.96,453.5 480.96,456 475.96,458.5" fill="#fff" stroke="#777" stroke-width="0.75" stroke-linejoin="miter"/>
<polygon points="477.93,453.5 482.93,456 477.93,458.5" fill="#fff" stroke="#777" stroke-width="0.75" stroke-linejoin="miter"/>
<polygon points="479.89,453.5 484.89,456 479.89,458.5" fill="#fff" stroke="#777" stroke-width="0.75" stroke-linejoin="miter"/>
<polygon points="481.86,453.5 486.86,456 481.86,458.5" fill="#fff" stroke="#777" stroke-width="0.75" stroke-linejoin="miter"/>
<polygon points="483.82,453.5 488.82,456 483.82,458.5" fill="#fff" stroke="#777" stroke-width="0.75" stroke-linejoin="miter"/>
<polygon points="485.79,453.5 490.79,456 485.79,458.5" fill="#fff" stroke="#777" stroke-width="0.75" stroke-linejoin="miter"/>
<polygon points="487.75,453.5 492.75,456 487.75,458.5" fill="#fff" stroke="#777" stroke-width="0.75" stroke-linejoin="miter"/>
<polygon points="489.71,453.5 494.71,456 489.71,458.5" fill="#fff" stroke="#777" stroke-width="0.75" stroke-linejoin="miter"/>
<polygon points="491.68,453.5 496.68,456 491.68,458.5" fill="#fff" stroke="#777" stroke-width="0.75" stroke-linejoin="miter"/>
<polygon points="493.64,453.5 498.64,456 493.64,458.5" fill="#fff" stroke="#777" stroke-width="0.75" stroke-linejoin="miter"/>
<polygon points="495.61,453.5 500.61,456 495.61,458.5" fill="#fff" stroke="#777" stroke-width="0.75" stroke-linejoin="miter"/>
<polygon points="497.57,453.5 502.57,456 497.57,458.5" fill="#fff" stroke="#777" stroke-width="0.75" stroke-linejoin="miter"/>
<polygon points="499.54,453.5 504.54,456 499.54,458.5" fill="#fff" stroke="#777" stroke-width="0.75" stroke-linejoin="miter"/>
<polygon points="501.5,453.5 506.5,456 501.5,458.5" fill="#fff" stroke="#777" stroke-width="0.75" stroke-linejoin="miter"/>
<polygon points="503.3,438.5 508.3,441 503.3,443.5" fill="#fff" stroke="#777" stroke-width="0.75" stroke-linejoin="miter"/>
<polygon points="505.24,438.5 510.24,441 505.24,443.5" fill="#fff" stroke="#777" stroke-width="0.75" stroke-linejoin="miter"/>
<polygon points="507.17,438.5 512.17,441 507.17,443.5" fill="#fff" stroke="#777" stroke-width="0.75" stroke-linejoin="miter"/>
<polygon points="509.11,438.5 514.11,441 509.11,443.5" fill="#fff" stroke="#777" stroke-width="0.75" stroke-linejoin="miter"/>
<polygon points="511.05,438.5 516.05,441 511.05,443.5" fill="#fff" stroke="#777" stroke-width="0.75" stroke-linejoin="miter"/>
<polygon points="512.98,438.5 517.98,441 512.98,443.5" fill="#fff" stroke="#777" stroke-width="0.75" stroke-linejoin="miter"/>
<polygon points="514.92,438.5 519.92,441 514.92,443.5" fill="#fff" stroke="#777" stroke-width="0.75" stroke-linejoin="miter"/>
<polygon points="516.86,438.5 521.86,441 516.86,443.5" fill="#fff" stroke="#777" stroke-width="0.75" stroke-linejoin="miter"/>
<polygon points="518.79,438.5 523.79,441 518.79,443.5" fill="#fff" stroke="#777" stroke-width="0.75" stroke-linejoin="miter"/>
<polygon points="520.73,438.5 525.73,441 520.73,443.5" fill="#fff" stroke="#777" stroke-width="0.75" stroke-linejoin="miter"/>
<polygon points="522.67,438.5 527.67,441 522.67,443.5" fill="#fff" stroke="#777" stroke-width="0.75" stroke-linejoin="miter"/>
<polygon points="524.61,438.5 529.61,441 524.61,443.5" fill="#fff" stroke="#777" stroke-width="0.75" stroke-linejoin="miter"/>
<polygon points="526.54,438.5 531.54,441 526.54,443.5" fill="#fff" stroke="#777" stroke-width="0.75" stroke-linejoin="miter"/>
<polygon points="528.48,438.5 533.48,441 528.48,443.5" fill="#fff" stroke="#777" stroke-width="0.75" stroke-linejoin="miter"/>
<polygon points="530.42,438.5 535.42,441 530.42,443.5" fill="#fff" stroke="#777" stroke-width="0.75" stroke-linejoin="miter"/>
<polygon points="532.35,438.5 537.35,441 532.35,443.5" fill="#fff" stroke="#777" stroke-width="0.75" stroke-linejoin="miter"/>
<polygon points="534.29,438.5 539.29,441 534.29,443.5" fill="#fff" stroke="#777" stroke-width="0.75" stroke-linejoin="miter"/>
<polygon points="536.23,438.5 541.23,441 536.23,443.5" fill="#fff" stroke="#777" stroke-width="0.75" stroke-linejoin="miter"/>
<polygon points="538.16,438.5 543.16,441 538.16,443.5" fill="#fff" stroke="#777" stroke-width="0.75" stroke-linejoin="miter"/>
<polygon points="540.1,438.5 545.1,441 540.1,443.5" fill="#fff" stroke="#777" stroke-width="0.75" stroke-linejoin="miter"/>
<polygon points="542.8,409.2 547.8,411.7 542.8,414.2" fill="#fff" stroke="#777" stroke-width="0.75" stroke-linejoin="miter"/>
<polygon points="544.71,409.2 549.71,411.7 544.71,414.2" fill="#fff" stroke="#777" stroke-width="0.75" stroke-linejoin="miter"/>
<polygon points="546.61,409.2 551.61,411.7 546.61,414.2" fill="#fff" stroke="#777" stroke-width="0.75" stroke-linejoin="miter"/>
<polygon points="548.52,409.2 553.52,411.7 548.52,414.2" fill="#fff" stroke="#777" stroke-width="0.75" stroke-linejoin="miter"/>
<polygon points="550.43,409.2 555.43,411.7 550.43,414.2" fill="#fff" stroke="#777" stroke-width="0.75" stroke-linejoin="miter"/>
<polygon points="552.34,409.2 557.34,411.7 552.34,414.2" fill="#fff" stroke="#777" stroke-width="0.75" stroke-linejoin="miter"/>
<polygon points="554.24,409.2 559.24,411.7 554.24,414.2" fill="#fff" stroke="#777" stroke-width="0.75" stroke-linejoin="miter"/>
<polygon points="556.15,409.2 561.15,411.7 556.15,414.2" fill="#fff" stroke="#777" stroke-width="0.75" stroke-linejoin="miter"/>
<polygon points="558.06,409.2 563.06,411.7 558.06,414.2" fill="#fff" stroke="#777" stroke-width="0.75" stroke-linejoin="miter"/>
<polygon points="559.96,409.2 564.96,411.7 559.96,414.2" fill="#fff" stroke="#777" stroke-width="0.75" stroke-linejoin="miter"/>
<polygon points="561.87,409.2 566.87,411.7 561.87,414.2" fill="#fff" stroke="#777" stroke-width="0.75" stroke-linejoin="miter"/>
<polygon points="563.78,409.2 568.78,411.7 563.78,414.2" fill="#fff" stroke="#777" stroke-width="0.75" stroke-linejoin="miter"/>
<polygon points="565.69,409.2 570.69,411.7 565.69,414.2" fill="#fff" stroke="#777" stroke-width="0.75" stroke-linejoin="miter"/>
<polygon points="567.59,409.2 572.59,411.7 567.59,414.2" fill="#fff" stroke="#777" stroke-width="0.75" stroke-linejoin="miter"/>
<polygon points="569.5,409.2 574.5,411.7 569.5,414.2" fill="#fff" stroke="#777" stroke-width="0.75" stroke-linejoin="miter"/>
<polygon points="572.1,364.3 577.1,366.8 572.1,369.3" fill="#fff" stroke="#777" stroke-width="0.75" stroke-linejoin="miter"/>
<polygon points="574.02,364.3 579.02,366.8 574.02,369.3" fill="#fff" stroke="#777" stroke-width="0.75" stroke-linejoin="miter"/>
<polygon points="575.94,364.3 580.94,366.8 575.94,369.3" fill="#fff" stroke="#777" stroke-width="0.75" stroke-linejoin="miter"/>
<polygon points="577.86,364.3 582.86,366.8 577.86,369.3" fill="#fff" stroke="#777" stroke-width="0.75" stroke-linejoin="miter"/>
<polygon points="579.79,364.3 584.79,366.8 579.79,369.3" fill="#fff" stroke="#777" stroke-width="0.75" stroke-linejoin="miter"/>
<polygon points="581.71,364.3 586.71,366.8 581.71,369.3" fill="#fff" stroke="#777" stroke-width="0.75" stroke-linejoin="miter"/>
<polygon points="583.63,364.3 588.63,366.8 583.63,369.3" fill="#fff" stroke="#777" stroke-width="0.75" stroke-linejoin="miter"/>
<polygon points="585.55,364.3 590.55,366.8 585.55,369.3" fill="#fff" stroke="#777" stroke-width="0.75" stroke-linejoin="miter"/>
<polygon points="587.47,364.3 592.47,366.8 587.47,369.3" fill="#fff" stroke="#777" stroke-width="0.75" stroke-linejoin="miter"/>
<polygon points="589.39,364.3 594.39,366.8 589.39,369.3" fill="#fff" stroke="#777" stroke-width="0.75" stroke-linejoin="miter"/>
<polygon points="591.31,364.3 596.31,366.8 591.31,369.3" fill="#fff" stroke="#777" stroke-width="0.75" stroke-linejoin="miter"/>
<polygon points="593.24,364.3 598.24,366.8 593.24,369.3" fill="#fff" stroke="#777" stroke-width="0.75" stroke-linejoin="miter"/>
<polygon points="595.16,364.3 600.16,366.8 595.16,369.3" fill="#fff" stroke="#777" stroke-width="0.75" stroke-linejoin="miter"/>
<polygon points="597.08,364.3 602.08,366.8 597.08,369.3" fill="#fff" stroke="#777" stroke-width="0.75" stroke-linejoin="miter"/>
<polygon points="599,364.3 604,366.8 599,369.3" fill="#fff" stroke="#777" stroke-width="0.75" stroke-linejoin="miter"/>
<polygon points="601.8,305 606.8,307.5 601.8,310" fill="#fff" stroke="#777" stroke-width="0.75" stroke-linejoin="miter"/>
<polygon points="603.74,305 608.74,307.5 603.74,310" fill="#fff" stroke="#777" stroke-width="0.75" stroke-linejoin="miter"/>
<polygon points="605.69,305 610.69,307.5 605.69,310" fill="#fff" stroke="#777" stroke-width="0.75" stroke-linejoin="miter"/>
<polygon points="607.63,305 612.63,307.5 607.63,310" fill="#fff" stroke="#777" stroke-width="0.75" stroke-linejoin="miter"/>
<polygon points="609.57,305 614.57,307.5 609.57,310" fill="#fff" stroke="#777" stroke-width="0.75" stroke-linejoin="miter"/>
<polygon points="611.51,305 616.51,307.5 611.51,310" fill="#fff" stroke="#777" stroke-width="0.75" stroke-linejoin="miter"/>
<polygon points="613.46,305 618.46,307.5 613.46,310" fill="#fff" stroke="#777" stroke-width="0.75" stroke-linejoin="miter"/>
<polygon points="615.4,305 620.4,307.5 615.4,310" fill="#fff" stroke="#777" stroke-width="0.75" stroke-linejoin="miter"/>
<polygon points="617.34,305 622.34,307.5 617.34,310" fill="#fff" stroke="#777" stroke-width="0.75" stroke-linejoin="miter"/>
<polygon points="619.29,305 624.29,307.5 619.29,310" fill="#fff" stroke="#777" stroke-width="0.75" stroke-linejoin="miter"/>
<polygon points="621.23,305 626.23,307.5 621.23,310" fill="#fff" stroke="#777" stroke-width="0.75" stroke-linejoin="miter"/>
<polygon points="623.17,305 628.17,307.5 623.17,310" fill="#fff" stroke="#777" stroke-width="0.75" stroke-linejoin="miter"/>
<polygon points="625.11,305 630.11,307.5 625.11,310" fill="#fff" stroke="#777" stroke-width="0.75" stroke-linejoin="miter"/>
<polygon points="627.06,305 632.06,307.5 627.06,310" fill="#fff" stroke="#777" stroke-width="0.75" stroke-linejoin="miter"/>
<polygon points="629,305 634,307.5 629,310" fill="#fff" stroke="#777" stroke-width="0.75" stroke-linejoin="miter"/>
<polyline points="397.6,484.7 399.57,484.7 401.53,484.7 403.5,484.7 405.46,484.7 407.43,484.7 409.4,484.7 411.36,484.7 413.33,484.7 415.29,483.73 417.26,483.2 419.23,483.2 421.19,483.2 423.16,483.2 425.12,483.2 427.09,483.2 429.06,483.2 431.02,483.2 432.99,483.2 434.95,482.91 436.92,482.62 438.89,482.68 440.85,482.73 442.82,482.78 444.78,482.84 446.75,482.89 448.72,482.94 450.68,483 452.65,483.05 454.61,482.87 456.58,479.01 458.55,479.35 460.51,479.69 462.48,480.11 464.44,481.32 466.41,482.18 468.38,482.73 470.34,483.02 472.31,483.32 474.27,483.22 476.24,476.21 478.21,480.27 480.17,481.99 482.14,482.15 484.1,482.31 486.07,482.47 488.04,482.62 490,482.78 491.97,482.94 493.93,483.09 495.9,477.68 497.87,478.3 499.83,478.91 501.8,479.53 503.76,480.11 505.73,480.59 507.7,481.02 509.66,481.14 511.63,481.27 513.59,481.39 515.56,481.52 517.53,481.64 519.49,481.77 521.46,481.74 523.42,481.66 525.39,481.58 527.36,481.51 529.32,481.43 531.29,481.45 533.25,481.52 535.22,481.59 537.19,481.66 539.15,481.73 541.12,481.63 543.08,479 545.05,479 547.02,479 548.98,479 550.95,479 552.91,479 554.88,479 556.85,479 558.81,479 560.78,479.21 562.74,479.73 564.71,480.26 566.68,480.79 568.64,480.9 570.61,481.46 573.8,459.7 576.9,462.3 577.4,471.1 580.6,475.3 583.7,474.2 586.8,475.8 589.9,474.2 592.5,476.3 595.1,475.8 598.2,476.8 600.8,477.3 602.3,479.4 603.6,437.2 605.5,434 606.9,439.1 609.5,437.2 611.5,436 613.5,435.2 615.5,445 617.4,455 619.4,440 621.4,433.2 623.4,456.3 626,454.3 628,447 630,441.1 631.5,437" fill="none" stroke="#111" stroke-width="0.9" stroke-linejoin="round" />
<polygon points="400.4,481.9 394.8,484.7 400.4,487.5" fill="#fff" stroke="#555" stroke-width="0.85" stroke-linejoin="miter"/>
<polygon points="402.37,481.9 396.77,484.7 402.37,487.5" fill="#fff" stroke="#555" stroke-width="0.85" stroke-linejoin="miter"/>
<polygon points="404.33,481.9 398.73,484.7 404.33,487.5" fill="#fff" stroke="#555" stroke-width="0.85" stroke-linejoin="miter"/>
<polygon points="406.3,481.9 400.7,484.7 406.3,487.5" fill="#fff" stroke="#555" stroke-width="0.85" stroke-linejoin="miter"/>
<polygon points="408.26,481.9 402.66,484.7 408.26,487.5" fill="#fff" stroke="#555" stroke-width="0.85" stroke-linejoin="miter"/>
<polygon points="410.23,481.9 404.63,484.7 410.23,487.5" fill="#fff" stroke="#555" stroke-width="0.85" stroke-linejoin="miter"/>
<polygon points="412.2,481.9 406.6,484.7 412.2,487.5" fill="#fff" stroke="#555" stroke-width="0.85" stroke-linejoin="miter"/>
<polygon points="414.16,481.9 408.56,484.7 414.16,487.5" fill="#fff" stroke="#555" stroke-width="0.85" stroke-linejoin="miter"/>
<polygon points="416.13,481.9 410.53,484.7 416.13,487.5" fill="#fff" stroke="#555" stroke-width="0.85" stroke-linejoin="miter"/>
<polygon points="418.09,480.93 412.49,483.73 418.09,486.53" fill="#fff" stroke="#555" stroke-width="0.85" stroke-linejoin="miter"/>
<polygon points="420.06,480.4 414.46,483.2 420.06,486" fill="#fff" stroke="#555" stroke-width="0.85" stroke-linejoin="miter"/>
<polygon points="422.03,480.4 416.43,483.2 422.03,486" fill="#fff" stroke="#555" stroke-width="0.85" stroke-linejoin="miter"/>
<polygon points="423.99,480.4 418.39,483.2 423.99,486" fill="#fff" stroke="#555" stroke-width="0.85" stroke-linejoin="miter"/>
<polygon points="425.96,480.4 420.36,483.2 425.96,486" fill="#fff" stroke="#555" stroke-width="0.85" stroke-linejoin="miter"/>
<polygon points="427.92,480.4 422.32,483.2 427.92,486" fill="#fff" stroke="#555" stroke-width="0.85" stroke-linejoin="miter"/>
<polygon points="429.89,480.4 424.29,483.2 429.89,486" fill="#fff" stroke="#555" stroke-width="0.85" stroke-linejoin="miter"/>
<polygon points="431.86,480.4 426.26,483.2 431.86,486" fill="#fff" stroke="#555" stroke-width="0.85" stroke-linejoin="miter"/>
<polygon points="433.82,480.4 428.22,483.2 433.82,486" fill="#fff" stroke="#555" stroke-width="0.85" stroke-linejoin="miter"/>
<polygon points="435.79,480.4 430.19,483.2 435.79,486" fill="#fff" stroke="#555" stroke-width="0.85" stroke-linejoin="miter"/>
<polygon points="437.75,480.11 432.15,482.91 437.75,485.71" fill="#fff" stroke="#555" stroke-width="0.85" stroke-linejoin="miter"/>
<polygon points="439.72,479.82 434.12,482.62 439.72,485.42" fill="#fff" stroke="#555" stroke-width="0.85" stroke-linejoin="miter"/>
<polygon points="441.69,479.88 436.09,482.68 441.69,485.48" fill="#fff" stroke="#555" stroke-width="0.85" stroke-linejoin="miter"/>
<polygon points="443.65,479.93 438.05,482.73 443.65,485.53" fill="#fff" stroke="#555" stroke-width="0.85" stroke-linejoin="miter"/>
<polygon points="445.62,479.98 440.02,482.78 445.62,485.58" fill="#fff" stroke="#555" stroke-width="0.85" stroke-linejoin="miter"/>
<polygon points="447.58,480.04 441.98,482.84 447.58,485.64" fill="#fff" stroke="#555" stroke-width="0.85" stroke-linejoin="miter"/>
<polygon points="449.55,480.09 443.95,482.89 449.55,485.69" fill="#fff" stroke="#555" stroke-width="0.85" stroke-linejoin="miter"/>
<polygon points="451.52,480.14 445.92,482.94 451.52,485.74" fill="#fff" stroke="#555" stroke-width="0.85" stroke-linejoin="miter"/>
<polygon points="453.48,480.2 447.88,483 453.48,485.8" fill="#fff" stroke="#555" stroke-width="0.85" stroke-linejoin="miter"/>
<polygon points="455.45,480.25 449.85,483.05 455.45,485.85" fill="#fff" stroke="#555" stroke-width="0.85" stroke-linejoin="miter"/>
<polygon points="457.41,480.07 451.81,482.87 457.41,485.67" fill="#fff" stroke="#555" stroke-width="0.85" stroke-linejoin="miter"/>
<polygon points="459.38,476.21 453.78,479.01 459.38,481.81" fill="#fff" stroke="#555" stroke-width="0.85" stroke-linejoin="miter"/>
<polygon points="461.35,476.55 455.75,479.35 461.35,482.15" fill="#fff" stroke="#555" stroke-width="0.85" stroke-linejoin="miter"/>
<polygon points="463.31,476.89 457.71,479.69 463.31,482.49" fill="#fff" stroke="#555" stroke-width="0.85" stroke-linejoin="miter"/>
<polygon points="465.28,477.31 459.68,480.11 465.28,482.91" fill="#fff" stroke="#555" stroke-width="0.85" stroke-linejoin="miter"/>
<polygon points="467.24,478.52 461.64,481.32 467.24,484.12" fill="#fff" stroke="#555" stroke-width="0.85" stroke-linejoin="miter"/>
<polygon points="469.21,479.38 463.61,482.18 469.21,484.98" fill="#fff" stroke="#555" stroke-width="0.85" stroke-linejoin="miter"/>
<polygon points="471.18,479.93 465.58,482.73 471.18,485.53" fill="#fff" stroke="#555" stroke-width="0.85" stroke-linejoin="miter"/>
<polygon points="473.14,480.22 467.54,483.02 473.14,485.82" fill="#fff" stroke="#555" stroke-width="0.85" stroke-linejoin="miter"/>
<polygon points="475.11,480.52 469.51,483.32 475.11,486.12" fill="#fff" stroke="#555" stroke-width="0.85" stroke-linejoin="miter"/>
<polygon points="477.07,480.42 471.47,483.22 477.07,486.02" fill="#fff" stroke="#555" stroke-width="0.85" stroke-linejoin="miter"/>
<polygon points="479.04,473.41 473.44,476.21 479.04,479.01" fill="#fff" stroke="#555" stroke-width="0.85" stroke-linejoin="miter"/>
<polygon points="481.01,477.47 475.41,480.27 481.01,483.07" fill="#fff" stroke="#555" stroke-width="0.85" stroke-linejoin="miter"/>
<polygon points="482.97,479.19 477.37,481.99 482.97,484.79" fill="#fff" stroke="#555" stroke-width="0.85" stroke-linejoin="miter"/>
<polygon points="484.94,479.35 479.34,482.15 484.94,484.95" fill="#fff" stroke="#555" stroke-width="0.85" stroke-linejoin="miter"/>
<polygon points="486.9,479.51 481.3,482.31 486.9,485.11" fill="#fff" stroke="#555" stroke-width="0.85" stroke-linejoin="miter"/>
<polygon points="488.87,479.67 483.27,482.47 488.87,485.27" fill="#fff" stroke="#555" stroke-width="0.85" stroke-linejoin="miter"/>
<polygon points="490.84,479.82 485.24,482.62 490.84,485.42" fill="#fff" stroke="#555" stroke-width="0.85" stroke-linejoin="miter"/>
<polygon points="492.8,479.98 487.2,482.78 492.8,485.58" fill="#fff" stroke="#555" stroke-width="0.85" stroke-linejoin="miter"/>
<polygon points="494.77,480.14 489.17,482.94 494.77,485.74" fill="#fff" stroke="#555" stroke-width="0.85" stroke-linejoin="miter"/>
<polygon points="496.73,480.29 491.13,483.09 496.73,485.89" fill="#fff" stroke="#555" stroke-width="0.85" stroke-linejoin="miter"/>
<polygon points="498.7,474.88 493.1,477.68 498.7,480.48" fill="#fff" stroke="#555" stroke-width="0.85" stroke-linejoin="miter"/>
<polygon points="500.67,475.5 495.07,478.3 500.67,481.1" fill="#fff" stroke="#555" stroke-width="0.85" stroke-linejoin="miter"/>
<polygon points="502.63,476.11 497.03,478.91 502.63,481.71" fill="#fff" stroke="#555" stroke-width="0.85" stroke-linejoin="miter"/>
<polygon points="504.6,476.73 499,479.53 504.6,482.33" fill="#fff" stroke="#555" stroke-width="0.85" stroke-linejoin="miter"/>
<polygon points="506.56,477.31 500.96,480.11 506.56,482.91" fill="#fff" stroke="#555" stroke-width="0.85" stroke-linejoin="miter"/>
<polygon points="508.53,477.79 502.93,480.59 508.53,483.39" fill="#fff" stroke="#555" stroke-width="0.85" stroke-linejoin="miter"/>
<polygon points="510.5,478.22 504.9,481.02 510.5,483.82" fill="#fff" stroke="#555" stroke-width="0.85" stroke-linejoin="miter"/>
<polygon points="512.46,478.34 506.86,481.14 512.46,483.94" fill="#fff" stroke="#555" stroke-width="0.85" stroke-linejoin="miter"/>
<polygon points="514.43,478.47 508.83,481.27 514.43,484.07" fill="#fff" stroke="#555" stroke-width="0.85" stroke-linejoin="miter"/>
<polygon points="516.39,478.59 510.79,481.39 516.39,484.19" fill="#fff" stroke="#555" stroke-width="0.85" stroke-linejoin="miter"/>
<polygon points="518.36,478.72 512.76,481.52 518.36,484.32" fill="#fff" stroke="#555" stroke-width="0.85" stroke-linejoin="miter"/>
<polygon points="520.33,478.84 514.73,481.64 520.33,484.44" fill="#fff" stroke="#555" stroke-width="0.85" stroke-linejoin="miter"/>
<polygon points="522.29,478.97 516.69,481.77 522.29,484.57" fill="#fff" stroke="#555" stroke-width="0.85" stroke-linejoin="miter"/>
<polygon points="524.26,478.94 518.66,481.74 524.26,484.54" fill="#fff" stroke="#555" stroke-width="0.85" stroke-linejoin="miter"/>
<polygon points="526.22,478.86 520.62,481.66 526.22,484.46" fill="#fff" stroke="#555" stroke-width="0.85" stroke-linejoin="miter"/>
<polygon points="528.19,478.78 522.59,481.58 528.19,484.38" fill="#fff" stroke="#555" stroke-width="0.85" stroke-linejoin="miter"/>
<polygon points="530.16,478.71 524.56,481.51 530.16,484.31" fill="#fff" stroke="#555" stroke-width="0.85" stroke-linejoin="miter"/>
<polygon points="532.12,478.63 526.52,481.43 532.12,484.23" fill="#fff" stroke="#555" stroke-width="0.85" stroke-linejoin="miter"/>
<polygon points="534.09,478.65 528.49,481.45 534.09,484.25" fill="#fff" stroke="#555" stroke-width="0.85" stroke-linejoin="miter"/>
<polygon points="536.05,478.72 530.45,481.52 536.05,484.32" fill="#fff" stroke="#555" stroke-width="0.85" stroke-linejoin="miter"/>
<polygon points="538.02,478.79 532.42,481.59 538.02,484.39" fill="#fff" stroke="#555" stroke-width="0.85" stroke-linejoin="miter"/>
<polygon points="539.99,478.86 534.39,481.66 539.99,484.46" fill="#fff" stroke="#555" stroke-width="0.85" stroke-linejoin="miter"/>
<polygon points="541.95,478.93 536.35,481.73 541.95,484.53" fill="#fff" stroke="#555" stroke-width="0.85" stroke-linejoin="miter"/>
<polygon points="543.92,478.83 538.32,481.63 543.92,484.43" fill="#fff" stroke="#555" stroke-width="0.85" stroke-linejoin="miter"/>
<polygon points="545.88,476.2 540.28,479 545.88,481.8" fill="#fff" stroke="#555" stroke-width="0.85" stroke-linejoin="miter"/>
<polygon points="547.85,476.2 542.25,479 547.85,481.8" fill="#fff" stroke="#555" stroke-width="0.85" stroke-linejoin="miter"/>
<polygon points="549.82,476.2 544.22,479 549.82,481.8" fill="#fff" stroke="#555" stroke-width="0.85" stroke-linejoin="miter"/>
<polygon points="551.78,476.2 546.18,479 551.78,481.8" fill="#fff" stroke="#555" stroke-width="0.85" stroke-linejoin="miter"/>
<polygon points="553.75,476.2 548.15,479 553.75,481.8" fill="#fff" stroke="#555" stroke-width="0.85" stroke-linejoin="miter"/>
<polygon points="555.71,476.2 550.11,479 555.71,481.8" fill="#fff" stroke="#555" stroke-width="0.85" stroke-linejoin="miter"/>
<polygon points="557.68,476.2 552.08,479 557.68,481.8" fill="#fff" stroke="#555" stroke-width="0.85" stroke-linejoin="miter"/>
<polygon points="559.65,476.2 554.05,479 559.65,481.8" fill="#fff" stroke="#555" stroke-width="0.85" stroke-linejoin="miter"/>
<polygon points="561.61,476.2 556.01,479 561.61,481.8" fill="#fff" stroke="#555" stroke-width="0.85" stroke-linejoin="miter"/>
<polygon points="563.58,476.41 557.98,479.21 563.58,482.01" fill="#fff" stroke="#555" stroke-width="0.85" stroke-linejoin="miter"/>
<polygon points="565.54,476.93 559.94,479.73 565.54,482.53" fill="#fff" stroke="#555" stroke-width="0.85" stroke-linejoin="miter"/>
<polygon points="567.51,477.46 561.91,480.26 567.51,483.06" fill="#fff" stroke="#555" stroke-width="0.85" stroke-linejoin="miter"/>
<polygon points="569.48,477.99 563.88,480.79 569.48,483.59" fill="#fff" stroke="#555" stroke-width="0.85" stroke-linejoin="miter"/>
<polygon points="571.44,478.1 565.84,480.9 571.44,483.7" fill="#fff" stroke="#555" stroke-width="0.85" stroke-linejoin="miter"/>
<polygon points="573.41,478.66 567.81,481.46 573.41,484.26" fill="#fff" stroke="#555" stroke-width="0.85" stroke-linejoin="miter"/>
<polygon points="576.6,456.9 571,459.7 576.6,462.5" fill="#fff" stroke="#555" stroke-width="0.85" stroke-linejoin="miter"/>
<polygon points="579.7,459.5 574.1,462.3 579.7,465.1" fill="#fff" stroke="#555" stroke-width="0.85" stroke-linejoin="miter"/>
<polygon points="580.2,468.3 574.6,471.1 580.2,473.9" fill="#fff" stroke="#555" stroke-width="0.85" stroke-linejoin="miter"/>
<polygon points="583.4,472.5 577.8,475.3 583.4,478.1" fill="#fff" stroke="#555" stroke-width="0.85" stroke-linejoin="miter"/>
<polygon points="586.5,471.4 580.9,474.2 586.5,477" fill="#fff" stroke="#555" stroke-width="0.85" stroke-linejoin="miter"/>
<polygon points="589.6,473 584,475.8 589.6,478.6" fill="#fff" stroke="#555" stroke-width="0.85" stroke-linejoin="miter"/>
<polygon points="592.7,471.4 587.1,474.2 592.7,477" fill="#fff" stroke="#555" stroke-width="0.85" stroke-linejoin="miter"/>
<polygon points="595.3,473.5 589.7,476.3 595.3,479.1" fill="#fff" stroke="#555" stroke-width="0.85" stroke-linejoin="miter"/>
<polygon points="597.9,473 592.3,475.8 597.9,478.6" fill="#fff" stroke="#555" stroke-width="0.85" stroke-linejoin="miter"/>
<polygon points="601,474 595.4,476.8 601,479.6" fill="#fff" stroke="#555" stroke-width="0.85" stroke-linejoin="miter"/>
<polygon points="603.6,474.5 598,477.3 603.6,480.1" fill="#fff" stroke="#555" stroke-width="0.85" stroke-linejoin="miter"/>
<polygon points="605.1,476.6 599.5,479.4 605.1,482.2" fill="#fff" stroke="#555" stroke-width="0.85" stroke-linejoin="miter"/>
<polygon points="606.4,434.4 600.8,437.2 606.4,440" fill="#fff" stroke="#555" stroke-width="0.85" stroke-linejoin="miter"/>
<polygon points="608.3,431.2 602.7,434 608.3,436.8" fill="#fff" stroke="#555" stroke-width="0.85" stroke-linejoin="miter"/>
<polygon points="609.7,436.3 604.1,439.1 609.7,441.9" fill="#fff" stroke="#555" stroke-width="0.85" stroke-linejoin="miter"/>
<polygon points="612.3,434.4 606.7,437.2 612.3,440" fill="#fff" stroke="#555" stroke-width="0.85" stroke-linejoin="miter"/>
<polygon points="614.3,433.2 608.7,436 614.3,438.8" fill="#fff" stroke="#555" stroke-width="0.85" stroke-linejoin="miter"/>
<polygon points="616.3,432.4 610.7,435.2 616.3,438" fill="#fff" stroke="#555" stroke-width="0.85" stroke-linejoin="miter"/>
<polygon points="618.3,442.2 612.7,445 618.3,447.8" fill="#fff" stroke="#555" stroke-width="0.85" stroke-linejoin="miter"/>
<polygon points="620.2,452.2 614.6,455 620.2,457.8" fill="#fff" stroke="#555" stroke-width="0.85" stroke-linejoin="miter"/>
<polygon points="622.2,437.2 616.6,440 622.2,442.8" fill="#fff" stroke="#555" stroke-width="0.85" stroke-linejoin="miter"/>
<polygon points="624.2,430.4 618.6,433.2 624.2,436" fill="#fff" stroke="#555" stroke-width="0.85" stroke-linejoin="miter"/>
<polygon points="626.2,453.5 620.6,456.3 626.2,459.1" fill="#fff" stroke="#555" stroke-width="0.85" stroke-linejoin="miter"/>
<polygon points="628.8,451.5 623.2,454.3 628.8,457.1" fill="#fff" stroke="#555" stroke-width="0.85" stroke-linejoin="miter"/>
<polygon points="630.8,444.2 625.2,447 630.8,449.8" fill="#fff" stroke="#555" stroke-width="0.85" stroke-linejoin="miter"/>
<polygon points="632.8,438.3 627.2,441.1 632.8,443.9" fill="#fff" stroke="#555" stroke-width="0.85" stroke-linejoin="miter"/>
<polygon points="634.3,434.2 628.7,437 634.3,439.8" fill="#fff" stroke="#555" stroke-width="0.85" stroke-linejoin="miter"/>
<polyline points="397.6,486.3 399.57,486.3 401.53,486.3 403.5,486.3 405.46,486.3 407.43,486.3 409.4,486.3 411.36,486.3 413.33,486.3 415.29,485.33 417.26,484.8 419.23,484.8 421.19,484.8 423.16,484.8 425.12,484.8 427.09,484.8 429.06,484.8 431.02,484.8 432.99,484.8 434.95,484.51 436.92,484.22 438.89,484.28 440.85,484.33 442.82,484.38 444.78,484.44 446.75,484.49 448.72,484.54 450.68,484.6 452.65,484.65 454.61,484.47 456.58,480.61 458.55,480.95 460.51,481.29 462.48,481.71 464.44,482.92 466.41,483.78 468.38,484.33 470.34,484.62 472.31,484.92 474.27,484.82 475.8,476.9 476.24,477.81 478.21,481.87 480.17,483.59 482.14,483.75 484.1,483.91 486.07,484.07 488.04,484.22 490,484.38 491.97,484.54 493.93,484.69 495.2,478.2 495.9,479.28 497.87,479.9 499.83,480.51 501.8,481.13 503.76,481.71 505.73,482.19 507.7,482.62 509.66,482.74 511.63,482.87 513.59,482.99 515.56,483.12 517.53,483.24 519.49,483.37 521.46,483.34 523.42,483.26 525.39,483.18 527.36,483.11 529.32,483.03 531.29,483.05 533.25,483.12 535.22,483.19 537.19,483.26 539.15,483.33 541.12,483.23 543.08,480.6 545.05,480.6 547.02,480.6 548.98,480.6 550.95,480.6 552.91,480.6 554.88,480.6 556.85,480.6 558.81,480.6 560.78,480.81 562.74,481.33 564.71,481.86 566.68,482.39 568.64,482.5 570.61,483.06 572.57,483.39 574.54,478.66 576.51,476.87 578.47,478.25 580.44,479.84 582.4,481.56 584.37,481.94 586.34,482.31 588.3,482.6 590.27,482.79 592.23,482.97 594.2,483.36 596.17,483.78 598.13,484.1 600.1,484.1 602.06,484.1 603.6,455.6 606.2,470.8 607.5,458.3 609.5,454.3 611.5,447 613.5,451.7 616.1,448.4 618.1,458.9 619.4,450.3 621.4,445.7 623.4,462.2 625.3,451.7 627.3,458.9 629.3,449.7 630.6,455" fill="none" stroke="#4a4ae0" stroke-width="0.9" stroke-linejoin="round" />
<polygon points="397.6,483.2 400.7,486.3 397.6,489.4 394.5,486.3" fill="#fff" stroke="#6a6af2" stroke-width="1.0"/>
<polygon points="399.57,483.2 402.67,486.3 399.57,489.4 396.47,486.3" fill="#fff" stroke="#6a6af2" stroke-width="1.0"/>
<polygon points="401.53,483.2 404.63,486.3 401.53,489.4 398.43,486.3" fill="#fff" stroke="#6a6af2" stroke-width="1.0"/>
<polygon points="403.5,483.2 406.6,486.3 403.5,489.4 400.4,486.3" fill="#fff" stroke="#6a6af2" stroke-width="1.0"/>
<polygon points="405.46,483.2 408.56,486.3 405.46,489.4 402.36,486.3" fill="#fff" stroke="#6a6af2" stroke-width="1.0"/>
<polygon points="407.43,483.2 410.53,486.3 407.43,489.4 404.33,486.3" fill="#fff" stroke="#6a6af2" stroke-width="1.0"/>
<polygon points="409.4,483.2 412.5,486.3 409.4,489.4 406.3,486.3" fill="#fff" stroke="#6a6af2" stroke-width="1.0"/>
<polygon points="411.36,483.2 414.46,486.3 411.36,489.4 408.26,486.3" fill="#fff" stroke="#6a6af2" stroke-width="1.0"/>
<polygon points="413.33,483.2 416.43,486.3 413.33,489.4 410.23,486.3" fill="#fff" stroke="#6a6af2" stroke-width="1.0"/>
<polygon points="415.29,482.23 418.39,485.33 415.29,488.43 412.19,485.33" fill="#fff" stroke="#6a6af2" stroke-width="1.0"/>
<polygon points="417.26,481.7 420.36,484.8 417.26,487.9 414.16,484.8" fill="#fff" stroke="#6a6af2" stroke-width="1.0"/>
<polygon points="419.23,481.7 422.33,484.8 419.23,487.9 416.13,484.8" fill="#fff" stroke="#6a6af2" stroke-width="1.0"/>
<polygon points="421.19,481.7 424.29,484.8 421.19,487.9 418.09,484.8" fill="#fff" stroke="#6a6af2" stroke-width="1.0"/>
<polygon points="423.16,481.7 426.26,484.8 423.16,487.9 420.06,484.8" fill="#fff" stroke="#6a6af2" stroke-width="1.0"/>
<polygon points="425.12,481.7 428.22,484.8 425.12,487.9 422.02,484.8" fill="#fff" stroke="#6a6af2" stroke-width="1.0"/>
<polygon points="427.09,481.7 430.19,484.8 427.09,487.9 423.99,484.8" fill="#fff" stroke="#6a6af2" stroke-width="1.0"/>
<polygon points="429.06,481.7 432.16,484.8 429.06,487.9 425.96,484.8" fill="#fff" stroke="#6a6af2" stroke-width="1.0"/>
<polygon points="431.02,481.7 434.12,484.8 431.02,487.9 427.92,484.8" fill="#fff" stroke="#6a6af2" stroke-width="1.0"/>
<polygon points="432.99,481.7 436.09,484.8 432.99,487.9 429.89,484.8" fill="#fff" stroke="#6a6af2" stroke-width="1.0"/>
<polygon points="434.95,481.41 438.05,484.51 434.95,487.61 431.85,484.51" fill="#fff" stroke="#6a6af2" stroke-width="1.0"/>
<polygon points="436.92,481.12 440.02,484.22 436.92,487.32 433.82,484.22" fill="#fff" stroke="#6a6af2" stroke-width="1.0"/>
<polygon points="438.89,481.18 441.99,484.28 438.89,487.38 435.79,484.28" fill="#fff" stroke="#6a6af2" stroke-width="1.0"/>
<polygon points="440.85,481.23 443.95,484.33 440.85,487.43 437.75,484.33" fill="#fff" stroke="#6a6af2" stroke-width="1.0"/>
<polygon points="442.82,481.28 445.92,484.38 442.82,487.48 439.72,484.38" fill="#fff" stroke="#6a6af2" stroke-width="1.0"/>
<polygon points="444.78,481.34 447.88,484.44 444.78,487.54 441.68,484.44" fill="#fff" stroke="#6a6af2" stroke-width="1.0"/>
<polygon points="446.75,481.39 449.85,484.49 446.75,487.59 443.65,484.49" fill="#fff" stroke="#6a6af2" stroke-width="1.0"/>
<polygon points="448.72,481.44 451.82,484.54 448.72,487.64 445.62,484.54" fill="#fff" stroke="#6a6af2" stroke-width="1.0"/>
<polygon points="450.68,481.5 453.78,484.6 450.68,487.7 447.58,484.6" fill="#fff" stroke="#6a6af2" stroke-width="1.0"/>
<polygon points="452.65,481.55 455.75,484.65 452.65,487.75 449.55,484.65" fill="#fff" stroke="#6a6af2" stroke-width="1.0"/>
<polygon points="454.61,481.37 457.71,484.47 454.61,487.57 451.51,484.47" fill="#fff" stroke="#6a6af2" stroke-width="1.0"/>
<polygon points="456.58,477.51 459.68,480.61 456.58,483.71 453.48,480.61" fill="#fff" stroke="#6a6af2" stroke-width="1.0"/>
<polygon points="458.55,477.85 461.65,480.95 458.55,484.05 455.45,480.95" fill="#fff" stroke="#6a6af2" stroke-width="1.0"/>
<polygon points="460.51,478.19 463.61,481.29 460.51,484.39 457.41,481.29" fill="#fff" stroke="#6a6af2" stroke-width="1.0"/>
<polygon points="462.48,478.61 465.58,481.71 462.48,484.81 459.38,481.71" fill="#fff" stroke="#6a6af2" stroke-width="1.0"/>
<polygon points="464.44,479.82 467.54,482.92 464.44,486.02 461.34,482.92" fill="#fff" stroke="#6a6af2" stroke-width="1.0"/>
<polygon points="466.41,480.68 469.51,483.78 466.41,486.88 463.31,483.78" fill="#fff" stroke="#6a6af2" stroke-width="1.0"/>
<polygon points="468.38,481.23 471.48,484.33 468.38,487.43 465.28,484.33" fill="#fff" stroke="#6a6af2" stroke-width="1.0"/>
<polygon points="470.34,481.52 473.44,484.62 470.34,487.72 467.24,484.62" fill="#fff" stroke="#6a6af2" stroke-width="1.0"/>
<polygon points="472.31,481.82 475.41,484.92 472.31,488.02 469.21,484.92" fill="#fff" stroke="#6a6af2" stroke-width="1.0"/>
<polygon points="474.27,481.72 477.37,484.82 474.27,487.92 471.17,484.82" fill="#fff" stroke="#6a6af2" stroke-width="1.0"/>
<polygon points="475.8,473.8 478.9,476.9 475.8,480 472.7,476.9" fill="#fff" stroke="#6a6af2" stroke-width="1.0"/>
<polygon points="476.24,474.71 479.34,477.81 476.24,480.91 473.14,477.81" fill="#fff" stroke="#6a6af2" stroke-width="1.0"/>
<polygon points="478.21,478.77 481.31,481.87 478.21,484.97 475.11,481.87" fill="#fff" stroke="#6a6af2" stroke-width="1.0"/>
<polygon points="480.17,480.49 483.27,483.59 480.17,486.69 477.07,483.59" fill="#fff" stroke="#6a6af2" stroke-width="1.0"/>
<polygon points="482.14,480.65 485.24,483.75 482.14,486.85 479.04,483.75" fill="#fff" stroke="#6a6af2" stroke-width="1.0"/>
<polygon points="484.1,480.81 487.2,483.91 484.1,487.01 481,483.91" fill="#fff" stroke="#6a6af2" stroke-width="1.0"/>
<polygon points="486.07,480.97 489.17,484.07 486.07,487.17 482.97,484.07" fill="#fff" stroke="#6a6af2" stroke-width="1.0"/>
<polygon points="488.04,481.12 491.14,484.22 488.04,487.32 484.94,484.22" fill="#fff" stroke="#6a6af2" stroke-width="1.0"/>
<polygon points="490,481.28 493.1,484.38 490,487.48 486.9,484.38" fill="#fff" stroke="#6a6af2" stroke-width="1.0"/>
<polygon points="491.97,481.44 495.07,484.54 491.97,487.64 488.87,484.54" fill="#fff" stroke="#6a6af2" stroke-width="1.0"/>
<polygon points="493.93,481.59 497.03,484.69 493.93,487.79 490.83,484.69" fill="#fff" stroke="#6a6af2" stroke-width="1.0"/>
<polygon points="495.2,475.1 498.3,478.2 495.2,481.3 492.1,478.2" fill="#fff" stroke="#6a6af2" stroke-width="1.0"/>
<polygon points="495.9,476.18 499,479.28 495.9,482.38 492.8,479.28" fill="#fff" stroke="#6a6af2" stroke-width="1.0"/>
<polygon points="497.87,476.8 500.97,479.9 497.87,483 494.77,479.9" fill="#fff" stroke="#6a6af2" stroke-width="1.0"/>
<polygon points="499.83,477.41 502.93,480.51 499.83,483.61 496.73,480.51" fill="#fff" stroke="#6a6af2" stroke-width="1.0"/>
<polygon points="501.8,478.03 504.9,481.13 501.8,484.23 498.7,481.13" fill="#fff" stroke="#6a6af2" stroke-width="1.0"/>
<polygon points="503.76,478.61 506.86,481.71 503.76,484.81 500.66,481.71" fill="#fff" stroke="#6a6af2" stroke-width="1.0"/>
<polygon points="505.73,479.09 508.83,482.19 505.73,485.29 502.63,482.19" fill="#fff" stroke="#6a6af2" stroke-width="1.0"/>
<polygon points="507.7,479.52 510.8,482.62 507.7,485.72 504.6,482.62" fill="#fff" stroke="#6a6af2" stroke-width="1.0"/>
<polygon points="509.66,479.64 512.76,482.74 509.66,485.84 506.56,482.74" fill="#fff" stroke="#6a6af2" stroke-width="1.0"/>
<polygon points="511.63,479.77 514.73,482.87 511.63,485.97 508.53,482.87" fill="#fff" stroke="#6a6af2" stroke-width="1.0"/>
<polygon points="513.59,479.89 516.69,482.99 513.59,486.09 510.49,482.99" fill="#fff" stroke="#6a6af2" stroke-width="1.0"/>
<polygon points="515.56,480.02 518.66,483.12 515.56,486.22 512.46,483.12" fill="#fff" stroke="#6a6af2" stroke-width="1.0"/>
<polygon points="517.53,480.14 520.63,483.24 517.53,486.34 514.43,483.24" fill="#fff" stroke="#6a6af2" stroke-width="1.0"/>
<polygon points="519.49,480.27 522.59,483.37 519.49,486.47 516.39,483.37" fill="#fff" stroke="#6a6af2" stroke-width="1.0"/>
<polygon points="521.46,480.24 524.56,483.34 521.46,486.44 518.36,483.34" fill="#fff" stroke="#6a6af2" stroke-width="1.0"/>
<polygon points="523.42,480.16 526.52,483.26 523.42,486.36 520.32,483.26" fill="#fff" stroke="#6a6af2" stroke-width="1.0"/>
<polygon points="525.39,480.08 528.49,483.18 525.39,486.28 522.29,483.18" fill="#fff" stroke="#6a6af2" stroke-width="1.0"/>
<polygon points="527.36,480.01 530.46,483.11 527.36,486.21 524.26,483.11" fill="#fff" stroke="#6a6af2" stroke-width="1.0"/>
<polygon points="529.32,479.93 532.42,483.03 529.32,486.13 526.22,483.03" fill="#fff" stroke="#6a6af2" stroke-width="1.0"/>
<polygon points="531.29,479.95 534.39,483.05 531.29,486.15 528.19,483.05" fill="#fff" stroke="#6a6af2" stroke-width="1.0"/>
<polygon points="533.25,480.02 536.35,483.12 533.25,486.22 530.15,483.12" fill="#fff" stroke="#6a6af2" stroke-width="1.0"/>
<polygon points="535.22,480.09 538.32,483.19 535.22,486.29 532.12,483.19" fill="#fff" stroke="#6a6af2" stroke-width="1.0"/>
<polygon points="537.19,480.16 540.29,483.26 537.19,486.36 534.09,483.26" fill="#fff" stroke="#6a6af2" stroke-width="1.0"/>
<polygon points="539.15,480.23 542.25,483.33 539.15,486.43 536.05,483.33" fill="#fff" stroke="#6a6af2" stroke-width="1.0"/>
<polygon points="541.12,480.13 544.22,483.23 541.12,486.33 538.02,483.23" fill="#fff" stroke="#6a6af2" stroke-width="1.0"/>
<polygon points="543.08,477.5 546.18,480.6 543.08,483.7 539.98,480.6" fill="#fff" stroke="#6a6af2" stroke-width="1.0"/>
<polygon points="545.05,477.5 548.15,480.6 545.05,483.7 541.95,480.6" fill="#fff" stroke="#6a6af2" stroke-width="1.0"/>
<polygon points="547.02,477.5 550.12,480.6 547.02,483.7 543.92,480.6" fill="#fff" stroke="#6a6af2" stroke-width="1.0"/>
<polygon points="548.98,477.5 552.08,480.6 548.98,483.7 545.88,480.6" fill="#fff" stroke="#6a6af2" stroke-width="1.0"/>
<polygon points="550.95,477.5 554.05,480.6 550.95,483.7 547.85,480.6" fill="#fff" stroke="#6a6af2" stroke-width="1.0"/>
<polygon points="552.91,477.5 556.01,480.6 552.91,483.7 549.81,480.6" fill="#fff" stroke="#6a6af2" stroke-width="1.0"/>
<polygon points="554.88,477.5 557.98,480.6 554.88,483.7 551.78,480.6" fill="#fff" stroke="#6a6af2" stroke-width="1.0"/>
<polygon points="556.85,477.5 559.95,480.6 556.85,483.7 553.75,480.6" fill="#fff" stroke="#6a6af2" stroke-width="1.0"/>
<polygon points="558.81,477.5 561.91,480.6 558.81,483.7 555.71,480.6" fill="#fff" stroke="#6a6af2" stroke-width="1.0"/>
<polygon points="560.78,477.71 563.88,480.81 560.78,483.91 557.68,480.81" fill="#fff" stroke="#6a6af2" stroke-width="1.0"/>
<polygon points="562.74,478.23 565.84,481.33 562.74,484.43 559.64,481.33" fill="#fff" stroke="#6a6af2" stroke-width="1.0"/>
<polygon points="564.71,478.76 567.81,481.86 564.71,484.96 561.61,481.86" fill="#fff" stroke="#6a6af2" stroke-width="1.0"/>
<polygon points="566.68,479.29 569.78,482.39 566.68,485.49 563.58,482.39" fill="#fff" stroke="#6a6af2" stroke-width="1.0"/>
<polygon points="568.64,479.4 571.74,482.5 568.64,485.6 565.54,482.5" fill="#fff" stroke="#6a6af2" stroke-width="1.0"/>
<polygon points="570.61,479.96 573.71,483.06 570.61,486.16 567.51,483.06" fill="#fff" stroke="#6a6af2" stroke-width="1.0"/>
<polygon points="572.57,480.29 575.67,483.39 572.57,486.49 569.47,483.39" fill="#fff" stroke="#6a6af2" stroke-width="1.0"/>
<polygon points="574.54,475.56 577.64,478.66 574.54,481.76 571.44,478.66" fill="#fff" stroke="#6a6af2" stroke-width="1.0"/>
<polygon points="576.51,473.77 579.61,476.87 576.51,479.97 573.41,476.87" fill="#fff" stroke="#6a6af2" stroke-width="1.0"/>
<polygon points="578.47,475.15 581.57,478.25 578.47,481.35 575.37,478.25" fill="#fff" stroke="#6a6af2" stroke-width="1.0"/>
<polygon points="580.44,476.74 583.54,479.84 580.44,482.94 577.34,479.84" fill="#fff" stroke="#6a6af2" stroke-width="1.0"/>
<polygon points="582.4,478.46 585.5,481.56 582.4,484.66 579.3,481.56" fill="#fff" stroke="#6a6af2" stroke-width="1.0"/>
<polygon points="584.37,478.84 587.47,481.94 584.37,485.04 581.27,481.94" fill="#fff" stroke="#6a6af2" stroke-width="1.0"/>
<polygon points="586.34,479.21 589.44,482.31 586.34,485.41 583.24,482.31" fill="#fff" stroke="#6a6af2" stroke-width="1.0"/>
<polygon points="588.3,479.5 591.4,482.6 588.3,485.7 585.2,482.6" fill="#fff" stroke="#6a6af2" stroke-width="1.0"/>
<polygon points="590.27,479.69 593.37,482.79 590.27,485.89 587.17,482.79" fill="#fff" stroke="#6a6af2" stroke-width="1.0"/>
<polygon points="592.23,479.87 595.33,482.97 592.23,486.07 589.13,482.97" fill="#fff" stroke="#6a6af2" stroke-width="1.0"/>
<polygon points="594.2,480.26 597.3,483.36 594.2,486.46 591.1,483.36" fill="#fff" stroke="#6a6af2" stroke-width="1.0"/>
<polygon points="596.17,480.68 599.27,483.78 596.17,486.88 593.07,483.78" fill="#fff" stroke="#6a6af2" stroke-width="1.0"/>
<polygon points="598.13,481 601.23,484.1 598.13,487.2 595.03,484.1" fill="#fff" stroke="#6a6af2" stroke-width="1.0"/>
<polygon points="600.1,481 603.2,484.1 600.1,487.2 597,484.1" fill="#fff" stroke="#6a6af2" stroke-width="1.0"/>
<polygon points="602.06,481 605.16,484.1 602.06,487.2 598.96,484.1" fill="#fff" stroke="#6a6af2" stroke-width="1.0"/>
<polygon points="603.6,452.5 606.7,455.6 603.6,458.7 600.5,455.6" fill="#fff" stroke="#6a6af2" stroke-width="1.0"/>
<polygon points="606.2,467.7 609.3,470.8 606.2,473.9 603.1,470.8" fill="#fff" stroke="#6a6af2" stroke-width="1.0"/>
<polygon points="607.5,455.2 610.6,458.3 607.5,461.4 604.4,458.3" fill="#fff" stroke="#6a6af2" stroke-width="1.0"/>
<polygon points="609.5,451.2 612.6,454.3 609.5,457.4 606.4,454.3" fill="#fff" stroke="#6a6af2" stroke-width="1.0"/>
<polygon points="611.5,443.9 614.6,447 611.5,450.1 608.4,447" fill="#fff" stroke="#6a6af2" stroke-width="1.0"/>
<polygon points="613.5,448.6 616.6,451.7 613.5,454.8 610.4,451.7" fill="#fff" stroke="#6a6af2" stroke-width="1.0"/>
<polygon points="616.1,445.3 619.2,448.4 616.1,451.5 613,448.4" fill="#fff" stroke="#6a6af2" stroke-width="1.0"/>
<polygon points="618.1,455.8 621.2,458.9 618.1,462 615,458.9" fill="#fff" stroke="#6a6af2" stroke-width="1.0"/>
<polygon points="619.4,447.2 622.5,450.3 619.4,453.4 616.3,450.3" fill="#fff" stroke="#6a6af2" stroke-width="1.0"/>
<polygon points="621.4,442.6 624.5,445.7 621.4,448.8 618.3,445.7" fill="#fff" stroke="#6a6af2" stroke-width="1.0"/>
<polygon points="623.4,459.1 626.5,462.2 623.4,465.3 620.3,462.2" fill="#fff" stroke="#6a6af2" stroke-width="1.0"/>
<polygon points="625.3,448.6 628.4,451.7 625.3,454.8 622.2,451.7" fill="#fff" stroke="#6a6af2" stroke-width="1.0"/>
<polygon points="627.3,455.8 630.4,458.9 627.3,462 624.2,458.9" fill="#fff" stroke="#6a6af2" stroke-width="1.0"/>
<polygon points="629.3,446.6 632.4,449.7 629.3,452.8 626.2,449.7" fill="#fff" stroke="#6a6af2" stroke-width="1.0"/>
<polygon points="630.6,451.9 633.7,455 630.6,458.1 627.5,455" fill="#fff" stroke="#6a6af2" stroke-width="1.0"/>
<polyline points="397.6,312.7 399.57,312.77 401.53,312.83 403.5,312.9 405.46,312.96 407.43,313.03 409.4,313.1 411.36,313.16 413.33,313.23 415.29,313.29 416.7,342.7 418.7,340 420.7,336 422.7,332 424.7,328.7 426.7,326.7 429.3,326.7 432,327.3 434.7,326.7 436.7,325.3 439.3,324 442,322 444.7,320 447.3,318 450,316.7 452.7,317.3 454.7,318 456,341.3 458,341.3 460.7,341.3 462.7,342 464.7,325 466.7,316 468.3,316 470,315.7 472,315.5 474,315.3 475.6,356.7 477.7,340.7 479.3,322 481.3,317 483.3,316 485.3,316 487.3,315.7 489.3,315.8 491.3,316 494,316.7 495.3,337.3 498,331.3 502,328.7 505,327 508.7,325.3 511,320 513.3,316.3 515.3,327.3 518.7,325.3 520.7,324 522.7,323.3 524.5,317 526,315.7 527.97,315.7 529.93,315.7 531.9,315.7 533.86,315.7 535.83,315.7 537.8,315.7 539.76,315.7 541.73,315.7 544,320.5 545.97,319.97 547.93,319.45 549.9,318.92 551.86,318.39 553.83,317.87 555.8,317.34 557.76,316.81 559.73,316.29 561.69,315.76 563.66,315.23 565.63,314.71 567.59,314.18 569.56,313.65 571.52,313.13 574,321 576,323.7 578,322.3 580,319 581.3,315 583.27,314.81 585.23,314.62 587.2,314.43 589.16,314.24 591.13,314.05 593.1,313.86 595.06,313.67 597.03,313.48 598.99,313.29 600.96,313.1 603.3,322.3 604.7,337.7 606,324.3 608.7,339.7 610.7,342.3 612,347.7 614,344.3 616,343.7 618,335.7 620,344.3 622.7,348.3 623.3,333 625.3,334.5 627.3,335.7 629.3,344.3 631.3,338.3" fill="none" stroke="#1a1ae0" stroke-width="1.2" stroke-linejoin="round" />
<rect x="395.6" y="310.7" width="4" height="4" fill="#1212e6" stroke="#1212e6" stroke-width="0.3"/>
<rect x="397.57" y="310.77" width="4" height="4" fill="#1212e6" stroke="#1212e6" stroke-width="0.3"/>
<rect x="399.53" y="310.83" width="4" height="4" fill="#1212e6" stroke="#1212e6" stroke-width="0.3"/>
<rect x="401.5" y="310.9" width="4" height="4" fill="#1212e6" stroke="#1212e6" stroke-width="0.3"/>
<rect x="403.46" y="310.96" width="4" height="4" fill="#1212e6" stroke="#1212e6" stroke-width="0.3"/>
<rect x="405.43" y="311.03" width="4" height="4" fill="#1212e6" stroke="#1212e6" stroke-width="0.3"/>
<rect x="407.4" y="311.1" width="4" height="4" fill="#1212e6" stroke="#1212e6" stroke-width="0.3"/>
<rect x="409.36" y="311.16" width="4" height="4" fill="#1212e6" stroke="#1212e6" stroke-width="0.3"/>
<rect x="411.33" y="311.23" width="4" height="4" fill="#1212e6" stroke="#1212e6" stroke-width="0.3"/>
<rect x="413.29" y="311.29" width="4" height="4" fill="#1212e6" stroke="#1212e6" stroke-width="0.3"/>
<rect x="414.7" y="340.7" width="4" height="4" fill="#1212e6" stroke="#1212e6" stroke-width="0.3"/>
<rect x="416.7" y="338" width="4" height="4" fill="#1212e6" stroke="#1212e6" stroke-width="0.3"/>
<rect x="418.7" y="334" width="4" height="4" fill="#1212e6" stroke="#1212e6" stroke-width="0.3"/>
<rect x="420.7" y="330" width="4" height="4" fill="#1212e6" stroke="#1212e6" stroke-width="0.3"/>
<rect x="422.7" y="326.7" width="4" height="4" fill="#1212e6" stroke="#1212e6" stroke-width="0.3"/>
<rect x="424.7" y="324.7" width="4" height="4" fill="#1212e6" stroke="#1212e6" stroke-width="0.3"/>
<rect x="427.3" y="324.7" width="4" height="4" fill="#1212e6" stroke="#1212e6" stroke-width="0.3"/>
<rect x="430" y="325.3" width="4" height="4" fill="#1212e6" stroke="#1212e6" stroke-width="0.3"/>
<rect x="432.7" y="324.7" width="4" height="4" fill="#1212e6" stroke="#1212e6" stroke-width="0.3"/>
<rect x="434.7" y="323.3" width="4" height="4" fill="#1212e6" stroke="#1212e6" stroke-width="0.3"/>
<rect x="437.3" y="322" width="4" height="4" fill="#1212e6" stroke="#1212e6" stroke-width="0.3"/>
<rect x="440" y="320" width="4" height="4" fill="#1212e6" stroke="#1212e6" stroke-width="0.3"/>
<rect x="442.7" y="318" width="4" height="4" fill="#1212e6" stroke="#1212e6" stroke-width="0.3"/>
<rect x="445.3" y="316" width="4" height="4" fill="#1212e6" stroke="#1212e6" stroke-width="0.3"/>
<rect x="448" y="314.7" width="4" height="4" fill="#1212e6" stroke="#1212e6" stroke-width="0.3"/>
<rect x="450.7" y="315.3" width="4" height="4" fill="#1212e6" stroke="#1212e6" stroke-width="0.3"/>
<rect x="452.7" y="316" width="4" height="4" fill="#1212e6" stroke="#1212e6" stroke-width="0.3"/>
<rect x="454" y="339.3" width="4" height="4" fill="#1212e6" stroke="#1212e6" stroke-width="0.3"/>
<rect x="456" y="339.3" width="4" height="4" fill="#1212e6" stroke="#1212e6" stroke-width="0.3"/>
<rect x="458.7" y="339.3" width="4" height="4" fill="#1212e6" stroke="#1212e6" stroke-width="0.3"/>
<rect x="460.7" y="340" width="4" height="4" fill="#1212e6" stroke="#1212e6" stroke-width="0.3"/>
<rect x="462.7" y="323" width="4" height="4" fill="#1212e6" stroke="#1212e6" stroke-width="0.3"/>
<rect x="464.7" y="314" width="4" height="4" fill="#1212e6" stroke="#1212e6" stroke-width="0.3"/>
<rect x="466.3" y="314" width="4" height="4" fill="#1212e6" stroke="#1212e6" stroke-width="0.3"/>
<rect x="468" y="313.7" width="4" height="4" fill="#1212e6" stroke="#1212e6" stroke-width="0.3"/>
<rect x="470" y="313.5" width="4" height="4" fill="#1212e6" stroke="#1212e6" stroke-width="0.3"/>
<rect x="472" y="313.3" width="4" height="4" fill="#1212e6" stroke="#1212e6" stroke-width="0.3"/>
<rect x="473.6" y="354.7" width="4" height="4" fill="#1212e6" stroke="#1212e6" stroke-width="0.3"/>
<rect x="475.7" y="338.7" width="4" height="4" fill="#1212e6" stroke="#1212e6" stroke-width="0.3"/>
<rect x="477.3" y="320" width="4" height="4" fill="#1212e6" stroke="#1212e6" stroke-width="0.3"/>
<rect x="479.3" y="315" width="4" height="4" fill="#1212e6" stroke="#1212e6" stroke-width="0.3"/>
<rect x="481.3" y="314" width="4" height="4" fill="#1212e6" stroke="#1212e6" stroke-width="0.3"/>
<rect x="483.3" y="314" width="4" height="4" fill="#1212e6" stroke="#1212e6" stroke-width="0.3"/>
<rect x="485.3" y="313.7" width="4" height="4" fill="#1212e6" stroke="#1212e6" stroke-width="0.3"/>
<rect x="487.3" y="313.8" width="4" height="4" fill="#1212e6" stroke="#1212e6" stroke-width="0.3"/>
<rect x="489.3" y="314" width="4" height="4" fill="#1212e6" stroke="#1212e6" stroke-width="0.3"/>
<rect x="492" y="314.7" width="4" height="4" fill="#1212e6" stroke="#1212e6" stroke-width="0.3"/>
<rect x="493.3" y="335.3" width="4" height="4" fill="#1212e6" stroke="#1212e6" stroke-width="0.3"/>
<rect x="496" y="329.3" width="4" height="4" fill="#1212e6" stroke="#1212e6" stroke-width="0.3"/>
<rect x="500" y="326.7" width="4" height="4" fill="#1212e6" stroke="#1212e6" stroke-width="0.3"/>
<rect x="503" y="325" width="4" height="4" fill="#1212e6" stroke="#1212e6" stroke-width="0.3"/>
<rect x="506.7" y="323.3" width="4" height="4" fill="#1212e6" stroke="#1212e6" stroke-width="0.3"/>
<rect x="509" y="318" width="4" height="4" fill="#1212e6" stroke="#1212e6" stroke-width="0.3"/>
<rect x="511.3" y="314.3" width="4" height="4" fill="#1212e6" stroke="#1212e6" stroke-width="0.3"/>
<rect x="513.3" y="325.3" width="4" height="4" fill="#1212e6" stroke="#1212e6" stroke-width="0.3"/>
<rect x="516.7" y="323.3" width="4" height="4" fill="#1212e6" stroke="#1212e6" stroke-width="0.3"/>
<rect x="518.7" y="322" width="4" height="4" fill="#1212e6" stroke="#1212e6" stroke-width="0.3"/>
<rect x="520.7" y="321.3" width="4" height="4" fill="#1212e6" stroke="#1212e6" stroke-width="0.3"/>
<rect x="522.5" y="315" width="4" height="4" fill="#1212e6" stroke="#1212e6" stroke-width="0.3"/>
<rect x="524" y="313.7" width="4" height="4" fill="#1212e6" stroke="#1212e6" stroke-width="0.3"/>
<rect x="525.97" y="313.7" width="4" height="4" fill="#1212e6" stroke="#1212e6" stroke-width="0.3"/>
<rect x="527.93" y="313.7" width="4" height="4" fill="#1212e6" stroke="#1212e6" stroke-width="0.3"/>
<rect x="529.9" y="313.7" width="4" height="4" fill="#1212e6" stroke="#1212e6" stroke-width="0.3"/>
<rect x="531.86" y="313.7" width="4" height="4" fill="#1212e6" stroke="#1212e6" stroke-width="0.3"/>
<rect x="533.83" y="313.7" width="4" height="4" fill="#1212e6" stroke="#1212e6" stroke-width="0.3"/>
<rect x="535.8" y="313.7" width="4" height="4" fill="#1212e6" stroke="#1212e6" stroke-width="0.3"/>
<rect x="537.76" y="313.7" width="4" height="4" fill="#1212e6" stroke="#1212e6" stroke-width="0.3"/>
<rect x="539.73" y="313.7" width="4" height="4" fill="#1212e6" stroke="#1212e6" stroke-width="0.3"/>
<rect x="542" y="318.5" width="4" height="4" fill="#1212e6" stroke="#1212e6" stroke-width="0.3"/>
<rect x="543.97" y="317.97" width="4" height="4" fill="#1212e6" stroke="#1212e6" stroke-width="0.3"/>
<rect x="545.93" y="317.45" width="4" height="4" fill="#1212e6" stroke="#1212e6" stroke-width="0.3"/>
<rect x="547.9" y="316.92" width="4" height="4" fill="#1212e6" stroke="#1212e6" stroke-width="0.3"/>
<rect x="549.86" y="316.39" width="4" height="4" fill="#1212e6" stroke="#1212e6" stroke-width="0.3"/>
<rect x="551.83" y="315.87" width="4" height="4" fill="#1212e6" stroke="#1212e6" stroke-width="0.3"/>
<rect x="553.8" y="315.34" width="4" height="4" fill="#1212e6" stroke="#1212e6" stroke-width="0.3"/>
<rect x="555.76" y="314.81" width="4" height="4" fill="#1212e6" stroke="#1212e6" stroke-width="0.3"/>
<rect x="557.73" y="314.29" width="4" height="4" fill="#1212e6" stroke="#1212e6" stroke-width="0.3"/>
<rect x="559.69" y="313.76" width="4" height="4" fill="#1212e6" stroke="#1212e6" stroke-width="0.3"/>
<rect x="561.66" y="313.23" width="4" height="4" fill="#1212e6" stroke="#1212e6" stroke-width="0.3"/>
<rect x="563.63" y="312.71" width="4" height="4" fill="#1212e6" stroke="#1212e6" stroke-width="0.3"/>
<rect x="565.59" y="312.18" width="4" height="4" fill="#1212e6" stroke="#1212e6" stroke-width="0.3"/>
<rect x="567.56" y="311.65" width="4" height="4" fill="#1212e6" stroke="#1212e6" stroke-width="0.3"/>
<rect x="569.52" y="311.13" width="4" height="4" fill="#1212e6" stroke="#1212e6" stroke-width="0.3"/>
<rect x="572" y="319" width="4" height="4" fill="#1212e6" stroke="#1212e6" stroke-width="0.3"/>
<rect x="574" y="321.7" width="4" height="4" fill="#1212e6" stroke="#1212e6" stroke-width="0.3"/>
<rect x="576" y="320.3" width="4" height="4" fill="#1212e6" stroke="#1212e6" stroke-width="0.3"/>
<rect x="578" y="317" width="4" height="4" fill="#1212e6" stroke="#1212e6" stroke-width="0.3"/>
<rect x="579.3" y="313" width="4" height="4" fill="#1212e6" stroke="#1212e6" stroke-width="0.3"/>
<rect x="581.27" y="312.81" width="4" height="4" fill="#1212e6" stroke="#1212e6" stroke-width="0.3"/>
<rect x="583.23" y="312.62" width="4" height="4" fill="#1212e6" stroke="#1212e6" stroke-width="0.3"/>
<rect x="585.2" y="312.43" width="4" height="4" fill="#1212e6" stroke="#1212e6" stroke-width="0.3"/>
<rect x="587.16" y="312.24" width="4" height="4" fill="#1212e6" stroke="#1212e6" stroke-width="0.3"/>
<rect x="589.13" y="312.05" width="4" height="4" fill="#1212e6" stroke="#1212e6" stroke-width="0.3"/>
<rect x="591.1" y="311.86" width="4" height="4" fill="#1212e6" stroke="#1212e6" stroke-width="0.3"/>
<rect x="593.06" y="311.67" width="4" height="4" fill="#1212e6" stroke="#1212e6" stroke-width="0.3"/>
<rect x="595.03" y="311.48" width="4" height="4" fill="#1212e6" stroke="#1212e6" stroke-width="0.3"/>
<rect x="596.99" y="311.29" width="4" height="4" fill="#1212e6" stroke="#1212e6" stroke-width="0.3"/>
<rect x="598.96" y="311.1" width="4" height="4" fill="#1212e6" stroke="#1212e6" stroke-width="0.3"/>
<rect x="601.3" y="320.3" width="4" height="4" fill="#1212e6" stroke="#1212e6" stroke-width="0.3"/>
<rect x="602.7" y="335.7" width="4" height="4" fill="#1212e6" stroke="#1212e6" stroke-width="0.3"/>
<rect x="604" y="322.3" width="4" height="4" fill="#1212e6" stroke="#1212e6" stroke-width="0.3"/>
<rect x="606.7" y="337.7" width="4" height="4" fill="#1212e6" stroke="#1212e6" stroke-width="0.3"/>
<rect x="608.7" y="340.3" width="4" height="4" fill="#1212e6" stroke="#1212e6" stroke-width="0.3"/>
<rect x="610" y="345.7" width="4" height="4" fill="#1212e6" stroke="#1212e6" stroke-width="0.3"/>
<rect x="612" y="342.3" width="4" height="4" fill="#1212e6" stroke="#1212e6" stroke-width="0.3"/>
<rect x="614" y="341.7" width="4" height="4" fill="#1212e6" stroke="#1212e6" stroke-width="0.3"/>
<rect x="616" y="333.7" width="4" height="4" fill="#1212e6" stroke="#1212e6" stroke-width="0.3"/>
<rect x="618" y="342.3" width="4" height="4" fill="#1212e6" stroke="#1212e6" stroke-width="0.3"/>
<rect x="620.7" y="346.3" width="4" height="4" fill="#1212e6" stroke="#1212e6" stroke-width="0.3"/>
<rect x="621.3" y="331" width="4" height="4" fill="#1212e6" stroke="#1212e6" stroke-width="0.3"/>
<rect x="623.3" y="332.5" width="4" height="4" fill="#1212e6" stroke="#1212e6" stroke-width="0.3"/>
<rect x="625.3" y="333.7" width="4" height="4" fill="#1212e6" stroke="#1212e6" stroke-width="0.3"/>
<rect x="627.3" y="342.3" width="4" height="4" fill="#1212e6" stroke="#1212e6" stroke-width="0.3"/>
<rect x="629.3" y="336.3" width="4" height="4" fill="#1212e6" stroke="#1212e6" stroke-width="0.3"/>
<polyline points="397.6,312.7 399.57,312.77 401.53,312.83 403.5,312.9 405.46,312.96 407.43,313.03 409.4,313.1 411.36,313.16 413.33,313.23 415.29,313.29 416,346 418.7,346.7 422,346.7 425.3,346 427.3,344 428.7,336 431.3,338 434.7,338 436.7,329.3 439.3,326.7 442,326 445,326 448,326 451.3,324 454.7,326 455.3,344.7 458,344.7 460,345 462,345.3 464,333.3 466,326 468,324 470,326.7 471.3,322 473.3,323.3 476,332 478,328.7 479.3,320.7 481.3,320 483,318.7 484.97,318.7 486.93,318.7 488.9,318.7 490.86,318.7 492.83,318.7 495.3,337.3 498,331.3 500,330 502,328.7 504,325.3 506,320.7 508.7,320.7 511,320.7 513.3,320.7 515.3,327.3 518.7,325.3 520.7,320 522,318.7 523.97,318.7 525.93,318.7 527.9,318.7 529.86,318.7 531.83,318.7 533.8,318.7 535.76,318.7 537.73,318.7 539.69,318.7 541.66,318.7 544,321.3 545.97,320.66 547.93,320.02 549.9,319.53 551.86,319.03 553.83,318.31 555.8,317.58 557.76,316.52 559.73,315.69 561.69,315.09 563.66,314.58 565.63,314.09 567.59,313.73 569.56,313.41 571.52,313.08 574,321 576,323.7 578,322.3 580,319 581.3,315 583.27,314.81 585.23,314.62 587.2,314.43 589.16,314.24 591.13,314.05 593.1,313.86 595.06,313.67 597.03,313.48 598.99,313.29 600.96,313.1 604,353 606,337.7 607.3,345.7 610,352.3 612,360.3 613.3,352.3 615.3,356.3 617.3,347.7 619.3,359 622,359 624,351 625.3,356.3 627.3,347.7 629.3,360.3 631.3,353.7" fill="none" stroke="#3a3ae0" stroke-width="1.0" stroke-linejoin="round" />
<rect x="395.5" y="310.6" width="4.2" height="4.2" fill="#fff" stroke="#6f6ff5" stroke-width="0.9"/>
<rect x="397.47" y="310.67" width="4.2" height="4.2" fill="#fff" stroke="#6f6ff5" stroke-width="0.9"/>
<rect x="399.43" y="310.73" width="4.2" height="4.2" fill="#fff" stroke="#6f6ff5" stroke-width="0.9"/>
<rect x="401.4" y="310.8" width="4.2" height="4.2" fill="#fff" stroke="#6f6ff5" stroke-width="0.9"/>
<rect x="403.36" y="310.86" width="4.2" height="4.2" fill="#fff" stroke="#6f6ff5" stroke-width="0.9"/>
<rect x="405.33" y="310.93" width="4.2" height="4.2" fill="#fff" stroke="#6f6ff5" stroke-width="0.9"/>
<rect x="407.3" y="311" width="4.2" height="4.2" fill="#fff" stroke="#6f6ff5" stroke-width="0.9"/>
<rect x="409.26" y="311.06" width="4.2" height="4.2" fill="#fff" stroke="#6f6ff5" stroke-width="0.9"/>
<rect x="411.23" y="311.13" width="4.2" height="4.2" fill="#fff" stroke="#6f6ff5" stroke-width="0.9"/>
<rect x="413.19" y="311.19" width="4.2" height="4.2" fill="#fff" stroke="#6f6ff5" stroke-width="0.9"/>
<rect x="413.9" y="343.9" width="4.2" height="4.2" fill="#fff" stroke="#6f6ff5" stroke-width="0.9"/>
<rect x="416.6" y="344.6" width="4.2" height="4.2" fill="#fff" stroke="#6f6ff5" stroke-width="0.9"/>
<rect x="419.9" y="344.6" width="4.2" height="4.2" fill="#fff" stroke="#6f6ff5" stroke-width="0.9"/>
<rect x="423.2" y="343.9" width="4.2" height="4.2" fill="#fff" stroke="#6f6ff5" stroke-width="0.9"/>
<rect x="425.2" y="341.9" width="4.2" height="4.2" fill="#fff" stroke="#6f6ff5" stroke-width="0.9"/>
<rect x="426.6" y="333.9" width="4.2" height="4.2" fill="#fff" stroke="#6f6ff5" stroke-width="0.9"/>
<rect x="429.2" y="335.9" width="4.2" height="4.2" fill="#fff" stroke="#6f6ff5" stroke-width="0.9"/>
<rect x="432.6" y="335.9" width="4.2" height="4.2" fill="#fff" stroke="#6f6ff5" stroke-width="0.9"/>
<rect x="434.6" y="327.2" width="4.2" height="4.2" fill="#fff" stroke="#6f6ff5" stroke-width="0.9"/>
<rect x="437.2" y="324.6" width="4.2" height="4.2" fill="#fff" stroke="#6f6ff5" stroke-width="0.9"/>
<rect x="439.9" y="323.9" width="4.2" height="4.2" fill="#fff" stroke="#6f6ff5" stroke-width="0.9"/>
<rect x="442.9" y="323.9" width="4.2" height="4.2" fill="#fff" stroke="#6f6ff5" stroke-width="0.9"/>
<rect x="445.9" y="323.9" width="4.2" height="4.2" fill="#fff" stroke="#6f6ff5" stroke-width="0.9"/>
<rect x="449.2" y="321.9" width="4.2" height="4.2" fill="#fff" stroke="#6f6ff5" stroke-width="0.9"/>
<rect x="452.6" y="323.9" width="4.2" height="4.2" fill="#fff" stroke="#6f6ff5" stroke-width="0.9"/>
<rect x="453.2" y="342.6" width="4.2" height="4.2" fill="#fff" stroke="#6f6ff5" stroke-width="0.9"/>
<rect x="455.9" y="342.6" width="4.2" height="4.2" fill="#fff" stroke="#6f6ff5" stroke-width="0.9"/>
<rect x="457.9" y="342.9" width="4.2" height="4.2" fill="#fff" stroke="#6f6ff5" stroke-width="0.9"/>
<rect x="459.9" y="343.2" width="4.2" height="4.2" fill="#fff" stroke="#6f6ff5" stroke-width="0.9"/>
<rect x="461.9" y="331.2" width="4.2" height="4.2" fill="#fff" stroke="#6f6ff5" stroke-width="0.9"/>
<rect x="463.9" y="323.9" width="4.2" height="4.2" fill="#fff" stroke="#6f6ff5" stroke-width="0.9"/>
<rect x="465.9" y="321.9" width="4.2" height="4.2" fill="#fff" stroke="#6f6ff5" stroke-width="0.9"/>
<rect x="467.9" y="324.6" width="4.2" height="4.2" fill="#fff" stroke="#6f6ff5" stroke-width="0.9"/>
<rect x="469.2" y="319.9" width="4.2" height="4.2" fill="#fff" stroke="#6f6ff5" stroke-width="0.9"/>
<rect x="471.2" y="321.2" width="4.2" height="4.2" fill="#fff" stroke="#6f6ff5" stroke-width="0.9"/>
<rect x="473.9" y="329.9" width="4.2" height="4.2" fill="#fff" stroke="#6f6ff5" stroke-width="0.9"/>
<rect x="475.9" y="326.6" width="4.2" height="4.2" fill="#fff" stroke="#6f6ff5" stroke-width="0.9"/>
<rect x="477.2" y="318.6" width="4.2" height="4.2" fill="#fff" stroke="#6f6ff5" stroke-width="0.9"/>
<rect x="479.2" y="317.9" width="4.2" height="4.2" fill="#fff" stroke="#6f6ff5" stroke-width="0.9"/>
<rect x="480.9" y="316.6" width="4.2" height="4.2" fill="#fff" stroke="#6f6ff5" stroke-width="0.9"/>
<rect x="482.87" y="316.6" width="4.2" height="4.2" fill="#fff" stroke="#6f6ff5" stroke-width="0.9"/>
<rect x="484.83" y="316.6" width="4.2" height="4.2" fill="#fff" stroke="#6f6ff5" stroke-width="0.9"/>
<rect x="486.8" y="316.6" width="4.2" height="4.2" fill="#fff" stroke="#6f6ff5" stroke-width="0.9"/>
<rect x="488.76" y="316.6" width="4.2" height="4.2" fill="#fff" stroke="#6f6ff5" stroke-width="0.9"/>
<rect x="490.73" y="316.6" width="4.2" height="4.2" fill="#fff" stroke="#6f6ff5" stroke-width="0.9"/>
<rect x="493.2" y="335.2" width="4.2" height="4.2" fill="#fff" stroke="#6f6ff5" stroke-width="0.9"/>
<rect x="495.9" y="329.2" width="4.2" height="4.2" fill="#fff" stroke="#6f6ff5" stroke-width="0.9"/>
<rect x="497.9" y="327.9" width="4.2" height="4.2" fill="#fff" stroke="#6f6ff5" stroke-width="0.9"/>
<rect x="499.9" y="326.6" width="4.2" height="4.2" fill="#fff" stroke="#6f6ff5" stroke-width="0.9"/>
<rect x="501.9" y="323.2" width="4.2" height="4.2" fill="#fff" stroke="#6f6ff5" stroke-width="0.9"/>
<rect x="503.9" y="318.6" width="4.2" height="4.2" fill="#fff" stroke="#6f6ff5" stroke-width="0.9"/>
<rect x="506.6" y="318.6" width="4.2" height="4.2" fill="#fff" stroke="#6f6ff5" stroke-width="0.9"/>
<rect x="508.9" y="318.6" width="4.2" height="4.2" fill="#fff" stroke="#6f6ff5" stroke-width="0.9"/>
<rect x="511.2" y="318.6" width="4.2" height="4.2" fill="#fff" stroke="#6f6ff5" stroke-width="0.9"/>
<rect x="513.2" y="325.2" width="4.2" height="4.2" fill="#fff" stroke="#6f6ff5" stroke-width="0.9"/>
<rect x="516.6" y="323.2" width="4.2" height="4.2" fill="#fff" stroke="#6f6ff5" stroke-width="0.9"/>
<rect x="518.6" y="317.9" width="4.2" height="4.2" fill="#fff" stroke="#6f6ff5" stroke-width="0.9"/>
<rect x="519.9" y="316.6" width="4.2" height="4.2" fill="#fff" stroke="#6f6ff5" stroke-width="0.9"/>
<rect x="521.87" y="316.6" width="4.2" height="4.2" fill="#fff" stroke="#6f6ff5" stroke-width="0.9"/>
<rect x="523.83" y="316.6" width="4.2" height="4.2" fill="#fff" stroke="#6f6ff5" stroke-width="0.9"/>
<rect x="525.8" y="316.6" width="4.2" height="4.2" fill="#fff" stroke="#6f6ff5" stroke-width="0.9"/>
<rect x="527.76" y="316.6" width="4.2" height="4.2" fill="#fff" stroke="#6f6ff5" stroke-width="0.9"/>
<rect x="529.73" y="316.6" width="4.2" height="4.2" fill="#fff" stroke="#6f6ff5" stroke-width="0.9"/>
<rect x="531.7" y="316.6" width="4.2" height="4.2" fill="#fff" stroke="#6f6ff5" stroke-width="0.9"/>
<rect x="533.66" y="316.6" width="4.2" height="4.2" fill="#fff" stroke="#6f6ff5" stroke-width="0.9"/>
<rect x="535.63" y="316.6" width="4.2" height="4.2" fill="#fff" stroke="#6f6ff5" stroke-width="0.9"/>
<rect x="537.59" y="316.6" width="4.2" height="4.2" fill="#fff" stroke="#6f6ff5" stroke-width="0.9"/>
<rect x="539.56" y="316.6" width="4.2" height="4.2" fill="#fff" stroke="#6f6ff5" stroke-width="0.9"/>
<rect x="541.9" y="319.2" width="4.2" height="4.2" fill="#fff" stroke="#6f6ff5" stroke-width="0.9"/>
<rect x="543.87" y="318.56" width="4.2" height="4.2" fill="#fff" stroke="#6f6ff5" stroke-width="0.9"/>
<rect x="545.83" y="317.92" width="4.2" height="4.2" fill="#fff" stroke="#6f6ff5" stroke-width="0.9"/>
<rect x="547.8" y="317.43" width="4.2" height="4.2" fill="#fff" stroke="#6f6ff5" stroke-width="0.9"/>
<rect x="549.76" y="316.93" width="4.2" height="4.2" fill="#fff" stroke="#6f6ff5" stroke-width="0.9"/>
<rect x="551.73" y="316.21" width="4.2" height="4.2" fill="#fff" stroke="#6f6ff5" stroke-width="0.9"/>
<rect x="553.7" y="315.48" width="4.2" height="4.2" fill="#fff" stroke="#6f6ff5" stroke-width="0.9"/>
<rect x="555.66" y="314.42" width="4.2" height="4.2" fill="#fff" stroke="#6f6ff5" stroke-width="0.9"/>
<rect x="557.63" y="313.59" width="4.2" height="4.2" fill="#fff" stroke="#6f6ff5" stroke-width="0.9"/>
<rect x="559.59" y="312.99" width="4.2" height="4.2" fill="#fff" stroke="#6f6ff5" stroke-width="0.9"/>
<rect x="561.56" y="312.48" width="4.2" height="4.2" fill="#fff" stroke="#6f6ff5" stroke-width="0.9"/>
<rect x="563.53" y="311.99" width="4.2" height="4.2" fill="#fff" stroke="#6f6ff5" stroke-width="0.9"/>
<rect x="565.49" y="311.63" width="4.2" height="4.2" fill="#fff" stroke="#6f6ff5" stroke-width="0.9"/>
<rect x="567.46" y="311.31" width="4.2" height="4.2" fill="#fff" stroke="#6f6ff5" stroke-width="0.9"/>
<rect x="569.42" y="310.98" width="4.2" height="4.2" fill="#fff" stroke="#6f6ff5" stroke-width="0.9"/>
<rect x="571.9" y="318.9" width="4.2" height="4.2" fill="#fff" stroke="#6f6ff5" stroke-width="0.9"/>
<rect x="573.9" y="321.6" width="4.2" height="4.2" fill="#fff" stroke="#6f6ff5" stroke-width="0.9"/>
<rect x="575.9" y="320.2" width="4.2" height="4.2" fill="#fff" stroke="#6f6ff5" stroke-width="0.9"/>
<rect x="577.9" y="316.9" width="4.2" height="4.2" fill="#fff" stroke="#6f6ff5" stroke-width="0.9"/>
<rect x="579.2" y="312.9" width="4.2" height="4.2" fill="#fff" stroke="#6f6ff5" stroke-width="0.9"/>
<rect x="581.17" y="312.71" width="4.2" height="4.2" fill="#fff" stroke="#6f6ff5" stroke-width="0.9"/>
<rect x="583.13" y="312.52" width="4.2" height="4.2" fill="#fff" stroke="#6f6ff5" stroke-width="0.9"/>
<rect x="585.1" y="312.33" width="4.2" height="4.2" fill="#fff" stroke="#6f6ff5" stroke-width="0.9"/>
<rect x="587.06" y="312.14" width="4.2" height="4.2" fill="#fff" stroke="#6f6ff5" stroke-width="0.9"/>
<rect x="589.03" y="311.95" width="4.2" height="4.2" fill="#fff" stroke="#6f6ff5" stroke-width="0.9"/>
<rect x="591" y="311.76" width="4.2" height="4.2" fill="#fff" stroke="#6f6ff5" stroke-width="0.9"/>
<rect x="592.96" y="311.57" width="4.2" height="4.2" fill="#fff" stroke="#6f6ff5" stroke-width="0.9"/>
<rect x="594.93" y="311.38" width="4.2" height="4.2" fill="#fff" stroke="#6f6ff5" stroke-width="0.9"/>
<rect x="596.89" y="311.19" width="4.2" height="4.2" fill="#fff" stroke="#6f6ff5" stroke-width="0.9"/>
<rect x="598.86" y="311" width="4.2" height="4.2" fill="#fff" stroke="#6f6ff5" stroke-width="0.9"/>
<rect x="601.9" y="350.9" width="4.2" height="4.2" fill="#fff" stroke="#6f6ff5" stroke-width="0.9"/>
<rect x="603.9" y="335.6" width="4.2" height="4.2" fill="#fff" stroke="#6f6ff5" stroke-width="0.9"/>
<rect x="605.2" y="343.6" width="4.2" height="4.2" fill="#fff" stroke="#6f6ff5" stroke-width="0.9"/>
<rect x="607.9" y="350.2" width="4.2" height="4.2" fill="#fff" stroke="#6f6ff5" stroke-width="0.9"/>
<rect x="609.9" y="358.2" width="4.2" height="4.2" fill="#fff" stroke="#6f6ff5" stroke-width="0.9"/>
<rect x="611.2" y="350.2" width="4.2" height="4.2" fill="#fff" stroke="#6f6ff5" stroke-width="0.9"/>
<rect x="613.2" y="354.2" width="4.2" height="4.2" fill="#fff" stroke="#6f6ff5" stroke-width="0.9"/>
<rect x="615.2" y="345.6" width="4.2" height="4.2" fill="#fff" stroke="#6f6ff5" stroke-width="0.9"/>
<rect x="617.2" y="356.9" width="4.2" height="4.2" fill="#fff" stroke="#6f6ff5" stroke-width="0.9"/>
<rect x="619.9" y="356.9" width="4.2" height="4.2" fill="#fff" stroke="#6f6ff5" stroke-width="0.9"/>
<rect x="621.9" y="348.9" width="4.2" height="4.2" fill="#fff" stroke="#6f6ff5" stroke-width="0.9"/>
<rect x="623.2" y="354.2" width="4.2" height="4.2" fill="#fff" stroke="#6f6ff5" stroke-width="0.9"/>
<rect x="625.2" y="345.6" width="4.2" height="4.2" fill="#fff" stroke="#6f6ff5" stroke-width="0.9"/>
<rect x="627.2" y="358.2" width="4.2" height="4.2" fill="#fff" stroke="#6f6ff5" stroke-width="0.9"/>
<rect x="629.2" y="351.6" width="4.2" height="4.2" fill="#fff" stroke="#6f6ff5" stroke-width="0.9"/>
<rect x="375.7" y="293.2" width="258.1" height="207.3" fill="none" stroke="#1a1a1a" stroke-width="1.3"/>
<line x1="375.7" y1="500.5" x2="375.7" y2="504.5" stroke="#1a1a1a" stroke-width="1.2" />
<text x="375.7" y="516.3" font-size="11.5" text-anchor="middle" font-weight="normal" >0</text>
<line x1="415.01" y1="500.5" x2="415.01" y2="504.5" stroke="#1a1a1a" stroke-width="1.2" />
<text x="415.01" y="516.3" font-size="11.5" text-anchor="middle" font-weight="normal" >20</text>
<line x1="454.33" y1="500.5" x2="454.33" y2="504.5" stroke="#1a1a1a" stroke-width="1.2" />
<text x="454.33" y="516.3" font-size="11.5" text-anchor="middle" font-weight="normal" >40</text>
<line x1="493.64" y1="500.5" x2="493.64" y2="504.5" stroke="#1a1a1a" stroke-width="1.2" />
<text x="493.64" y="516.3" font-size="11.5" text-anchor="middle" font-weight="normal" >60</text>
<line x1="532.96" y1="500.5" x2="532.96" y2="504.5" stroke="#1a1a1a" stroke-width="1.2" />
<text x="532.96" y="516.3" font-size="11.5" text-anchor="middle" font-weight="normal" >80</text>
<line x1="572.27" y1="500.5" x2="572.27" y2="504.5" stroke="#1a1a1a" stroke-width="1.2" />
<text x="572.27" y="516.3" font-size="11.5" text-anchor="middle" font-weight="normal" >100</text>
<line x1="611.59" y1="500.5" x2="611.59" y2="504.5" stroke="#1a1a1a" stroke-width="1.2" />
<text x="611.59" y="516.3" font-size="11.5" text-anchor="middle" font-weight="normal" >120</text>
<line x1="395.36" y1="500.5" x2="395.36" y2="502.7" stroke="#1a1a1a" stroke-width="1.2" />
<line x1="434.67" y1="500.5" x2="434.67" y2="502.7" stroke="#1a1a1a" stroke-width="1.2" />
<line x1="473.99" y1="500.5" x2="473.99" y2="502.7" stroke="#1a1a1a" stroke-width="1.2" />
<line x1="513.3" y1="500.5" x2="513.3" y2="502.7" stroke="#1a1a1a" stroke-width="1.2" />
<line x1="552.62" y1="500.5" x2="552.62" y2="502.7" stroke="#1a1a1a" stroke-width="1.2" />
<line x1="591.93" y1="500.5" x2="591.93" y2="502.7" stroke="#1a1a1a" stroke-width="1.2" />
<line x1="631.24" y1="500.5" x2="631.24" y2="502.7" stroke="#1a1a1a" stroke-width="1.2" />
<line x1="371.7" y1="486.2" x2="375.7" y2="486.2" stroke="#1a1a1a" stroke-width="1.2" />
<text x="369.2" y="490.2" font-size="11.5" text-anchor="end" font-weight="normal" >0</text>
<line x1="371.7" y1="456.4" x2="375.7" y2="456.4" stroke="#1a1a1a" stroke-width="1.2" />
<text x="369.2" y="460.4" font-size="11.5" text-anchor="end" font-weight="normal" >20</text>
<line x1="371.7" y1="426.6" x2="375.7" y2="426.6" stroke="#1a1a1a" stroke-width="1.2" />
<text x="369.2" y="430.6" font-size="11.5" text-anchor="end" font-weight="normal" >40</text>
<line x1="371.7" y1="396.8" x2="375.7" y2="396.8" stroke="#1a1a1a" stroke-width="1.2" />
<text x="369.2" y="400.8" font-size="11.5" text-anchor="end" font-weight="normal" >60</text>
<line x1="371.7" y1="367" x2="375.7" y2="367" stroke="#1a1a1a" stroke-width="1.2" />
<text x="369.2" y="371" font-size="11.5" text-anchor="end" font-weight="normal" >80</text>
<line x1="371.7" y1="337.2" x2="375.7" y2="337.2" stroke="#1a1a1a" stroke-width="1.2" />
<text x="369.2" y="341.2" font-size="11.5" text-anchor="end" font-weight="normal" >100</text>
<line x1="371.7" y1="307.4" x2="375.7" y2="307.4" stroke="#1a1a1a" stroke-width="1.2" />
<text x="369.2" y="311.4" font-size="11.5" text-anchor="end" font-weight="normal" >120</text>
<line x1="373.5" y1="501.1" x2="375.7" y2="501.1" stroke="#1a1a1a" stroke-width="1.2" />
<line x1="373.5" y1="471.3" x2="375.7" y2="471.3" stroke="#1a1a1a" stroke-width="1.2" />
<line x1="373.5" y1="441.5" x2="375.7" y2="441.5" stroke="#1a1a1a" stroke-width="1.2" />
<line x1="373.5" y1="411.7" x2="375.7" y2="411.7" stroke="#1a1a1a" stroke-width="1.2" />
<line x1="373.5" y1="381.9" x2="375.7" y2="381.9" stroke="#1a1a1a" stroke-width="1.2" />
<line x1="373.5" y1="352.1" x2="375.7" y2="352.1" stroke="#1a1a1a" stroke-width="1.2" />
<line x1="373.5" y1="322.3" x2="375.7" y2="322.3" stroke="#1a1a1a" stroke-width="1.2" />
<line x1="633.8" y1="483" x2="637.8" y2="483" stroke="#1a1a1a" stroke-width="1.2" />
<text x="640.8" y="487" font-size="11.5" text-anchor="start" font-weight="normal" >0</text>
<line x1="633.8" y1="448.34" x2="637.8" y2="448.34" stroke="#1a1a1a" stroke-width="1.2" />
<text x="640.8" y="452.34" font-size="11.5" text-anchor="start" font-weight="normal" >20</text>
<line x1="633.8" y1="413.69" x2="637.8" y2="413.69" stroke="#1a1a1a" stroke-width="1.2" />
<text x="640.8" y="417.69" font-size="11.5" text-anchor="start" font-weight="normal" >40</text>
<line x1="633.8" y1="379.04" x2="637.8" y2="379.04" stroke="#1a1a1a" stroke-width="1.2" />
<text x="640.8" y="383.04" font-size="11.5" text-anchor="start" font-weight="normal" >60</text>
<line x1="633.8" y1="344.38" x2="637.8" y2="344.38" stroke="#1a1a1a" stroke-width="1.2" />
<text x="640.8" y="348.38" font-size="11.5" text-anchor="start" font-weight="normal" >80</text>
<line x1="633.8" y1="309.73" x2="637.8" y2="309.73" stroke="#1a1a1a" stroke-width="1.2" />
<text x="640.8" y="313.73" font-size="11.5" text-anchor="start" font-weight="normal" >100</text>
<line x1="633.8" y1="500.33" x2="636" y2="500.33" stroke="#1a1a1a" stroke-width="1.2" />
<line x1="633.8" y1="465.67" x2="636" y2="465.67" stroke="#1a1a1a" stroke-width="1.2" />
<line x1="633.8" y1="431.02" x2="636" y2="431.02" stroke="#1a1a1a" stroke-width="1.2" />
<line x1="633.8" y1="396.36" x2="636" y2="396.36" stroke="#1a1a1a" stroke-width="1.2" />
<line x1="633.8" y1="361.71" x2="636" y2="361.71" stroke="#1a1a1a" stroke-width="1.2" />
<line x1="633.8" y1="327.05" x2="636" y2="327.05" stroke="#1a1a1a" stroke-width="1.2" />
<text x="384.4" y="293.1" font-size="11.4" text-anchor="middle" font-weight="normal" >0</text>
<text x="403.9" y="293.1" font-size="11.4" text-anchor="middle" font-weight="normal" >1</text>
<text x="423.8" y="293.1" font-size="11.4" text-anchor="middle" font-weight="normal" >2</text>
<text x="444" y="293.1" font-size="11.4" text-anchor="middle" font-weight="normal" >3</text>
<text x="464.1" y="293.1" font-size="11.4" text-anchor="middle" font-weight="normal" >4</text>
<text x="493.7" y="293.1" font-size="11.4" text-anchor="middle" font-weight="normal" >5</text>
<text x="525.2" y="293.1" font-size="11.4" text-anchor="middle" font-weight="normal" >6</text>
<text x="560.1" y="293.1" font-size="11.4" text-anchor="middle" font-weight="normal" >7</text>
<text x="589.5" y="293.1" font-size="11.4" text-anchor="middle" font-weight="normal" >8</text>
<text x="619" y="293.1" font-size="11.4" text-anchor="middle" font-weight="normal" >9</text>
<text x="366.6" y="290.4" font-size="12.5" text-anchor="middle" font-weight="bold" >(d)</text>
<text x="505.2" y="525.4" font-size="13.1" text-anchor="middle" font-weight="normal" >Time (day)</text>
<line x1="383.9" y1="370" x2="388.4" y2="370" stroke="#333" stroke-width="1.4" />
<line x1="393.8" y1="370" x2="398.3" y2="370" stroke="#333" stroke-width="1.4" />
<polygon points="388.9,367.8 393.3,370 388.9,372.2" fill="#fff" stroke="#555" stroke-width="0.9" stroke-linejoin="miter"/>
<text x="403.9" y="373.8" font-size="11" text-anchor="start" font-weight="normal" >Inffluent Cr(VI)</text>
<line x1="383.9" y1="382.9" x2="388.4" y2="382.9" stroke="#333" stroke-width="1.4" />
<line x1="393.8" y1="382.9" x2="398.3" y2="382.9" stroke="#333" stroke-width="1.4" />
<polygon points="393.3,380.7 388.9,382.9 393.3,385.1" fill="#fff" stroke="#555" stroke-width="0.9" stroke-linejoin="miter"/>
<text x="402.1" y="386.7" font-size="11" text-anchor="start" font-weight="normal" >Effluent total Cr</text>
<line x1="383.9" y1="395.6" x2="388.4" y2="395.6" stroke="#333" stroke-width="1.4" />
<line x1="393.8" y1="395.6" x2="398.3" y2="395.6" stroke="#333" stroke-width="1.4" />
<polygon points="391.1,393.1 393.6,395.6 391.1,398.1 388.6,395.6" fill="#fff" stroke="#5a5af0" stroke-width="0.9"/>
<text x="402.1" y="399.4" font-size="11" text-anchor="start" font-weight="normal" >Effluent Cr(VI)</text>
<line x1="383.9" y1="409.3" x2="388.4" y2="409.3" stroke="#1a1ae0" stroke-width="1.4" />
<line x1="393.8" y1="409.3" x2="398.3" y2="409.3" stroke="#1a1ae0" stroke-width="1.4" />
<rect x="389.4" y="407.6" width="3.4" height="3.4" fill="#1212e6" stroke="#1212e6" stroke-width="0.3"/>
<text x="402.1" y="413.1" font-size="11" text-anchor="start" font-weight="normal" >Cr(VI) removal efficiency</text>
<line x1="383.9" y1="422.2" x2="388.4" y2="422.2" stroke="#3a3ae0" stroke-width="1.4" />
<line x1="393.8" y1="422.2" x2="398.3" y2="422.2" stroke="#3a3ae0" stroke-width="1.4" />
<rect x="389.4" y="420.5" width="3.4" height="3.4" fill="#fff" stroke="#6f6ff5" stroke-width="0.9"/>
<text x="402.8" y="426" font-size="11" text-anchor="start" font-weight="normal" >Total Cr removal efficiency</text>
<text transform="translate(352.5,396.2) rotate(-90)" font-size="13.1" text-anchor="middle">Influent Cr(VI) concentration (mg l<tspan font-size="6.2" dy="-5.5">-1</tspan><tspan dy="5.5">)</tspan></text>
<text transform="translate(662.1,395) rotate(-90)" font-size="13.1" text-anchor="middle">Removal efficiency (%)</text>
</svg>
</body></html>
